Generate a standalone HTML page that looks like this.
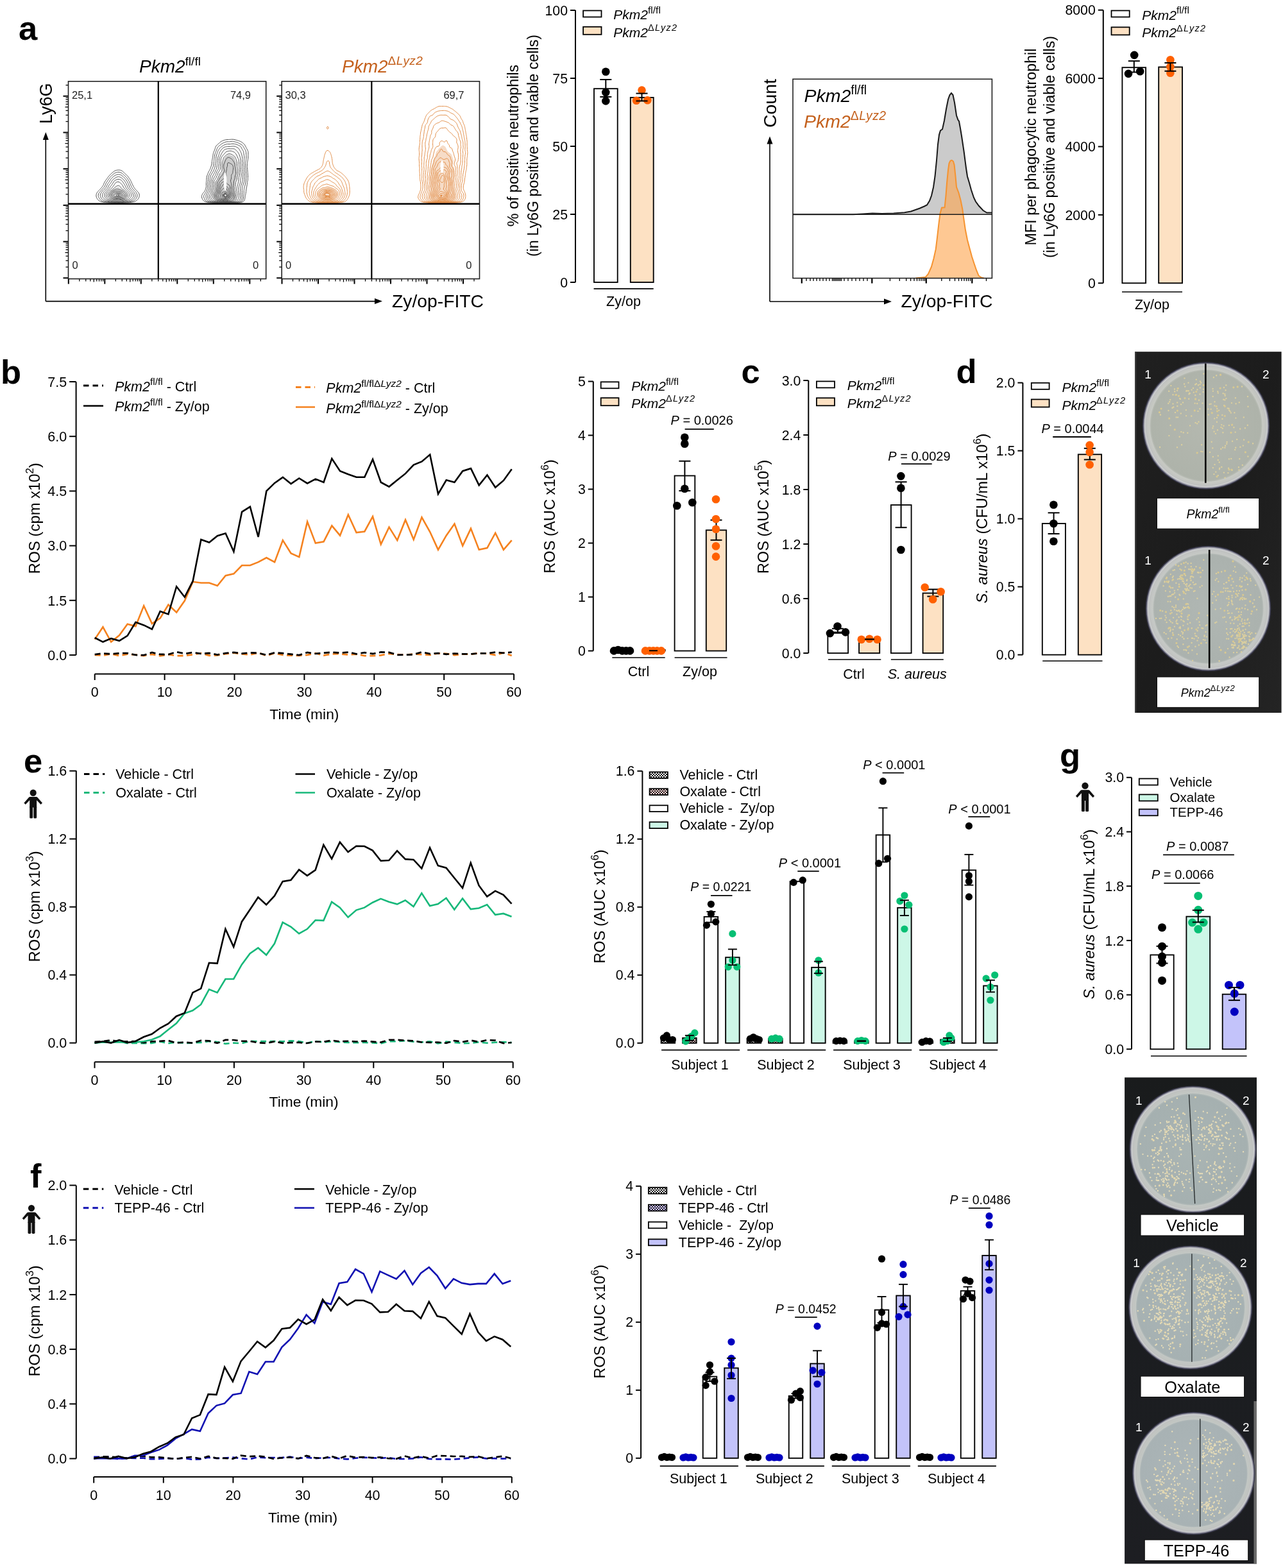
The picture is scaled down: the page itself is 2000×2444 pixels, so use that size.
<!DOCTYPE html>
<html><head><meta charset="utf-8"><title>Figure</title>
<style>html,body{margin:0;padding:0;background:#fff;} svg{display:block;} text{font-family:"Liberation Sans", Arial, sans-serif;}</style>
</head><body>
<svg width="2000" height="2444" viewBox="0 0 2000 2444" font-family='"Liberation Sans", Arial, sans-serif'>
<rect width="2000" height="2444" fill="#fff"/>
<text x="29" y="62" font-size="52.5" font-weight="bold" >a</text>
<text x="217" y="112.7" font-size="28" ><tspan font-style="italic">Pkm2</tspan><tspan dy="-11.2" font-size="19.04">fl/fl</tspan></text>
<text x="533" y="113" font-size="28" fill="#c4601c" ><tspan font-style="italic">Pkm2</tspan><tspan dy="-11.76" font-size="19.04" letter-spacing="0.42">&#916;<tspan font-style="italic">Lyz2</tspan></tspan></text>
<text transform="translate(80.5,161.3) rotate(-90)" font-size="27" text-anchor="middle" >Ly6G</text>
<line x1="71.3" y1="469.6" x2="71.3" y2="215" stroke="#000" stroke-width="1.6" />
<path d="M71.3,206 L66.8,218 L75.8,218 Z" fill="#000" stroke="none" stroke-width="0" />
<line x1="71.3" y1="469.6" x2="586" y2="469.6" stroke="#000" stroke-width="1.6" />
<path d="M596,469.6 L584,465.1 L584,474.1 Z" fill="#000" stroke="none" stroke-width="0" />
<text x="611" y="479.3" font-size="28.3" >Zy/op-FITC</text>
<path d="M186.8,311.4L185.6,311.5L184.4,311.6L183.2,311.6L182.0,311.6L180.8,311.6L179.6,311.5L178.4,311.4L177.8,311.3L176.6,311.0L175.9,310.8L174.8,310.3L174.2,310.0L173.5,309.6L172.4,309.0L171.8,308.7L171.2,308.3L170.5,307.8L169.9,307.2L169.4,306.5L168.9,305.4L168.8,304.8L168.8,303.6L168.9,303.0L169.4,301.8L169.7,301.2L170.1,300.6L170.6,300.0L171.2,299.3L171.8,298.8L172.5,298.2L173.3,297.6L174.2,297.0L174.8,296.5L175.4,296.1L176.0,295.7L176.6,295.2L177.4,294.6L178.3,294.0L179.0,293.5L179.6,293.1L180.2,292.7L181.1,292.2L182.0,291.8L182.6,291.6L183.8,291.3L185.0,291.5L185.6,291.7L186.3,292.2L186.9,292.8L187.6,293.4L188.2,294.0L188.9,294.6L189.8,295.2L190.4,295.5L191.0,295.9L191.9,296.4L192.8,297.0L193.4,297.4L194.0,297.9L194.6,298.4L195.2,298.9L195.8,299.5L196.4,300.1L197.0,300.8L197.6,301.7L198.0,302.4L198.3,303.0L198.5,304.2L198.3,305.4L198.1,306.0L197.6,306.8L197.0,307.6L196.4,308.2L195.8,308.8L195.2,309.3L194.6,309.6L193.4,310.2L192.8,310.4L191.6,310.7L191.0,310.9L189.8,311.1L188.6,311.2L187.4,311.3L186.8,311.4" fill="#505050" stroke="none" stroke-width="0" fill-opacity="0.2"/>
<path d="M193.4,316.2L192.2,316.3L191.0,316.4L189.8,316.4L188.6,316.5L187.4,316.5L186.2,316.5L185.0,316.5L183.8,316.5L182.6,316.5L181.4,316.5L180.2,316.5L179.0,316.5L177.8,316.4L176.6,316.4L175.4,316.3L174.2,316.3L173.0,316.2L172.4,316.2L171.2,316.1L170.0,316.0L168.8,316.0L167.6,315.9L166.4,315.8L165.2,315.6L164.6,315.6L163.4,315.5L162.2,315.3L161.0,315.1L160.4,315.0L159.2,314.7L158.0,314.4L157.4,314.2L156.3,313.8L155.6,313.5L155.0,313.2L154.1,312.6L153.4,312.0L152.7,311.4L152.2,310.8L151.8,310.2L151.4,309.6L150.8,308.4L150.5,307.8L150.2,306.9L150.0,306.0L149.9,304.8L150.0,303.6L150.2,302.7L150.5,301.8L150.8,301.1L151.4,300.1L151.9,299.4L152.4,298.8L152.9,298.2L153.5,297.6L154.1,297.0L154.7,296.4L155.3,295.8L155.9,295.2L156.5,294.6L157.0,294.0L157.5,293.4L158.1,292.8L158.6,292.1L159.2,291.4L159.8,290.6L160.3,289.8L160.7,289.2L161.0,288.6L161.5,287.4L161.7,286.8L162.2,285.7L162.5,285.0L162.8,284.3L163.4,283.2L163.8,282.6L164.2,282.0L164.6,281.4L165.2,280.6L165.8,279.8L166.4,279.0L166.8,278.4L167.2,277.8L167.7,277.2L168.2,276.5L168.8,275.7L169.4,274.9L170.0,274.2L170.5,273.6L171.0,273.0L171.6,272.4L172.2,271.8L172.9,271.2L173.5,270.6L174.1,270.0L174.8,269.4L175.4,268.9L176.0,268.4L176.6,267.9L177.2,267.4L177.8,267.0L178.8,266.4L179.6,266.0L180.2,265.8L181.4,265.4L182.6,265.2L183.2,265.1L184.4,265.0L185.6,265.0L186.8,265.1L187.4,265.2L188.6,265.6L189.2,265.8L190.4,266.4L191.0,266.8L191.6,267.3L192.2,267.9L192.8,268.5L193.4,269.1L194.0,269.7L194.6,270.3L195.2,270.9L195.8,271.5L196.4,272.0L197.0,272.5L197.6,273.1L198.2,273.7L198.8,274.3L199.4,275.0L200.0,275.8L200.6,276.6L201.0,277.2L201.4,277.8L201.8,278.4L202.4,279.2L203.0,280.2L203.4,280.8L203.7,281.4L204.2,282.5L204.5,283.2L204.8,283.8L205.3,285.0L205.6,285.6L206.0,286.5L206.4,287.4L206.7,288.0L207.2,289.0L207.6,289.8L207.9,290.4L208.4,291.3L208.9,292.2L209.3,292.8L209.7,293.4L210.2,294.0L210.8,294.8L211.4,295.4L212.0,296.1L212.6,296.7L213.2,297.3L213.8,298.0L214.4,298.6L215.0,299.3L215.5,300.0L216.0,300.6L216.4,301.2L216.8,302.1L217.1,303.0L217.3,304.2L217.2,305.4L217.0,306.6L216.8,307.2L216.3,308.4L216.0,309.0L215.6,309.7L215.0,310.5L214.4,311.2L213.8,311.7L213.2,312.2L212.6,312.7L211.8,313.2L210.8,313.7L210.2,314.0L209.1,314.4L208.4,314.6L207.2,314.9L206.5,315.0L205.4,315.2L204.2,315.4L203.0,315.5L202.2,315.6L201.2,315.7L200.0,315.8L198.8,315.9L197.6,316.0L196.4,316.1L195.2,316.1L194.0,316.2L193.4,316.2" fill="none" stroke="#505050" stroke-width="1.0" />
<path d="M194.6,315.6L193.4,315.7L192.2,315.8L191.0,315.9L189.8,315.9L188.6,316.0L187.4,316.0L186.2,316.0L185.0,316.0L183.8,316.0L182.6,316.0L181.4,316.0L180.2,316.0L179.0,316.0L177.8,315.9L176.6,315.9L175.4,315.9L174.2,315.8L173.0,315.7L171.8,315.6L171.2,315.6L170.0,315.5L168.8,315.3L167.6,315.2L166.4,315.1L165.8,315.0L164.6,314.8L163.4,314.6L162.4,314.4L161.6,314.2L160.5,313.8L159.8,313.5L159.2,313.2L158.2,312.6L157.4,312.0L156.8,311.5L156.2,310.9L155.6,310.3L155.1,309.6L154.7,309.0L154.3,308.4L153.8,307.4L153.5,306.6L153.2,305.4L153.2,304.8L153.2,304.2L153.4,303.0L153.8,301.8L154.1,301.2L154.5,300.6L155.0,299.9L155.6,299.1L156.2,298.5L156.8,297.8L157.4,297.1L158.0,296.4L158.6,295.8L159.1,295.2L159.7,294.6L160.2,294.0L160.8,293.4L161.4,292.8L161.9,292.2L162.4,291.6L162.9,291.0L163.4,290.0L163.8,289.2L164.0,288.6L164.5,287.4L164.7,286.8L165.2,285.8L165.6,285.0L166.0,284.4L166.4,283.8L167.0,282.9L167.6,282.1L168.0,281.4L168.4,280.8L168.8,280.2L169.4,279.3L170.0,278.4L170.5,277.8L170.9,277.2L171.4,276.6L171.9,276.0L172.5,275.4L173.0,274.8L173.6,274.2L174.2,273.6L174.9,273.0L175.6,272.4L176.3,271.8L177.1,271.2L177.8,270.6L178.4,270.2L179.0,269.8L179.8,269.4L180.8,269.0L181.4,268.8L182.6,268.5L183.8,268.3L185.0,268.3L186.2,268.4L187.4,268.7L188.0,268.9L189.1,269.4L189.8,269.8L190.4,270.2L191.0,270.7L191.6,271.3L192.2,271.8L192.8,272.4L193.5,273.0L194.1,273.6L194.7,274.2L195.4,274.8L196.0,275.4L196.6,276.0L197.2,276.6L197.7,277.2L198.2,277.8L198.8,278.6L199.4,279.6L199.8,280.2L200.2,280.8L200.6,281.6L201.2,282.6L201.5,283.2L201.8,283.9L202.3,285.0L202.6,285.6L203.0,286.5L203.4,287.4L203.6,288.0L204.1,289.2L204.4,289.8L204.8,290.8L205.2,291.6L205.5,292.2L206.0,292.9L206.6,293.8L207.2,294.6L207.7,295.2L208.2,295.8L208.8,296.4L209.4,297.0L210.1,297.6L210.7,298.2L211.2,298.8L211.7,299.4L212.2,300.0L212.6,300.7L213.2,301.8L213.5,302.4L213.8,303.5L213.9,304.2L213.9,305.4L213.8,306.0L213.4,307.2L213.2,307.8L212.6,308.8L212.1,309.6L211.5,310.2L210.9,310.8L210.3,311.4L209.6,311.9L209.0,312.4L208.4,312.8L207.7,313.2L206.6,313.7L206.0,313.9L204.8,314.3L204.2,314.5L203.0,314.7L201.8,314.9L201.2,315.0L200.0,315.2L198.8,315.3L197.6,315.4L196.4,315.5L195.2,315.6L194.6,315.6" fill="none" stroke="#505050" stroke-width="1.0" />
<path d="M194.6,315.0L193.4,315.1L192.2,315.2L191.0,315.3L189.8,315.4L188.6,315.4L187.4,315.5L186.2,315.5L185.0,315.5L183.8,315.5L182.6,315.5L181.4,315.5L180.2,315.5L179.0,315.4L177.8,315.4L176.6,315.4L175.4,315.3L174.2,315.2L173.0,315.1L172.0,315.0L171.2,314.9L170.0,314.7L168.8,314.6L167.7,314.4L167.0,314.3L165.8,314.0L165.1,313.8L164.0,313.4L163.4,313.1L162.3,312.6L161.6,312.2L161.0,311.9L160.4,311.4L159.6,310.8L159.0,310.2L158.4,309.6L158.0,309.0L157.4,308.1L156.9,307.2L156.7,306.6L156.4,305.4L156.3,304.2L156.5,303.0L156.8,302.2L157.3,301.2L157.6,300.6L158.0,300.0L158.6,299.2L159.2,298.5L159.8,297.8L160.4,297.1L161.0,296.5L161.6,295.9L162.2,295.3L162.8,294.8L163.4,294.2L164.0,293.7L164.6,293.0L165.2,292.2L165.6,291.6L165.9,291.0L166.4,289.9L166.7,289.2L167.0,288.4L167.5,287.4L167.8,286.8L168.2,286.2L168.8,285.4L169.4,284.6L170.0,283.8L170.4,283.2L170.7,282.6L171.2,281.8L171.7,280.8L172.1,280.2L172.5,279.6L173.0,278.9L173.6,278.2L174.2,277.5L174.8,277.0L175.4,276.4L176.0,275.9L176.6,275.4L177.4,274.8L178.2,274.2L179.0,273.6L179.6,273.3L180.2,273.0L181.4,272.5L182.0,272.3L183.2,272.0L184.4,271.9L185.6,272.0L186.8,272.2L187.7,272.4L188.6,272.8L189.2,273.1L190.0,273.6L190.7,274.2L191.4,274.8L192.0,275.4L192.6,276.0L193.2,276.6L193.9,277.2L194.5,277.8L195.1,278.4L195.6,279.0L196.1,279.6L196.5,280.2L197.0,281.0L197.6,282.0L198.0,282.6L198.3,283.2L198.8,284.1L199.3,285.0L199.6,285.6L200.0,286.4L200.5,287.4L200.7,288.0L201.1,289.2L201.3,289.8L201.8,291.0L202.0,291.6L202.4,292.3L203.0,293.3L203.5,294.0L203.9,294.6L204.4,295.2L204.9,295.8L205.5,296.4L206.0,297.0L206.6,297.6L207.2,298.2L207.8,298.8L208.4,299.4L209.0,300.1L209.6,301.0L210.1,301.8L210.4,302.4L210.8,303.6L210.9,304.2L210.9,305.4L210.8,306.2L210.5,307.2L210.1,307.8L209.6,308.6L209.0,309.3L208.4,310.0L207.8,310.5L207.2,311.1L206.6,311.5L206.0,312.0L205.0,312.6L204.2,313.0L203.6,313.3L202.4,313.7L201.8,313.9L200.6,314.2L199.5,314.4L198.8,314.5L197.6,314.7L196.4,314.8L195.2,314.9L194.6,315.0" fill="none" stroke="#505050" stroke-width="1.0" />
<path d="M192.8,314.5L191.6,314.6L190.4,314.7L189.2,314.8L188.0,314.9L186.8,314.9L185.6,314.9L184.4,314.9L183.2,314.9L182.0,314.9L180.8,314.9L179.6,314.8L178.4,314.8L177.2,314.8L176.0,314.7L174.8,314.6L173.6,314.4L173.0,314.3L171.8,314.1L170.6,313.9L170.0,313.7L168.8,313.4L168.0,313.2L167.0,312.8L166.4,312.6L165.3,312.0L164.6,311.5L164.0,311.1L163.4,310.6L162.8,310.2L162.1,309.6L161.5,309.0L160.9,308.4L160.4,307.7L159.8,306.6L159.6,306.0L159.5,304.8L159.6,303.6L159.8,302.8L160.2,301.8L160.5,301.2L161.0,300.3L161.6,299.5L162.1,298.8L162.7,298.2L163.2,297.6L163.8,297.0L164.4,296.4L165.1,295.8L165.7,295.2L166.3,294.6L166.9,294.0L167.5,293.4L168.0,292.8L168.3,292.2L168.8,291.3L169.2,290.4L169.4,289.8L170.0,288.6L170.4,288.0L170.8,287.4L171.3,286.8L171.8,286.2L172.4,285.4L173.0,284.6L173.5,283.8L173.8,283.2L174.2,282.5L174.8,281.5L175.3,280.8L175.9,280.2L176.6,279.6L177.2,279.2L177.8,278.7L178.4,278.3L179.2,277.8L180.0,277.2L180.8,276.6L181.4,276.3L182.1,276.0L183.2,275.7L184.4,275.5L185.6,275.6L186.8,275.9L187.4,276.1L188.3,276.6L189.2,277.2L189.8,277.6L190.4,278.1L191.0,278.6L191.6,279.1L192.2,279.6L192.8,280.2L193.4,280.9L194.0,281.7L194.6,282.6L195.0,283.2L195.3,283.8L195.8,284.6L196.4,285.6L196.7,286.2L197.0,286.8L197.6,288.0L197.9,288.6L198.2,289.5L198.5,290.4L198.8,291.1L199.3,292.2L199.7,292.8L200.1,293.4L200.6,294.1L201.2,294.9L201.8,295.6L202.4,296.3L203.0,297.0L203.6,297.6L204.2,298.2L204.8,298.8L205.4,299.4L205.9,300.0L206.4,300.6L206.8,301.2L207.2,301.9L207.7,303.0L207.9,303.6L208.1,304.8L208.0,306.0L207.8,306.6L207.2,307.6L206.7,308.4L206.2,309.0L205.6,309.6L204.9,310.2L204.2,310.8L203.6,311.2L203.0,311.5L202.1,312.0L201.2,312.4L200.6,312.7L199.4,313.1L198.8,313.3L197.6,313.6L196.8,313.8L195.8,314.0L194.6,314.2L193.4,314.4L192.8,314.5" fill="none" stroke="#505050" stroke-width="1.0" />
<path d="M190.4,313.9L189.2,314.0L188.0,314.1L186.8,314.1L185.6,314.2L184.4,314.2L183.2,314.2L182.0,314.2L180.8,314.1L179.6,314.1L178.4,314.0L177.2,314.0L176.0,313.9L175.4,313.8L174.2,313.5L173.0,313.2L172.4,313.0L171.2,312.7L170.6,312.5L169.4,312.0L168.8,311.8L167.9,311.4L167.0,310.8L166.4,310.4L165.8,309.9L165.2,309.3L164.6,308.6L164.0,307.9L163.5,307.2L163.2,306.6L162.8,305.6L162.7,304.8L162.7,303.6L162.8,303.0L163.2,301.8L163.5,301.2L164.0,300.4L164.6,299.5L165.2,298.8L165.7,298.2L166.2,297.6L166.8,297.0L167.4,296.4L168.0,295.8L168.7,295.2L169.3,294.6L169.9,294.0L170.5,293.4L170.9,292.8L171.3,292.2L171.8,291.4L172.4,290.5L172.9,289.8L173.4,289.2L173.8,288.6L174.3,288.0L174.8,287.3L175.4,286.4L175.9,285.6L176.2,285.0L176.6,284.2L177.2,283.3L177.7,282.6L178.3,282.0L179.0,281.5L179.6,281.1L180.2,280.8L181.4,280.2L182.0,279.9L183.0,279.6L183.8,279.4L185.0,279.4L186.2,279.5L186.8,279.7L187.8,280.2L188.6,280.7L189.2,281.1L189.8,281.6L190.4,282.2L191.0,282.9L191.6,283.7L192.0,284.4L192.4,285.0L192.8,285.6L193.4,286.5L193.9,287.4L194.3,288.0L194.6,288.6L195.2,289.8L195.4,290.4L195.8,291.2L196.3,292.2L196.6,292.8L197.0,293.4L197.6,294.3L198.2,295.1L198.8,295.8L199.4,296.4L199.9,297.0L200.5,297.6L201.1,298.2L201.7,298.8L202.4,299.4L203.0,300.0L203.5,300.6L204.0,301.2L204.4,301.8L204.8,302.8L205.0,303.6L204.9,304.8L204.8,305.4L204.3,306.6L203.9,307.2L203.5,307.8L203.0,308.5L202.4,309.1L201.8,309.6L201.1,310.2L200.2,310.8L199.4,311.3L198.8,311.6L197.9,312.0L197.0,312.4L196.2,312.6L195.2,312.9L194.0,313.2L193.4,313.3L192.2,313.6L191.0,313.8L190.4,313.9" fill="none" stroke="#505050" stroke-width="1.0" />
<path d="M184.4,313.2L183.2,313.2L182.4,313.2L181.4,313.2L180.2,313.1L179.0,313.1L177.8,313.0L176.6,312.8L175.6,312.6L174.8,312.4L173.8,312.0L173.0,311.7L172.2,311.4L171.2,311.0L170.6,310.8L169.4,310.2L168.8,309.9L168.2,309.4L167.6,308.9L167.0,308.3L166.4,307.4L165.9,306.6L165.6,306.0L165.3,304.8L165.3,303.6L165.7,302.4L165.9,301.8L166.4,300.9L166.9,300.0L167.3,299.4L167.8,298.8L168.3,298.2L168.9,297.6L169.6,297.0L170.4,296.4L171.1,295.8L171.8,295.3L172.4,294.8L173.0,294.2L173.6,293.7L174.2,293.1L174.8,292.4L175.4,291.7L176.0,291.0L176.4,290.4L176.8,289.8L177.2,289.2L177.8,288.3L178.4,287.4L178.8,286.8L179.2,286.2L179.7,285.6L180.2,285.0L180.8,284.4L181.9,283.8L182.6,283.6L183.8,283.5L185.0,283.6L185.6,283.8L186.7,284.4L187.4,284.9L188.0,285.5L188.6,286.1L189.2,286.7L189.8,287.4L190.3,288.0L190.8,288.6L191.2,289.2L191.6,289.9L192.1,291.0L192.4,291.6L192.8,292.2L193.4,293.1L194.0,293.8L194.6,294.5L195.2,295.2L195.7,295.8L196.3,296.4L196.9,297.0L197.5,297.6L198.1,298.2L198.7,298.8L199.2,299.4L199.8,300.0L200.4,300.6L200.9,301.2L201.4,301.8L201.8,302.5L202.1,303.6L201.9,304.8L201.7,305.4L201.2,306.4L200.7,307.2L200.3,307.8L199.8,308.4L199.2,309.0L198.5,309.6L197.7,310.2L197.0,310.6L196.4,311.0L195.4,311.4L194.6,311.7L193.5,312.0L192.8,312.2L191.6,312.5L191.0,312.6L189.8,312.8L188.6,313.0L187.4,313.1L186.2,313.1L185.0,313.2L184.4,313.2" fill="none" stroke="#505050" stroke-width="1.0" />
<path d="M183.8,312.0L182.6,312.0L181.8,312.0L180.8,312.0L179.6,311.9L178.4,311.8L177.2,311.6L176.3,311.4L175.4,311.1L174.8,310.8L173.6,310.2L173.0,310.0L172.3,309.6L171.2,309.1L170.6,308.7L170.0,308.3L169.4,307.7L168.8,307.0L168.3,306.0L168.0,305.4L167.9,304.2L168.1,303.0L168.3,302.4L168.8,301.3L169.2,300.6L169.6,300.0L170.1,299.4L170.7,298.8L171.4,298.2L172.2,297.6L173.0,297.1L173.6,296.6L174.2,296.2L174.8,295.8L175.5,295.2L176.3,294.6L177.0,294.0L177.7,293.4L178.4,292.8L179.0,292.2L179.6,291.7L180.2,291.2L180.8,290.8L181.4,290.4L182.4,289.8L183.2,289.4L184.4,289.2L185.6,289.5L186.2,289.8L186.9,290.4L187.5,291.0L188.0,291.7L188.6,292.6L189.2,293.4L189.7,294.0L190.4,294.6L191.0,295.0L191.6,295.4L192.3,295.8L193.1,296.4L193.9,297.0L194.6,297.6L195.2,298.1L195.8,298.7L196.4,299.2L197.0,299.9L197.6,300.6L198.1,301.2L198.5,301.8L198.9,302.4L199.3,303.6L199.3,304.8L198.9,306.0L198.5,306.6L198.1,307.2L197.6,307.8L197.0,308.5L196.4,309.0L195.6,309.6L194.6,310.2L194.0,310.4L193.0,310.8L192.2,311.0L191.0,311.3L190.3,311.4L189.2,311.6L188.0,311.7L186.8,311.8L185.6,311.9L184.4,312.0L183.8,312.0" fill="none" stroke="#505050" stroke-width="1.0" />
<path d="M189.2,310.2L188.0,310.4L186.8,310.5L185.6,310.6L184.4,310.7L183.2,310.7L182.0,310.7L180.8,310.7L179.6,310.6L178.4,310.5L177.2,310.2L176.6,310.0L175.7,309.6L174.8,309.1L174.2,308.7L173.6,308.3L172.8,307.8L172.1,307.2L171.5,306.6L171.1,306.0L170.6,304.8L170.5,304.2L170.6,303.2L170.9,302.4L171.2,301.7L171.8,300.8L172.4,300.0L173.0,299.4L173.6,298.9L174.2,298.4L174.8,298.0L175.4,297.6L176.3,297.0L177.2,296.4L177.8,296.1L178.4,295.8L179.6,295.3L180.2,295.1L181.4,294.9L182.6,294.8L183.8,294.9L185.0,295.1L185.6,295.3L186.8,295.6L187.4,295.8L188.6,296.3L189.2,296.6L190.1,297.0L191.0,297.5L191.6,297.9L192.2,298.3L192.9,298.8L193.7,299.4L194.4,300.0L195.0,300.6L195.6,301.2L196.0,301.8L196.4,302.5L196.8,303.6L196.8,304.8L196.4,306.0L196.0,306.6L195.6,307.2L195.1,307.8L194.5,308.4L193.6,309.0L192.8,309.4L192.2,309.6L191.0,309.9L189.8,310.1L189.2,310.2" fill="none" stroke="#505050" stroke-width="1.0" />
<path d="M188.0,309.0L186.8,309.2L185.6,309.3L184.4,309.4L183.2,309.4L182.0,309.4L180.8,309.4L179.6,309.3L178.4,309.1L177.8,309.0L176.6,308.4L176.0,308.0L175.4,307.6L174.8,307.1L174.2,306.6L173.6,305.9L173.0,304.8L172.8,304.2L172.9,303.0L173.1,302.4L173.6,301.5L174.2,300.6L174.8,300.0L175.4,299.5L176.0,299.0L176.6,298.7L177.5,298.2L178.4,297.9L179.5,297.6L180.2,297.5L181.4,297.5L182.6,297.5L183.5,297.6L184.4,297.7L185.6,297.9L186.8,298.1L187.4,298.2L188.6,298.6L189.2,298.8L190.2,299.4L191.0,300.0L191.6,300.5L192.2,301.0L192.8,301.6L193.4,302.2L194.0,302.9L194.3,303.6L194.4,304.8L194.0,306.0L193.6,306.6L193.1,307.2L192.4,307.8L191.6,308.2L191.0,308.5L189.8,308.8L188.6,308.9L188.0,309.0" fill="none" stroke="#505050" stroke-width="1.0" />
<path d="M187.4,307.8L186.2,308.0L185.0,308.1L183.8,308.1L182.6,308.1L181.4,308.1L180.2,308.0L179.0,307.8L178.4,307.7L177.4,307.2L176.6,306.6L176.0,306.1L175.4,305.4L175.0,304.8L174.8,303.7L174.8,303.5L175.1,302.4L175.4,301.8L176.0,301.1L176.6,300.6L177.8,300.0L178.4,299.9L179.6,299.7L180.8,299.6L182.0,299.5L183.2,299.6L184.4,299.7L185.6,299.9L186.3,300.0L187.4,300.2L188.4,300.6L189.2,301.0L189.8,301.5L190.4,302.1L191.0,302.8L191.6,303.6L191.8,304.2L191.8,305.4L191.5,306.0L190.9,306.6L189.8,307.2L189.2,307.4L188.0,307.7L187.4,307.8" fill="none" stroke="#505050" stroke-width="1.0" />
<path d="M186.8,306.7L185.6,306.9L184.4,306.9L183.2,306.9L182.0,306.8L180.8,306.7L180.0,306.6L179.0,306.2L178.4,305.9L177.8,305.3L177.2,304.2L177.2,303.6L177.5,303.0L178.4,302.5L179.0,302.3L180.2,302.0L181.0,301.8L182.0,301.5L183.2,301.4L184.4,301.4L185.6,301.5L186.8,301.7L187.4,301.9L188.3,302.4L189.0,303.0L189.4,303.6L189.6,304.8L189.2,305.5L188.6,306.0L187.4,306.5L186.8,306.7" fill="none" stroke="#505050" stroke-width="1.0" />
<path d="M186.2,305.5L185.0,305.7L183.8,305.7L182.6,305.5L181.9,305.4L180.9,304.8L181.4,303.8L182.0,303.4L183.2,303.0L183.8,302.9L185.0,302.9L186.0,303.0L186.8,303.4L187.4,304.0L187.4,304.5L186.8,305.2L186.2,305.5" fill="none" stroke="#505050" stroke-width="1.0" />
<path d="M185.0,304.3L184.2,304.2L185.0,304.2L185.0,304.3" fill="none" stroke="#505050" stroke-width="1.0" />
<path d="M185.0,304.3L184.2,304.2L185.0,304.2L185.0,304.3" fill="none" stroke="#505050" stroke-width="1.0" />
<path d="M355.8,314.6L354.6,314.7L353.4,314.8L352.2,314.9L351.0,314.9L349.8,314.8L348.6,314.7L347.4,314.6L346.8,314.6L345.6,314.5L344.4,314.3L343.2,314.2L342.3,314.0L341.4,313.8L340.2,313.5L339.6,313.4L338.4,313.0L337.8,312.7L336.7,312.2L336.0,311.8L335.4,311.4L334.8,311.0L334.1,310.4L333.6,309.7L333.0,308.7L332.8,308.0L332.5,306.8L332.5,305.6L332.5,304.4L332.6,303.2L332.9,302.0L333.2,301.4L333.6,300.5L334.2,299.6L334.5,299.0L334.9,298.4L335.3,297.2L335.4,296.6L335.6,295.4L335.9,294.2L336.0,293.6L336.3,292.4L336.5,291.2L336.6,290.0L336.6,289.4L336.7,288.2L336.7,287.0L336.7,285.8L336.9,284.6L337.2,283.7L337.7,282.8L338.2,282.2L338.6,281.6L339.0,281.0L339.6,279.9L339.9,279.2L340.2,278.5L340.7,277.4L341.0,276.8L341.4,276.0L341.9,275.0L342.1,274.4L342.6,273.2L342.8,272.6L343.2,271.8L343.8,270.8L344.4,270.2L345.0,269.6L345.6,269.0L346.1,268.4L346.6,267.8L346.9,267.2L347.2,266.0L347.2,264.8L347.0,263.6L346.9,262.4L346.9,261.2L346.9,260.0L346.9,258.8L346.9,257.6L346.9,256.4L347.1,255.2L347.4,254.0L347.6,253.4L348.0,252.2L348.2,251.6L348.6,250.7L348.9,249.8L349.2,248.8L349.4,248.0L349.8,246.9L350.1,246.2L350.5,245.6L351.0,245.0L351.6,244.3L352.2,243.7L352.9,243.2L353.7,242.6L354.6,242.1L355.2,241.9L356.4,241.6L357.6,241.6L358.8,241.9L359.4,242.1L360.6,242.5L361.2,242.7L362.4,243.1L363.0,243.4L363.7,243.8L364.5,244.4L365.0,245.0L365.4,245.6L365.9,246.8L366.1,247.4L366.4,248.6L366.6,249.2L367.0,250.4L367.3,251.0L367.8,252.2L368.0,252.8L368.4,254.0L368.5,254.6L368.6,255.8L368.5,257.0L368.5,258.2L368.6,259.4L368.9,260.6L369.1,261.2L369.4,262.4L369.6,263.6L369.7,264.2L369.8,265.4L369.8,266.6L369.9,267.8L370.1,269.0L370.2,270.2L370.1,271.4L369.8,272.6L369.5,273.2L369.1,274.4L368.9,275.0L368.7,276.2L368.6,277.4L368.4,278.5L368.2,279.2L367.8,280.3L367.5,281.0L367.2,281.6L366.8,282.8L366.6,283.8L366.5,284.6L366.4,285.8L366.2,287.0L366.0,288.2L365.9,288.8L365.7,290.0L365.5,291.2L365.3,291.8L365.2,293.0L365.2,294.2L365.2,295.4L365.3,296.6L365.4,297.2L365.6,298.4L365.9,299.6L366.0,300.2L366.3,301.4L366.6,302.3L366.8,303.2L366.9,304.4L366.7,305.6L366.6,306.2L366.2,307.4L366.0,308.1L365.7,309.2L365.4,310.1L365.1,311.0L364.8,311.6L364.2,312.3L363.6,312.9L362.8,313.4L361.8,313.8L361.0,314.0L360.0,314.2L358.8,314.3L357.6,314.4L356.4,314.6L355.8,314.6" fill="#505050" stroke="none" stroke-width="0" fill-opacity="0.3"/>
<path d="M363.0,317.0L361.8,317.1L360.6,317.2L359.4,317.2L358.2,317.2L357.0,317.3L355.8,317.3L354.6,317.3L353.4,317.3L352.2,317.3L351.0,317.3L349.8,317.3L348.6,317.3L347.4,317.3L346.2,317.2L345.0,317.2L343.8,317.1L342.6,317.1L341.6,317.0L340.8,317.0L339.6,316.9L338.4,316.9L337.2,316.8L336.0,316.7L334.8,316.6L333.6,316.5L332.8,316.4L331.8,316.3L330.6,316.2L329.4,316.1L328.2,316.0L327.1,315.8L326.4,315.7L325.2,315.6L324.0,315.4L323.2,315.2L322.2,315.0L321.0,314.7L320.4,314.6L319.2,314.1L318.6,313.8L318.0,313.4L317.4,312.8L316.8,312.2L316.2,311.4L315.6,310.4L315.3,309.8L315.0,309.0L314.7,308.0L314.5,306.8L314.5,305.6L314.7,304.4L315.0,303.7L315.5,302.6L315.9,302.0L316.3,301.4L316.8,300.8L317.4,300.2L318.0,299.5L318.6,298.8L319.2,297.8L319.5,297.2L319.8,296.5L320.2,295.4L320.4,294.8L320.8,293.6L321.0,293.0L321.3,291.8L321.4,290.6L321.4,289.4L321.4,288.2L321.4,287.0L321.4,285.8L321.4,284.6L321.5,283.4L321.6,282.8L321.8,281.6L321.8,280.4L321.9,279.2L322.0,278.0L322.1,276.8L322.2,276.2L322.5,275.0L322.8,274.0L323.0,273.2L323.4,272.2L323.7,271.4L324.0,270.7L324.4,269.6L324.7,269.0L325.2,267.9L325.5,267.2L325.8,266.6L326.4,265.7L326.9,264.8L327.2,264.2L327.6,263.4L328.0,262.4L328.2,261.8L328.6,260.6L328.8,260.0L329.2,258.8L329.4,258.2L329.7,257.0L330.0,255.8L330.1,255.2L330.2,254.0L330.3,252.8L330.5,251.6L330.6,250.6L330.7,249.8L330.9,248.6L331.1,247.4L331.2,246.8L331.4,245.6L331.6,244.4L331.8,243.2L331.9,242.6L332.1,241.4L332.2,240.2L332.4,239.4L332.6,238.4L333.0,237.3L333.3,236.6L333.6,235.9L334.1,234.8L334.4,234.2L334.8,233.1L335.0,232.4L335.4,231.2L335.5,230.6L335.9,229.4L336.1,228.8L336.6,227.9L337.2,227.1L337.8,226.5L338.4,225.9L339.0,225.4L339.6,224.9L340.2,224.4L340.8,223.9L341.4,223.3L342.0,222.7L342.6,222.1L343.2,221.6L344.0,221.0L345.0,220.4L345.6,220.1L346.2,219.8L347.4,219.3L348.0,219.0L349.1,218.6L349.8,218.4L351.0,218.0L351.6,217.9L352.8,217.7L354.0,217.6L355.2,217.5L356.4,217.5L357.6,217.4L358.2,217.4L359.4,217.3L360.6,217.2L361.8,217.2L363.0,217.2L364.2,217.3L364.8,217.4L366.0,217.7L367.1,218.0L367.8,218.2L369.0,218.5L369.6,218.7L370.8,219.0L371.4,219.2L372.6,219.6L373.2,219.8L374.4,220.3L375.0,220.6L375.8,221.0L376.8,221.6L377.4,221.9L378.0,222.4L378.6,222.9L379.2,223.4L379.9,224.0L380.5,224.6L381.0,225.2L381.6,226.0L382.2,227.0L382.5,227.6L382.8,228.2L383.4,229.4L383.7,230.0L384.0,230.6L384.6,231.6L385.0,232.4L385.4,233.0L385.8,233.9L386.2,234.8L386.5,235.4L386.8,236.6L386.9,237.8L386.9,239.0L386.9,240.2L386.9,241.4L386.9,242.6L386.9,243.8L386.9,245.0L386.9,246.2L386.7,247.4L386.5,248.6L386.3,249.2L386.1,250.4L385.9,251.6L385.8,252.2L385.6,253.4L385.4,254.6L385.3,255.8L385.3,257.0L385.3,258.2L385.3,259.4L385.4,260.6L385.5,261.8L385.6,263.0L385.8,264.2L385.8,264.8L385.9,266.0L386.0,267.2L386.1,268.4L386.2,269.6L386.3,270.8L386.3,272.0L386.4,272.8L386.5,273.8L386.5,275.0L386.4,276.2L386.4,277.4L386.4,278.3L386.4,279.2L386.3,280.4L386.1,281.6L385.8,282.8L385.7,283.4L385.5,284.6L385.4,285.8L385.2,287.0L385.2,287.6L385.0,288.8L384.8,290.0L384.6,291.1L384.5,291.8L384.2,293.0L384.0,294.0L383.9,294.8L383.7,296.0L383.6,297.2L383.5,298.4L383.4,299.0L383.3,300.2L383.1,301.4L382.9,302.6L382.8,303.2L382.6,304.4L382.3,305.6L382.2,306.5L382.1,307.4L381.9,308.6L381.7,309.8L381.6,310.4L381.2,311.6L381.0,312.2L380.4,313.1L379.8,313.7L379.2,314.2L378.5,314.6L377.4,315.0L376.8,315.2L375.6,315.6L374.5,315.8L373.8,315.9L372.6,316.1L371.4,316.3L370.3,316.4L369.6,316.5L368.4,316.6L367.2,316.8L366.0,316.8L364.8,316.9L363.6,317.0L363.0,317.0" fill="none" stroke="#505050" stroke-width="1.0" />
<path d="M365.4,316.4L364.2,316.5L363.0,316.6L361.8,316.7L360.6,316.8L359.4,316.8L358.2,316.8L357.0,316.9L355.8,316.9L354.6,316.9L353.4,316.9L352.2,316.9L351.0,316.9L349.8,316.9L348.6,316.9L347.4,316.9L346.2,316.8L345.0,316.8L343.8,316.7L342.6,316.7L341.4,316.6L340.2,316.6L339.0,316.5L338.3,316.4L337.2,316.3L336.0,316.3L334.8,316.2L333.6,316.1L332.4,315.9L331.3,315.8L330.6,315.7L329.4,315.6L328.2,315.4L327.0,315.2L326.4,315.1L325.2,314.8L324.3,314.6L323.4,314.3L322.5,314.0L321.6,313.6L321.0,313.2L320.4,312.7L319.8,312.0L319.2,311.0L318.9,310.4L318.6,309.7L318.2,308.6L317.9,308.0L317.6,306.8L317.6,305.6L317.9,304.4L318.2,303.8L318.6,303.1L319.2,302.2L319.8,301.4L320.2,300.8L320.6,300.2L321.0,299.6L321.6,298.5L321.9,297.8L322.2,297.1L322.6,296.0L322.8,295.4L323.2,294.2L323.4,293.4L323.6,292.4L323.7,291.2L323.7,290.0L323.7,288.8L323.7,287.6L323.7,286.4L323.7,285.2L323.9,284.0L324.0,283.4L324.2,282.2L324.4,281.0L324.5,279.8L324.6,279.1L324.7,278.0L324.9,276.8L325.2,275.6L325.3,275.0L325.7,273.8L325.9,273.2L326.4,272.0L326.6,271.4L327.0,270.8L327.6,269.7L328.0,269.0L328.4,268.4L328.8,267.6L329.3,266.6L329.5,266.0L330.0,264.9L330.3,264.2L330.6,263.4L331.0,262.4L331.3,261.8L331.8,260.7L332.1,260.0L332.4,259.2L332.6,258.2L332.8,257.0L332.8,255.8L333.0,254.6L333.1,254.0L333.3,252.8L333.5,251.6L333.6,250.5L333.7,249.8L333.8,248.6L333.9,247.4L334.0,246.2L334.2,245.0L334.2,244.4L334.4,243.2L334.6,242.0L334.8,241.1L335.0,240.2L335.4,239.1L335.7,238.4L336.0,237.7L336.4,236.6L336.7,236.0L337.2,234.8L337.4,234.2L337.8,233.2L338.1,232.4L338.4,231.5L338.7,230.6L339.1,230.0L339.6,229.2L340.2,228.6L340.8,228.0L341.4,227.5L342.0,227.0L342.8,226.4L343.5,225.8L344.3,225.2L345.0,224.7L345.6,224.2L346.2,223.8L346.9,223.4L348.0,222.8L348.6,222.5L349.4,222.2L350.4,221.8L351.0,221.6L352.2,221.2L353.1,221.0L354.0,220.9L355.2,220.9L356.4,220.9L357.6,220.9L358.8,220.8L360.0,220.6L361.2,220.4L361.8,220.4L362.4,220.4L363.6,220.5L364.8,220.7L365.9,221.0L366.6,221.2L367.8,221.5L368.4,221.7L369.6,222.0L370.2,222.2L371.4,222.7L372.0,223.0L372.8,223.4L373.8,223.9L374.4,224.3L375.0,224.6L376.1,225.2L376.8,225.6L377.4,226.1L378.0,226.7L378.6,227.5L379.1,228.2L379.5,228.8L379.8,229.4L380.4,230.4L380.9,231.2L381.2,231.8L381.6,232.4L382.2,233.4L382.6,234.2L382.9,234.8L383.3,236.0L383.4,236.6L383.6,237.8L383.6,239.0L383.7,240.2L383.8,241.4L383.9,242.6L383.9,243.8L384.0,245.0L383.9,246.2L383.8,247.4L383.6,248.6L383.4,249.8L383.3,250.4L383.1,251.6L382.9,252.8L382.8,253.5L382.7,254.6L382.7,255.8L382.7,257.0L382.8,258.2L382.8,258.9L382.9,260.0L383.0,261.2L383.2,262.4L383.3,263.6L383.4,264.2L383.5,265.4L383.6,266.6L383.6,267.8L383.6,269.0L383.7,270.2L383.8,271.4L383.9,272.6L383.9,273.8L383.9,275.0L383.8,276.2L383.7,277.4L383.7,278.6L383.6,279.8L383.5,281.0L383.4,281.8L383.2,282.8L383.0,284.0L382.8,285.0L382.6,285.8L382.4,287.0L382.2,287.8L382.0,288.8L381.6,290.0L381.5,290.6L381.2,291.8L381.0,292.4L380.7,293.6L380.5,294.8L380.4,295.7L380.3,296.6L380.2,297.8L380.2,299.0L380.2,300.2L380.2,301.4L380.1,302.6L380.0,303.8L379.9,305.0L379.8,305.6L379.7,306.8L379.5,308.0L379.4,309.2L379.2,310.0L378.9,311.0L378.6,311.7L378.0,312.7L377.5,313.4L376.8,314.0L376.2,314.4L375.6,314.7L374.4,315.1L373.8,315.3L372.6,315.6L371.4,315.8L370.8,315.9L369.6,316.0L368.4,316.2L367.2,316.3L366.0,316.4L365.4,316.4" fill="none" stroke="#505050" stroke-width="1.0" />
<path d="M357.6,316.4L356.4,316.5L355.2,316.5L354.0,316.5L352.8,316.6L351.6,316.6L350.4,316.5L349.2,316.5L348.0,316.5L346.8,316.4L346.2,316.4L345.0,316.4L343.8,316.3L342.6,316.3L341.4,316.2L340.2,316.2L339.0,316.1L337.8,316.0L336.6,315.9L336.0,315.8L334.8,315.7L333.6,315.6L332.4,315.4L331.2,315.3L330.6,315.2L329.4,314.9L328.2,314.7L327.6,314.5L326.4,314.1L325.8,313.9L324.7,313.4L324.0,312.9L323.4,312.5L322.8,311.9L322.2,311.1L321.9,310.4L321.6,309.7L321.3,308.6L321.1,307.4L321.0,306.8L321.0,305.6L321.0,305.0L321.3,303.8L321.6,303.1L322.2,302.0L322.5,301.4L322.9,300.8L323.4,299.9L323.9,299.0L324.2,298.4L324.6,297.5L325.0,296.6L325.3,296.0L325.7,294.8L325.8,294.2L326.0,293.0L326.1,291.8L326.1,290.6L326.1,289.4L326.1,288.2L326.1,287.0L326.2,285.8L326.3,284.6L326.4,283.9L326.6,282.8L326.8,281.6L327.0,280.4L327.1,279.8L327.4,278.6L327.6,277.5L327.7,276.8L328.0,275.6L328.2,274.7L328.5,273.8L328.8,272.9L329.3,272.0L329.6,271.4L330.0,270.8L330.6,269.9L331.2,269.0L331.6,268.4L331.9,267.8L332.4,266.9L332.9,266.0L333.1,265.4L333.6,264.2L333.9,263.6L334.2,262.8L334.6,261.8L334.8,261.2L335.1,260.0L335.3,258.8L335.4,257.6L335.4,257.0L335.6,255.8L335.8,254.6L336.0,253.8L336.2,252.8L336.4,251.6L336.5,250.4L336.6,249.2L336.6,248.6L336.7,247.4L336.8,246.2L336.9,245.0L337.1,243.8L337.2,243.1L337.5,242.0L337.8,241.0L338.1,240.2L338.4,239.2L338.7,238.4L339.0,237.5L339.3,236.6L339.6,235.8L340.1,234.8L340.4,234.2L340.8,233.6L341.4,232.7L342.0,231.8L342.5,231.2L343.0,230.6L343.6,230.0L344.3,229.4L345.0,228.9L345.6,228.4L346.2,228.0L346.8,227.5L347.6,227.0L348.6,226.4L349.2,226.1L349.8,225.8L351.0,225.4L351.6,225.1L352.8,224.8L353.6,224.6L354.6,224.5L355.8,224.5L357.0,224.6L358.2,224.6L359.4,224.5L360.6,224.3L361.8,224.2L363.0,224.2L364.2,224.2L365.4,224.4L366.6,224.6L367.2,224.7L368.4,225.0L369.0,225.2L370.2,225.8L370.8,226.0L371.6,226.4L372.6,226.8L373.2,227.1L374.1,227.6L374.9,228.2L375.4,228.8L375.8,229.4L376.2,230.1L376.7,231.2L377.0,231.8L377.4,232.5L378.0,233.4L378.5,234.2L378.8,234.8L379.2,235.5L379.6,236.6L379.8,237.7L379.9,238.4L380.0,239.6L380.2,240.8L380.4,242.0L380.5,242.6L380.7,243.8L380.8,245.0L380.8,246.2L380.7,247.4L380.6,248.6L380.4,249.8L380.4,250.4L380.3,251.6L380.2,252.8L380.1,254.0L380.1,255.2L380.2,256.4L380.2,257.6L380.3,258.8L380.4,260.0L380.5,260.6L380.6,261.8L380.8,263.0L380.9,264.2L381.0,264.8L381.1,266.0L381.2,267.2L381.2,268.4L381.2,269.6L381.2,270.8L381.3,272.0L381.3,273.2L381.3,274.4L381.2,275.6L381.1,276.8L381.1,278.0L381.1,279.2L381.0,280.4L381.0,281.0L380.8,282.2L380.4,283.4L380.2,284.0L379.9,285.2L379.7,285.8L379.3,287.0L379.2,287.6L378.8,288.8L378.6,289.4L378.2,290.6L378.0,291.5L377.8,292.4L377.7,293.6L377.5,294.8L377.4,295.8L377.3,296.6L377.3,297.8L377.3,299.0L377.4,300.2L377.4,300.8L377.4,302.0L377.4,303.2L377.4,303.8L377.3,305.0L377.3,306.2L377.2,307.4L377.1,308.6L376.8,309.8L376.7,310.4L376.2,311.5L375.8,312.2L375.5,312.8L375.0,313.4L374.4,314.0L373.3,314.6L372.6,314.8L371.4,315.1L370.8,315.3L369.6,315.5L368.4,315.7L367.2,315.8L366.6,315.9L365.4,316.0L364.2,316.1L363.0,316.2L361.8,316.3L360.6,316.3L359.4,316.4L358.2,316.4L357.6,316.4" fill="none" stroke="#505050" stroke-width="1.0" />
<path d="M362.4,315.8L361.2,315.9L360.0,316.0L358.8,316.0L357.6,316.1L356.4,316.1L355.2,316.1L354.0,316.2L352.8,316.2L351.6,316.2L350.4,316.2L349.2,316.2L348.0,316.1L346.8,316.1L345.6,316.0L344.4,316.0L343.2,315.9L342.0,315.8L341.4,315.8L340.2,315.7L339.0,315.6L337.8,315.5L336.6,315.4L335.4,315.2L334.8,315.2L333.6,315.0L332.4,314.8L331.3,314.6L330.6,314.4L329.4,314.0L328.8,313.8L328.0,313.4L327.0,312.8L326.4,312.3L325.8,311.8L325.2,311.1L324.7,310.4L324.4,309.8L324.0,308.6L323.9,308.0L323.7,306.8L323.7,305.6L323.8,304.4L324.0,303.8L324.5,302.6L324.9,302.0L325.2,301.4L325.8,300.4L326.2,299.6L326.5,299.0L327.0,297.9L327.3,297.2L327.6,296.3L327.9,295.4L328.2,294.2L328.3,293.6L328.5,292.4L328.5,291.2L328.6,290.0L328.6,288.8L328.7,287.6L328.7,286.4L328.7,285.2L328.8,284.0L328.8,283.4L329.0,282.2L329.3,281.0L329.5,280.4L329.9,279.2L330.1,278.6L330.5,277.4L330.7,276.8L331.1,275.6L331.3,275.0L331.8,274.1L332.3,273.2L332.6,272.6L333.0,271.9L333.6,270.8L333.9,270.2L334.2,269.6L334.8,268.5L335.1,267.8L335.4,267.2L336.0,266.0L336.2,265.4L336.6,264.6L337.1,263.6L337.3,263.0L337.7,261.8L337.8,261.2L338.0,260.0L338.1,258.8L338.2,257.6L338.3,256.4L338.4,255.5L338.6,254.6L338.7,253.4L338.9,252.2L339.0,251.0L339.0,250.4L339.1,249.2L339.3,248.0L339.5,246.8L339.6,246.2L339.9,245.0L340.2,244.0L340.5,243.2L340.8,242.4L341.2,241.4L341.4,240.6L341.7,239.6L342.0,238.4L342.2,237.8L342.6,236.9L343.2,236.0L343.6,235.4L344.0,234.8L344.5,234.2L345.0,233.5L345.6,232.8L346.2,232.0L346.8,231.4L347.4,230.9L348.0,230.4L348.6,230.0L349.8,229.4L350.4,229.2L351.6,228.9L352.3,228.8L353.4,228.6L354.6,228.5L355.8,228.4L357.0,228.4L358.2,228.4L359.4,228.3L360.2,228.2L361.2,228.1L362.4,228.0L363.6,227.9L364.8,228.0L366.0,228.1L366.6,228.3L367.8,228.8L368.4,229.1L369.0,229.4L370.0,230.0L370.8,230.4L371.4,230.9L372.0,231.4L372.6,232.2L373.0,233.0L373.4,233.6L373.8,234.3L374.4,235.3L374.8,236.0L375.1,236.6L375.6,237.7L375.9,238.4L376.2,239.2L376.5,240.2L376.8,241.2L377.0,242.0L377.3,243.2L377.4,243.8L377.6,245.0L377.7,246.2L377.8,247.4L377.7,248.6L377.6,249.8L377.5,251.0L377.5,252.2L377.5,253.4L377.5,254.6L377.5,255.8L377.6,257.0L377.6,258.2L377.7,259.4L377.9,260.6L378.0,261.6L378.1,262.4L378.3,263.6L378.4,264.8L378.5,266.0L378.6,267.2L378.6,267.8L378.7,269.0L378.7,270.2L378.8,271.4L378.8,272.6L378.8,273.8L378.7,275.0L378.6,275.7L378.5,276.8L378.4,278.0L378.3,279.2L378.3,280.4L378.1,281.6L377.9,282.2L377.6,283.4L377.4,284.0L377.1,285.2L376.8,286.3L376.6,287.0L376.2,288.2L376.0,288.8L375.6,289.8L375.4,290.6L375.1,291.8L375.0,292.8L374.9,293.6L374.8,294.8L374.7,296.0L374.6,297.2L374.7,298.4L374.7,299.6L374.8,300.8L374.9,302.0L374.9,303.2L374.9,304.4L374.9,305.6L374.8,306.8L374.6,308.0L374.4,309.2L374.3,309.8L373.9,311.0L373.6,311.6L373.2,312.4L372.6,313.2L372.0,313.8L371.4,314.1L370.2,314.6L369.6,314.8L368.4,315.0L367.6,315.2L366.6,315.4L365.4,315.5L364.2,315.7L363.0,315.8L362.4,315.8" fill="none" stroke="#505050" stroke-width="1.0" />
<path d="M352.8,315.8L351.6,315.8L350.6,315.8L349.8,315.8L348.6,315.7L347.4,315.7L346.2,315.7L345.0,315.6L343.8,315.5L342.6,315.5L341.4,315.4L340.2,315.3L339.6,315.2L338.4,315.1L337.2,314.9L336.0,314.7L335.3,314.6L334.2,314.4L333.0,314.1L332.4,313.9L331.2,313.4L330.6,313.1L330.0,312.8L329.3,312.2L328.6,311.6L328.0,311.0L327.5,310.4L327.0,309.6L326.6,308.6L326.4,308.0L326.2,306.8L326.3,305.6L326.4,304.9L326.8,303.8L327.2,303.2L327.6,302.4L328.1,301.4L328.4,300.8L328.8,299.6L329.0,299.0L329.4,297.8L329.6,297.2L329.9,296.0L330.1,295.4L330.4,294.2L330.6,293.5L330.8,292.4L331.0,291.2L331.1,290.0L331.2,288.8L331.2,288.2L331.2,287.0L331.2,285.8L331.2,285.2L331.2,284.0L331.2,283.4L331.4,282.2L331.7,281.0L332.0,280.4L332.4,279.5L332.8,278.6L333.1,278.0L333.6,276.9L334.0,276.2L334.3,275.6L334.8,274.8L335.4,273.8L335.7,273.2L336.0,272.6L336.5,271.4L336.7,270.8L337.1,269.6L337.4,269.0L337.8,267.9L338.2,267.2L338.5,266.6L339.0,265.8L339.6,264.9L340.0,264.2L340.3,263.6L340.6,262.4L340.8,261.3L340.9,260.6L340.9,259.4L340.9,258.2L341.0,257.0L341.2,255.8L341.4,254.6L341.5,254.0L341.6,252.8L341.6,251.6L341.6,250.4L341.6,249.2L341.8,248.0L342.0,247.3L342.3,246.2L342.6,245.3L343.0,244.4L343.2,243.8L343.8,242.6L344.1,242.0L344.4,241.3L344.9,240.2L345.2,239.6L345.6,238.9L346.2,238.0L346.8,237.2L347.2,236.6L347.6,236.0L348.0,235.3L348.6,234.6L349.2,233.9L349.8,233.4L350.5,233.0L351.6,232.6L352.2,232.4L353.4,232.1L354.6,231.9L355.8,231.8L357.0,231.8L358.2,231.8L359.4,231.9L360.6,231.9L361.8,231.8L362.4,231.8L363.6,231.8L364.2,231.8L365.4,232.2L366.0,232.5L366.7,233.0L367.4,233.6L368.1,234.2L368.7,234.8L369.3,235.4L369.8,236.0L370.3,236.6L370.8,237.3L371.4,238.2L371.9,239.0L372.2,239.6L372.6,240.3L373.1,241.4L373.3,242.0L373.7,243.2L373.9,243.8L374.3,245.0L374.4,245.7L374.6,246.8L374.8,248.0L374.9,249.2L374.8,250.4L374.8,251.6L374.8,252.8L374.8,254.0L374.8,255.2L374.9,256.4L374.9,257.6L375.0,258.3L375.1,259.4L375.3,260.6L375.5,261.8L375.5,263.0L375.6,264.2L375.6,264.8L375.6,266.0L375.7,267.2L375.8,268.4L376.0,269.6L376.1,270.8L376.2,272.0L376.2,273.2L376.1,274.4L375.9,275.6L375.6,276.8L375.5,277.4L375.2,278.6L375.0,279.8L374.9,280.4L374.8,281.6L374.7,282.8L374.5,284.0L374.4,284.8L374.2,285.8L373.9,287.0L373.7,287.6L373.2,288.8L373.0,289.4L372.6,290.4L372.4,291.2L372.0,292.4L371.9,293.0L371.8,294.2L371.7,295.4L371.7,296.6L371.8,297.8L371.8,299.0L372.0,300.1L372.1,300.8L372.4,302.0L372.5,303.2L372.5,304.4L372.3,305.6L372.1,306.8L371.9,307.4L371.6,308.6L371.4,309.5L371.1,310.4L370.8,311.4L370.4,312.2L370.1,312.8L369.5,313.4L368.6,314.0L367.8,314.3L366.9,314.6L366.0,314.8L364.8,315.0L363.8,315.2L363.0,315.3L361.8,315.4L360.6,315.5L359.4,315.6L358.2,315.6L357.0,315.7L355.8,315.7L354.6,315.8L353.4,315.8L352.8,315.8" fill="none" stroke="#505050" stroke-width="1.0" />
<path d="M357.0,315.2L355.8,315.3L354.6,315.4L353.4,315.4L352.2,315.5L351.0,315.4L349.8,315.4L348.6,315.3L347.4,315.3L346.2,315.2L345.6,315.2L344.4,315.1L343.2,315.0L342.0,314.9L340.8,314.8L339.6,314.6L339.0,314.5L337.8,314.3L336.6,314.0L336.0,313.8L334.8,313.5L334.2,313.3L333.1,312.8L332.4,312.4L331.8,311.9L331.2,311.4L330.6,310.8L330.0,310.0L329.5,309.2L329.2,308.6L328.8,307.4L328.8,306.8L328.8,306.2L329.1,305.0L329.4,304.2L329.8,303.2L330.0,302.6L330.4,301.4L330.6,300.8L331.0,299.6L331.2,299.0L331.6,297.8L331.8,297.2L332.2,296.0L332.4,295.2L332.7,294.2L333.0,293.0L333.1,292.4L333.3,291.2L333.4,290.0L333.5,288.8L333.5,287.6L333.5,286.4L333.4,285.2L333.4,284.0L333.6,282.8L333.8,282.2L334.2,281.3L334.8,280.4L335.2,279.8L335.6,279.2L336.0,278.6L336.6,277.6L337.0,276.8L337.2,276.2L337.7,275.0L338.0,274.4L338.4,273.6L338.8,272.6L339.1,272.0L339.5,270.8L339.7,270.2L340.2,269.0L340.5,268.4L340.9,267.8L341.4,267.0L342.0,266.2L342.5,265.4L342.8,264.8L343.2,263.6L343.3,263.0L343.5,261.8L343.5,260.6L343.6,259.4L343.6,258.2L343.6,257.0L343.8,255.8L343.8,255.2L344.0,254.0L344.1,252.8L344.1,251.6L344.1,250.4L344.2,249.2L344.4,248.0L344.5,247.4L344.9,246.2L345.2,245.6L345.6,244.7L346.2,243.8L346.6,243.2L347.1,242.6L347.6,242.0L348.1,241.4L348.7,240.8L349.3,240.2L349.8,239.6L350.4,238.9L351.0,238.1L351.6,237.4L352.2,236.9L352.8,236.5L354.0,236.0L354.6,235.8L355.8,235.6L356.8,235.4L357.6,235.3L358.8,235.2L360.0,235.3L360.7,235.4L361.8,235.7L362.5,236.0L363.6,236.5L364.2,236.7L365.2,237.2L366.0,237.8L366.6,238.4L367.1,239.0L367.5,239.6L367.9,240.2L368.4,241.0L369.0,242.0L369.3,242.6L369.6,243.3L370.0,244.4L370.3,245.0L370.8,246.1L371.1,246.8L371.4,247.5L371.8,248.6L372.0,249.8L372.0,250.4L372.1,251.6L372.2,252.8L372.3,254.0L372.3,255.2L372.4,256.4L372.4,257.6L372.6,258.8L372.7,259.4L372.9,260.6L373.1,261.8L373.2,263.0L373.2,263.6L373.2,264.8L373.3,266.0L373.3,267.2L373.4,268.4L373.5,269.6L373.5,270.8L373.4,272.0L373.3,273.2L373.1,273.8L372.8,275.0L372.6,275.8L372.4,276.8L372.2,278.0L372.1,279.2L372.0,280.1L371.9,281.0L371.7,282.2L371.5,283.4L371.4,284.0L371.2,285.2L371.0,286.4L370.8,287.3L370.5,288.2L370.2,289.2L369.9,290.0L369.6,290.8L369.3,291.8L369.0,292.9L368.9,293.6L368.8,294.8L368.8,296.0L368.9,297.2L369.0,298.4L369.1,299.0L369.3,300.2L369.6,301.4L369.8,302.0L370.0,303.2L370.0,304.4L369.7,305.6L369.5,306.2L369.0,307.4L368.8,308.0L368.5,309.2L368.4,309.8L368.1,311.0L367.8,311.9L367.2,312.8L366.6,313.4L366.0,313.8L365.4,314.0L364.2,314.4L363.6,314.6L362.4,314.8L361.2,315.0L360.0,315.1L358.8,315.1L357.6,315.2L357.0,315.2" fill="none" stroke="#505050" stroke-width="1.0" />
<path d="M358.2,314.6L357.0,314.7L355.8,314.8L354.6,314.9L353.4,315.0L352.2,315.0L351.0,315.0L349.8,315.0L348.6,314.9L347.4,314.8L346.2,314.7L345.0,314.6L344.4,314.6L343.2,314.4L342.0,314.2L340.8,314.0L340.2,313.9L339.0,313.6L338.4,313.4L337.2,313.0L336.6,312.7L335.6,312.2L334.8,311.8L334.2,311.4L333.6,310.9L333.0,310.2L332.4,309.3L332.0,308.6L331.8,307.9L331.6,306.8L331.6,305.6L331.7,304.4L331.8,303.8L332.0,302.6L332.4,301.5L332.7,300.8L333.0,300.1L333.6,299.0L333.9,298.4L334.2,297.7L334.5,296.6L334.8,295.5L335.0,294.8L335.2,293.6L335.4,292.7L335.5,291.8L335.7,290.6L335.8,289.4L335.8,288.2L335.9,287.0L335.8,285.8L335.9,284.6L336.1,284.0L336.6,282.9L337.1,282.2L337.5,281.6L338.0,281.0L338.4,280.4L339.0,279.3L339.3,278.6L339.6,277.8L340.0,276.8L340.3,276.2L340.8,275.1L341.1,274.4L341.4,273.6L341.8,272.6L342.0,272.0L342.5,270.8L342.9,270.2L343.4,269.6L344.0,269.0L344.5,268.4L345.1,267.8L345.6,266.8L345.9,266.0L346.0,264.8L346.0,263.6L346.0,262.4L346.0,261.2L346.1,260.0L346.1,258.8L346.1,257.6L346.1,256.4L346.2,255.4L346.3,254.6L346.6,253.4L346.8,252.4L347.0,251.6L347.3,250.4L347.5,249.8L347.8,248.6L348.0,247.8L348.3,246.8L348.6,246.0L349.2,245.1L349.8,244.4L350.4,243.8L351.0,243.2L351.6,242.7L352.2,242.2L352.8,241.7L353.4,241.2L354.0,240.8L355.2,240.2L355.8,240.0L357.0,239.8L358.2,239.8L359.4,240.0L360.0,240.2L361.2,240.8L361.8,241.1L362.4,241.4L363.4,242.0L364.2,242.6L364.8,243.0L365.4,243.6L366.0,244.3L366.5,245.0L366.8,245.6L367.2,246.4L367.6,247.4L367.9,248.0L368.4,249.2L368.5,249.8L368.8,251.0L369.0,251.6L369.3,252.8L369.5,254.0L369.6,254.6L369.6,255.8L369.6,257.0L369.6,258.2L369.8,259.4L370.0,260.6L370.2,261.3L370.5,262.4L370.7,263.6L370.8,264.8L370.8,265.7L370.8,266.6L370.9,267.8L371.0,269.0L371.1,270.2L371.0,271.4L370.8,272.3L370.5,273.2L370.2,274.1L369.9,275.0L369.7,276.2L369.6,277.1L369.5,278.0L369.3,279.2L369.0,280.4L368.8,281.0L368.4,281.8L368.0,282.8L367.8,283.4L367.5,284.6L367.4,285.8L367.2,287.0L367.2,287.6L367.0,288.8L366.7,290.0L366.6,290.6L366.3,291.8L366.1,293.0L366.1,294.2L366.1,295.4L366.2,296.6L366.4,297.8L366.5,299.0L366.6,299.6L366.9,300.8L367.2,301.8L367.4,302.6L367.6,303.8L367.5,305.0L367.2,306.2L367.0,306.8L366.7,308.0L366.5,308.6L366.2,309.8L366.0,310.5L365.6,311.6L365.2,312.2L364.6,312.8L363.8,313.4L363.0,313.7L362.3,314.0L361.2,314.2L360.0,314.4L358.8,314.6L358.2,314.6" fill="none" stroke="#505050" stroke-width="1.0" />
<path d="M356.4,314.1L355.2,314.3L354.0,314.4L352.8,314.5L351.6,314.5L350.4,314.5L349.2,314.4L348.0,314.3L346.8,314.1L345.6,314.0L345.0,313.9L343.8,313.7L342.6,313.4L342.0,313.3L340.8,312.9L340.2,312.7L339.0,312.2L338.4,311.9L337.8,311.6L336.9,311.0L336.1,310.4L335.5,309.8L335.1,309.2L334.7,308.6L334.3,307.4L334.2,306.6L334.1,305.6L334.1,304.4L334.2,303.2L334.3,302.6L334.8,301.5L335.3,300.8L335.7,300.2L336.1,299.6L336.6,298.6L336.8,297.8L337.0,296.6L337.2,295.5L337.4,294.8L337.7,293.6L337.9,293.0L338.2,291.8L338.4,290.7L338.5,290.0L338.6,288.8L338.5,287.6L338.5,286.4L338.6,285.2L339.0,284.1L339.4,283.4L339.8,282.8L340.3,282.2L340.8,281.4L341.3,280.4L341.6,279.8L342.0,278.8L342.4,278.0L342.8,277.4L343.2,276.8L343.8,276.0L344.4,275.3L345.0,274.6L345.6,274.1L346.2,273.6L346.8,272.9L347.2,272.0L347.4,271.4L347.9,270.2L348.3,269.6L348.6,269.0L349.2,267.9L349.5,267.2L349.8,266.0L349.8,265.4L349.7,264.8L349.4,263.6L349.1,263.0L348.8,261.8L348.7,260.6L348.7,259.4L348.7,258.2L348.8,257.0L349.1,255.8L349.3,255.2L349.8,254.1L350.1,253.4L350.4,252.8L350.8,251.6L351.0,251.0L351.5,249.8L351.8,249.2L352.2,248.5L352.8,247.6L353.4,246.9L354.0,246.3L354.6,245.9L355.2,245.6L356.4,245.4L357.3,245.6L358.2,246.0L358.8,246.4L359.4,246.8L360.5,247.4L361.2,247.8L361.8,248.4L362.4,249.2L362.8,249.8L363.2,250.4L363.6,251.0L364.2,251.9L364.8,252.8L365.1,253.4L365.4,254.0L365.8,255.2L365.9,256.4L366.0,257.6L366.0,258.2L366.2,259.4L366.5,260.6L366.7,261.2L366.9,262.4L367.0,263.6L367.1,264.8L367.2,265.9L367.3,266.6L367.5,267.8L367.7,269.0L367.7,270.2L367.6,271.4L367.2,272.3L366.8,273.2L366.6,273.8L366.4,275.0L366.3,276.2L366.2,277.4L366.0,278.2L365.7,279.2L365.4,279.8L364.9,281.0L364.7,281.6L364.4,282.8L364.4,284.0L364.3,285.2L364.2,286.2L364.1,287.0L363.9,288.2L363.7,289.4L363.6,290.0L363.4,291.2L363.4,292.4L363.3,293.6L363.4,294.8L363.5,296.0L363.6,296.9L363.8,297.8L364.1,299.0L364.3,299.6L364.7,300.8L364.9,301.4L365.2,302.6L365.4,303.3L365.5,304.4L365.4,305.6L365.3,306.2L364.9,307.4L364.7,308.0L364.2,309.2L364.0,309.8L363.6,310.6L363.0,311.5L362.4,312.2L361.8,312.6L361.2,313.0L360.0,313.4L359.4,313.5L358.2,313.8L357.0,314.0L356.4,314.1" fill="none" stroke="#505050" stroke-width="1.0" />
<path d="M355.2,313.4L354.0,313.7L352.8,313.9L351.6,313.9L350.4,313.8L349.2,313.7L348.0,313.5L347.3,313.4L346.2,313.2L345.0,312.9L344.4,312.7L343.2,312.4L342.6,312.2L341.4,311.8L340.8,311.5L339.8,311.0L339.0,310.5L338.4,310.1L337.8,309.5L337.2,308.8L336.7,308.0L336.5,307.4L336.2,306.2L336.1,305.0L336.3,303.8L336.6,302.8L337.0,302.0L337.4,301.4L337.8,300.7L338.4,299.6L338.6,299.0L338.9,297.8L339.0,297.1L339.2,296.0L339.5,294.8L339.8,294.2L340.2,293.1L340.4,292.4L340.7,291.2L340.8,290.6L341.0,289.4L341.1,288.2L341.2,287.0L341.4,285.8L341.6,285.2L342.0,284.4L342.6,283.6L343.2,283.0L343.8,282.5L344.4,282.0L345.0,281.6L345.7,281.0L346.4,280.4L346.9,279.8L347.5,279.2L348.3,278.6L349.2,278.1L349.8,277.8L350.5,277.4L351.3,276.8L351.8,276.2L352.2,275.6L352.7,274.4L352.7,273.2L352.5,272.0L352.2,270.8L352.2,270.2L352.2,269.4L352.4,268.4L352.7,267.2L352.8,266.6L353.1,265.4L353.4,264.2L353.4,263.6L353.4,262.4L353.6,261.2L354.0,260.0L354.3,259.4L354.6,258.3L354.6,258.0L354.5,257.0L354.5,255.8L354.6,255.0L355.1,254.0L355.8,253.6L357.0,253.7L357.7,254.0L358.7,254.6L359.4,255.0L360.0,255.3L360.9,255.8L361.7,256.4L362.2,257.0L362.6,257.6L363.0,258.5L363.3,259.4L363.5,260.6L363.6,261.8L363.6,263.0L363.4,264.2L363.2,265.4L363.0,266.6L362.9,267.2L362.8,268.4L362.7,269.6L362.4,270.4L361.8,271.1L361.2,271.9L360.8,272.6L360.6,273.6L360.5,274.4L360.5,275.6L360.5,276.8L360.5,278.0L360.2,279.2L360.0,279.8L359.6,281.0L359.5,282.2L359.7,283.4L360.0,284.4L360.3,285.2L360.5,286.4L360.6,287.1L360.6,288.2L360.7,289.4L360.7,290.6L360.8,291.8L360.8,293.0L360.8,294.2L360.8,295.4L360.9,296.6L361.2,297.8L361.4,298.4L361.8,299.4L362.2,300.2L362.4,300.8L363.0,302.0L363.2,302.6L363.5,303.8L363.5,305.0L363.2,306.2L362.9,306.8L362.4,307.6L361.8,308.5L361.3,309.2L361.0,309.8L360.6,310.4L360.0,311.1L359.4,311.6L358.4,312.2L357.6,312.6L357.0,312.8L355.8,313.2L355.2,313.4" fill="none" stroke="#505050" stroke-width="1.0" />
<path d="M353.4,312.9L352.2,313.0L351.0,313.0L349.8,312.9L349.2,312.8L348.0,312.5L346.8,312.2L346.2,312.1L345.0,311.7L344.4,311.5L343.2,311.1L342.6,310.9L341.5,310.4L340.8,310.0L340.2,309.5L339.6,309.0L339.0,308.3L338.5,307.4L338.3,306.8L338.1,305.6L338.2,304.4L338.4,303.8L339.0,302.6L339.3,302.0L339.6,301.2L340.0,300.2L340.2,299.6L340.6,298.4L340.8,297.8L341.1,296.6L341.4,295.7L341.7,294.8L342.0,294.1L342.4,293.0L342.6,292.2L342.9,291.2L343.2,290.1L343.4,289.4L343.8,288.2L343.9,287.6L344.4,286.4L344.7,285.8L345.2,285.2L346.0,284.6L346.8,284.1L347.4,283.8L348.1,283.4L349.2,282.9L349.8,282.7L351.0,282.8L351.6,283.1L352.2,283.7L352.8,284.6L353.1,285.2L353.5,285.8L354.0,286.4L354.6,287.0L355.8,287.6L356.4,287.9L357.0,288.3L357.6,289.0L358.1,290.0L358.3,290.6L358.6,291.8L358.6,293.0L358.5,294.2L358.4,295.4L358.5,296.6L358.8,297.5L359.2,298.4L359.5,299.0L360.0,299.9L360.4,300.8L360.7,301.4L361.2,302.6L361.3,303.2L361.4,304.4L361.2,305.1L360.6,306.2L360.2,306.8L359.8,307.4L359.4,308.0L358.8,308.9L358.2,309.7L357.7,310.4L357.1,311.0L356.4,311.5L355.8,311.9L355.2,312.2L354.0,312.7L353.4,312.9" fill="none" stroke="#505050" stroke-width="1.0" />
<path d="M353.4,311.7L352.2,312.0L351.0,312.0L349.8,311.8L348.6,311.6L348.0,311.4L346.8,311.1L346.2,310.8L345.0,310.4L344.4,310.2L343.5,309.8L342.6,309.4L342.0,309.0L341.4,308.4L340.8,307.7L340.4,306.8L340.4,305.6L340.8,304.4L341.1,303.8L341.4,302.6L341.5,302.0L341.6,300.8L342.0,299.6L342.2,299.0L342.6,298.1L343.0,297.2L343.2,296.6L343.6,295.4L343.8,294.7L344.2,293.6L344.5,293.0L345.0,292.1L345.6,291.3L346.1,290.6L346.5,290.0L346.8,289.4L347.4,288.2L347.8,287.6L348.5,287.0L349.2,287.0L349.5,287.6L349.8,288.3L350.4,289.3L351.0,289.8L351.6,290.1L352.5,290.6L353.4,291.0L354.0,291.4L354.7,291.8L355.3,292.4L355.8,293.4L356.0,294.2L356.1,295.4L356.4,296.6L356.6,297.2L357.0,298.0L357.6,298.9L358.0,299.6L358.4,300.2L358.8,300.9L359.3,302.0L359.4,302.6L359.5,303.8L359.4,304.5L359.0,305.6L358.7,306.2L358.2,307.1L357.6,308.0L357.3,308.6L356.8,309.2L356.3,309.8L355.7,310.4L354.9,311.0L354.0,311.5L353.4,311.7" fill="none" stroke="#505050" stroke-width="1.0" />
<path d="M353.4,310.5L352.2,310.8L351.0,310.8L349.8,310.7L348.6,310.4L348.0,310.3L346.8,309.8L346.2,309.5L345.5,309.2L344.4,308.6L343.8,308.1L343.2,307.4L343.0,306.8L343.2,306.0L343.7,305.0L343.9,304.4L343.9,303.2L343.8,302.6L343.5,301.4L343.6,300.2L343.8,299.6L344.4,298.5L344.9,297.8L345.3,297.2L345.6,296.6L346.2,295.7L346.8,294.9L347.4,294.4L348.0,294.0L348.6,293.6L349.6,293.0L350.4,292.7L351.6,292.8L352.2,293.1L352.8,293.6L353.4,294.7L353.6,295.4L354.0,296.5L354.3,297.2L354.7,297.8L355.2,298.5L355.8,299.2L356.4,299.9L357.0,300.7L357.5,301.4L357.7,302.0L358.0,303.2L357.9,304.4L357.6,305.4L357.3,306.2L357.0,306.8L356.4,307.9L355.9,308.6L355.4,309.2L354.7,309.8L354.0,310.2L353.4,310.5" fill="none" stroke="#505050" stroke-width="1.0" />
<path d="M353.4,309.3L352.2,309.5L351.0,309.5L349.8,309.3L349.2,309.2L348.0,308.8L347.4,308.4L346.8,308.0L346.2,307.4L346.0,306.2L346.2,305.2L346.3,304.4L346.3,303.2L346.2,302.6L345.9,301.4L346.1,300.2L346.8,299.6L347.4,299.4L348.6,299.2L349.8,299.0L350.4,298.9L351.6,298.9L352.2,299.1L353.4,299.6L354.0,300.0L354.6,300.4L355.2,301.0L355.8,301.7L356.3,302.6L356.5,303.2L356.5,304.4L356.4,305.2L356.1,306.2L355.8,306.9L355.2,307.8L354.6,308.5L354.0,308.9L353.4,309.3" fill="none" stroke="#505050" stroke-width="1.0" />
<path d="M352.8,308.2L351.6,308.2L350.6,308.0L349.8,307.8L349.0,307.4L348.3,306.8L348.0,306.2L347.8,305.0L347.9,303.8L348.0,303.2L348.6,302.0L349.2,301.5L349.8,301.2L351.0,300.9L352.2,300.9L353.3,301.4L354.0,302.0L354.5,302.6L354.8,303.2L355.2,304.4L355.1,305.6L354.7,306.8L354.2,307.4L353.4,308.0L352.8,308.2" fill="none" stroke="#505050" stroke-width="1.0" />
<path d="M352.8,306.9L351.6,307.0L350.6,306.8L349.8,306.4L349.2,305.8L348.9,305.0L349.0,303.8L349.2,303.2L349.8,302.6L351.0,302.1L352.2,302.2L352.8,302.6L353.4,303.3L353.8,304.4L353.9,305.6L353.4,306.5L352.8,306.9" fill="none" stroke="#505050" stroke-width="1.0" />
<path d="M352.2,306.9L351.0,306.8L350.4,306.6L349.7,306.2L349.2,305.6L349.0,304.4L349.2,303.5L349.8,302.7L350.4,302.4L351.6,302.2L352.6,302.6L353.2,303.2L353.5,303.8L353.8,305.0L353.5,306.2L352.8,306.8L352.2,306.9" fill="none" stroke="#505050" stroke-width="1.0" />
<path d="M352.2,306.9L351.0,306.8L350.4,306.6L349.7,306.2L349.2,305.6L349.0,304.4L349.2,303.5L349.8,302.7L350.4,302.4L351.6,302.2L352.6,302.6L353.2,303.2L353.5,303.8L353.8,305.0L353.5,306.2L352.8,306.8L352.2,306.9" fill="none" stroke="#505050" stroke-width="1.0" />
<ellipse cx="351" cy="283" rx="2.3" ry="14" fill="#fff"/>
<line x1="98.5" y1="433.3" x2="106.5" y2="433.3" stroke="#000" stroke-width="2.0" />
<line x1="102.5" y1="416.23" x2="106.5" y2="416.23" stroke="#000" stroke-width="1.2800000000000002" />
<line x1="102.5" y1="406.25" x2="106.5" y2="406.25" stroke="#000" stroke-width="1.2800000000000002" />
<line x1="102.5" y1="399.16" x2="106.5" y2="399.16" stroke="#000" stroke-width="1.2800000000000002" />
<line x1="101.5" y1="393.67" x2="106.5" y2="393.67" stroke="#000" stroke-width="1.2800000000000002" />
<line x1="102.5" y1="389.18" x2="106.5" y2="389.18" stroke="#000" stroke-width="1.2800000000000002" />
<line x1="102.5" y1="385.38" x2="106.5" y2="385.38" stroke="#000" stroke-width="1.2800000000000002" />
<line x1="102.5" y1="382.09" x2="106.5" y2="382.09" stroke="#000" stroke-width="1.2800000000000002" />
<line x1="102.5" y1="379.19" x2="106.5" y2="379.19" stroke="#000" stroke-width="1.2800000000000002" />
<line x1="98.5" y1="376.6" x2="106.5" y2="376.6" stroke="#000" stroke-width="2.0" />
<line x1="102.5" y1="359.53" x2="106.5" y2="359.53" stroke="#000" stroke-width="1.2800000000000002" />
<line x1="102.5" y1="349.55" x2="106.5" y2="349.55" stroke="#000" stroke-width="1.2800000000000002" />
<line x1="102.5" y1="342.46" x2="106.5" y2="342.46" stroke="#000" stroke-width="1.2800000000000002" />
<line x1="101.5" y1="336.97" x2="106.5" y2="336.97" stroke="#000" stroke-width="1.2800000000000002" />
<line x1="102.5" y1="332.48" x2="106.5" y2="332.48" stroke="#000" stroke-width="1.2800000000000002" />
<line x1="102.5" y1="328.68" x2="106.5" y2="328.68" stroke="#000" stroke-width="1.2800000000000002" />
<line x1="102.5" y1="325.39" x2="106.5" y2="325.39" stroke="#000" stroke-width="1.2800000000000002" />
<line x1="102.5" y1="322.49" x2="106.5" y2="322.49" stroke="#000" stroke-width="1.2800000000000002" />
<line x1="98.5" y1="319.9" x2="106.5" y2="319.9" stroke="#000" stroke-width="2.0" />
<line x1="102.5" y1="302.83" x2="106.5" y2="302.83" stroke="#000" stroke-width="1.2800000000000002" />
<line x1="102.5" y1="292.85" x2="106.5" y2="292.85" stroke="#000" stroke-width="1.2800000000000002" />
<line x1="102.5" y1="285.76" x2="106.5" y2="285.76" stroke="#000" stroke-width="1.2800000000000002" />
<line x1="101.5" y1="280.27" x2="106.5" y2="280.27" stroke="#000" stroke-width="1.2800000000000002" />
<line x1="102.5" y1="275.78" x2="106.5" y2="275.78" stroke="#000" stroke-width="1.2800000000000002" />
<line x1="102.5" y1="271.98" x2="106.5" y2="271.98" stroke="#000" stroke-width="1.2800000000000002" />
<line x1="102.5" y1="268.69" x2="106.5" y2="268.69" stroke="#000" stroke-width="1.2800000000000002" />
<line x1="102.5" y1="265.79" x2="106.5" y2="265.79" stroke="#000" stroke-width="1.2800000000000002" />
<line x1="98.5" y1="263.2" x2="106.5" y2="263.2" stroke="#000" stroke-width="2.0" />
<line x1="102.5" y1="246.13" x2="106.5" y2="246.13" stroke="#000" stroke-width="1.2800000000000002" />
<line x1="102.5" y1="236.15" x2="106.5" y2="236.15" stroke="#000" stroke-width="1.2800000000000002" />
<line x1="102.5" y1="229.06" x2="106.5" y2="229.06" stroke="#000" stroke-width="1.2800000000000002" />
<line x1="101.5" y1="223.57" x2="106.5" y2="223.57" stroke="#000" stroke-width="1.2800000000000002" />
<line x1="102.5" y1="219.08" x2="106.5" y2="219.08" stroke="#000" stroke-width="1.2800000000000002" />
<line x1="102.5" y1="215.28" x2="106.5" y2="215.28" stroke="#000" stroke-width="1.2800000000000002" />
<line x1="102.5" y1="211.99" x2="106.5" y2="211.99" stroke="#000" stroke-width="1.2800000000000002" />
<line x1="102.5" y1="209.09" x2="106.5" y2="209.09" stroke="#000" stroke-width="1.2800000000000002" />
<line x1="98.5" y1="206.5" x2="106.5" y2="206.5" stroke="#000" stroke-width="2.0" />
<line x1="102.5" y1="189.43" x2="106.5" y2="189.43" stroke="#000" stroke-width="1.2800000000000002" />
<line x1="102.5" y1="179.45" x2="106.5" y2="179.45" stroke="#000" stroke-width="1.2800000000000002" />
<line x1="102.5" y1="172.36" x2="106.5" y2="172.36" stroke="#000" stroke-width="1.2800000000000002" />
<line x1="101.5" y1="166.87" x2="106.5" y2="166.87" stroke="#000" stroke-width="1.2800000000000002" />
<line x1="102.5" y1="162.38" x2="106.5" y2="162.38" stroke="#000" stroke-width="1.2800000000000002" />
<line x1="102.5" y1="158.58" x2="106.5" y2="158.58" stroke="#000" stroke-width="1.2800000000000002" />
<line x1="102.5" y1="155.29" x2="106.5" y2="155.29" stroke="#000" stroke-width="1.2800000000000002" />
<line x1="102.5" y1="152.39" x2="106.5" y2="152.39" stroke="#000" stroke-width="1.2800000000000002" />
<line x1="98.5" y1="149.8" x2="106.5" y2="149.8" stroke="#000" stroke-width="2.0" />
<line x1="102.5" y1="132.73" x2="106.5" y2="132.73" stroke="#000" stroke-width="1.2800000000000002" />
<line x1="106.8" y1="434.6" x2="106.8" y2="442.6" stroke="#000" stroke-width="2.0" />
<line x1="123.81" y1="434.6" x2="123.81" y2="438.6" stroke="#000" stroke-width="1.2800000000000002" />
<line x1="133.76" y1="434.6" x2="133.76" y2="438.6" stroke="#000" stroke-width="1.2800000000000002" />
<line x1="140.82" y1="434.6" x2="140.82" y2="438.6" stroke="#000" stroke-width="1.2800000000000002" />
<line x1="146.29" y1="434.6" x2="146.29" y2="439.6" stroke="#000" stroke-width="1.2800000000000002" />
<line x1="150.77" y1="434.6" x2="150.77" y2="438.6" stroke="#000" stroke-width="1.2800000000000002" />
<line x1="154.55" y1="434.6" x2="154.55" y2="438.6" stroke="#000" stroke-width="1.2800000000000002" />
<line x1="157.82" y1="434.6" x2="157.82" y2="438.6" stroke="#000" stroke-width="1.2800000000000002" />
<line x1="160.71" y1="434.6" x2="160.71" y2="438.6" stroke="#000" stroke-width="1.2800000000000002" />
<line x1="163.3" y1="434.6" x2="163.3" y2="442.6" stroke="#000" stroke-width="2.0" />
<line x1="180.31" y1="434.6" x2="180.31" y2="438.6" stroke="#000" stroke-width="1.2800000000000002" />
<line x1="190.26" y1="434.6" x2="190.26" y2="438.6" stroke="#000" stroke-width="1.2800000000000002" />
<line x1="197.32" y1="434.6" x2="197.32" y2="438.6" stroke="#000" stroke-width="1.2800000000000002" />
<line x1="202.79" y1="434.6" x2="202.79" y2="439.6" stroke="#000" stroke-width="1.2800000000000002" />
<line x1="207.27" y1="434.6" x2="207.27" y2="438.6" stroke="#000" stroke-width="1.2800000000000002" />
<line x1="211.05" y1="434.6" x2="211.05" y2="438.6" stroke="#000" stroke-width="1.2800000000000002" />
<line x1="214.32" y1="434.6" x2="214.32" y2="438.6" stroke="#000" stroke-width="1.2800000000000002" />
<line x1="217.21" y1="434.6" x2="217.21" y2="438.6" stroke="#000" stroke-width="1.2800000000000002" />
<line x1="219.8" y1="434.6" x2="219.8" y2="442.6" stroke="#000" stroke-width="2.0" />
<line x1="236.81" y1="434.6" x2="236.81" y2="438.6" stroke="#000" stroke-width="1.2800000000000002" />
<line x1="246.76" y1="434.6" x2="246.76" y2="438.6" stroke="#000" stroke-width="1.2800000000000002" />
<line x1="253.82" y1="434.6" x2="253.82" y2="438.6" stroke="#000" stroke-width="1.2800000000000002" />
<line x1="259.29" y1="434.6" x2="259.29" y2="439.6" stroke="#000" stroke-width="1.2800000000000002" />
<line x1="263.77" y1="434.6" x2="263.77" y2="438.6" stroke="#000" stroke-width="1.2800000000000002" />
<line x1="267.55" y1="434.6" x2="267.55" y2="438.6" stroke="#000" stroke-width="1.2800000000000002" />
<line x1="270.82" y1="434.6" x2="270.82" y2="438.6" stroke="#000" stroke-width="1.2800000000000002" />
<line x1="273.71" y1="434.6" x2="273.71" y2="438.6" stroke="#000" stroke-width="1.2800000000000002" />
<line x1="276.3" y1="434.6" x2="276.3" y2="442.6" stroke="#000" stroke-width="2.0" />
<line x1="293.31" y1="434.6" x2="293.31" y2="438.6" stroke="#000" stroke-width="1.2800000000000002" />
<line x1="303.26" y1="434.6" x2="303.26" y2="438.6" stroke="#000" stroke-width="1.2800000000000002" />
<line x1="310.32" y1="434.6" x2="310.32" y2="438.6" stroke="#000" stroke-width="1.2800000000000002" />
<line x1="315.79" y1="434.6" x2="315.79" y2="439.6" stroke="#000" stroke-width="1.2800000000000002" />
<line x1="320.27" y1="434.6" x2="320.27" y2="438.6" stroke="#000" stroke-width="1.2800000000000002" />
<line x1="324.05" y1="434.6" x2="324.05" y2="438.6" stroke="#000" stroke-width="1.2800000000000002" />
<line x1="327.32" y1="434.6" x2="327.32" y2="438.6" stroke="#000" stroke-width="1.2800000000000002" />
<line x1="330.21" y1="434.6" x2="330.21" y2="438.6" stroke="#000" stroke-width="1.2800000000000002" />
<line x1="332.8" y1="434.6" x2="332.8" y2="442.6" stroke="#000" stroke-width="2.0" />
<line x1="349.81" y1="434.6" x2="349.81" y2="438.6" stroke="#000" stroke-width="1.2800000000000002" />
<line x1="359.76" y1="434.6" x2="359.76" y2="438.6" stroke="#000" stroke-width="1.2800000000000002" />
<line x1="366.82" y1="434.6" x2="366.82" y2="438.6" stroke="#000" stroke-width="1.2800000000000002" />
<line x1="372.29" y1="434.6" x2="372.29" y2="439.6" stroke="#000" stroke-width="1.2800000000000002" />
<line x1="376.77" y1="434.6" x2="376.77" y2="438.6" stroke="#000" stroke-width="1.2800000000000002" />
<line x1="380.55" y1="434.6" x2="380.55" y2="438.6" stroke="#000" stroke-width="1.2800000000000002" />
<line x1="383.82" y1="434.6" x2="383.82" y2="438.6" stroke="#000" stroke-width="1.2800000000000002" />
<line x1="386.71" y1="434.6" x2="386.71" y2="438.6" stroke="#000" stroke-width="1.2800000000000002" />
<line x1="389.3" y1="434.6" x2="389.3" y2="442.6" stroke="#000" stroke-width="2.0" />
<line x1="406.31" y1="434.6" x2="406.31" y2="438.6" stroke="#000" stroke-width="1.2800000000000002" />
<rect x="106.5" y="126.8" width="308.2" height="307.8" fill="none" stroke="#222" stroke-width="1.6" />
<line x1="246.8" y1="126.8" x2="246.8" y2="434.6" stroke="#000" stroke-width="2.2" />
<line x1="106.5" y1="317.8" x2="414.7" y2="317.8" stroke="#000" stroke-width="2.4" />
<text x="112" y="153.5" font-size="16.5" fill="#222" >25,1</text>
<text x="391" y="153.5" font-size="16.5" text-anchor="end" fill="#222" >74,9</text>
<text x="112.5" y="419" font-size="16.5" fill="#222" >0</text>
<text x="403.3" y="419" font-size="16.5" text-anchor="end" fill="#222" >0</text>
<path d="M512.8,312.8L511.6,312.9L510.4,313.0L509.2,313.0L508.0,312.9L507.4,312.8L506.2,312.6L505.0,312.3L504.4,312.1L503.2,311.7L502.6,311.5L501.5,311.0L500.8,310.7L500.1,310.4L499.1,309.8L498.4,309.3L497.8,308.7L497.2,308.1L496.6,307.4L496.2,306.8L495.8,306.2L495.4,305.2L495.2,304.4L495.0,303.2L495.0,302.0L495.2,300.8L495.4,299.8L495.7,299.0L496.0,298.4L496.6,297.6L497.2,297.0L497.8,296.5L498.4,296.0L499.3,295.4L500.2,294.8L500.8,294.4L501.4,294.0L502.3,293.6L503.2,293.3L504.4,293.1L505.6,293.0L506.2,293.0L507.4,292.7L508.2,292.4L509.2,292.0L510.0,291.8L511.0,291.7L511.9,291.8L512.8,292.0L514.0,292.3L514.6,292.6L515.8,293.0L516.4,293.2L517.5,293.6L518.2,293.8L519.0,294.2L520.0,294.7L520.6,295.1L521.2,295.4L522.1,296.0L523.0,296.5L523.6,297.0L524.2,297.5L524.8,298.1L525.4,298.9L525.8,299.6L526.1,300.2L526.5,301.4L526.6,302.6L526.4,303.8L526.0,304.8L525.6,305.6L525.3,306.2L524.8,307.0L524.2,307.9L523.7,308.6L523.1,309.2L522.4,309.7L521.8,310.1L521.2,310.4L520.0,311.0L519.4,311.3L518.6,311.6L517.6,311.9L516.7,312.2L515.8,312.4L514.6,312.6L513.4,312.8L512.8,312.8" fill="#e28c45" stroke="none" stroke-width="0" fill-opacity="0.25"/>
<path d="M511.6,200.6L510.4,201.1L509.8,200.6L509.4,199.4L509.6,198.2L510.1,197.6L511.0,197.3L511.6,197.8L512.0,198.8L511.9,200.0L511.6,200.6" fill="none" stroke="#e28c45" stroke-width="1.0" />
<path d="M523.0,316.4L521.8,316.5L520.6,316.6L519.4,316.7L518.2,316.7L517.0,316.8L515.8,316.8L514.6,316.8L513.4,316.8L512.2,316.9L511.0,316.9L509.8,316.9L508.6,316.9L507.4,316.9L506.2,316.8L505.0,316.8L503.8,316.7L502.6,316.7L501.4,316.6L500.2,316.6L499.0,316.5L498.0,316.4L497.2,316.4L496.0,316.3L494.8,316.2L493.6,316.1L492.4,316.0L491.2,315.8L490.6,315.8L489.4,315.6L488.2,315.5L487.0,315.3L486.4,315.1L485.2,314.9L484.1,314.6L483.4,314.3L482.7,314.0L481.8,313.4L481.0,312.8L480.4,312.2L479.8,311.7L479.2,311.1L478.6,310.5L478.0,309.8L477.6,309.2L477.2,308.6L476.8,307.9L476.3,306.8L476.1,306.2L475.6,305.0L475.4,304.4L475.0,303.5L474.6,302.6L474.4,302.0L474.0,300.8L473.8,299.6L473.7,299.0L473.7,297.8L473.7,296.6L473.6,295.4L473.4,294.2L473.2,293.0L473.2,292.4L473.1,291.2L473.2,290.4L473.3,289.4L473.5,288.2L473.8,287.0L473.9,286.4L474.3,285.2L474.6,284.6L475.0,283.7L475.4,282.8L475.7,282.2L476.2,281.3L476.6,280.4L477.0,279.8L477.4,279.0L477.9,278.0L478.3,277.4L478.7,276.8L479.2,276.0L479.8,275.2L480.4,274.5L480.9,273.8L481.5,273.2L482.1,272.6L482.8,272.0L483.4,271.6L484.0,271.1L484.6,270.7L485.4,270.2L486.4,269.6L487.0,269.2L487.6,268.9L488.4,268.4L489.4,267.9L490.0,267.5L490.6,267.2L491.7,266.6L492.4,266.2L493.0,265.8L493.8,265.4L494.8,264.9L495.4,264.7L496.4,264.2L497.2,263.8L497.8,263.4L498.4,263.0L499.1,262.4L499.7,261.8L500.3,261.2L500.8,260.6L501.4,259.8L502.0,258.8L502.3,258.2L502.6,257.5L503.0,256.4L503.2,255.7L503.5,254.6L503.7,253.4L503.8,252.8L503.9,251.6L504.1,250.4L504.3,249.2L504.4,248.6L504.7,247.4L505.0,246.2L505.1,245.6L505.4,244.4L505.6,243.2L505.7,242.6L506.1,241.4L506.2,240.8L506.7,239.6L506.9,239.0L507.4,237.9L507.7,237.2L508.0,236.5L508.6,235.5L509.2,234.9L509.8,234.6L511.0,234.5L511.7,234.8L512.6,235.4L513.4,236.0L513.9,236.6L514.4,237.2L514.7,237.8L515.2,238.7L515.5,239.6L515.8,240.3L516.1,241.4L516.4,242.4L516.6,243.2L516.9,244.4L517.1,245.0L517.3,246.2L517.5,247.4L517.6,248.0L517.8,249.2L517.9,250.4L518.0,251.6L518.1,252.8L518.2,253.5L518.4,254.6L518.7,255.8L518.9,256.4L519.3,257.6L519.5,258.2L520.0,259.4L520.3,260.0L520.6,260.6L521.2,261.4L521.8,262.2L522.4,263.0L522.9,263.6L523.4,264.2L524.0,264.8L524.7,265.4L525.4,265.9L526.0,266.2L526.8,266.6L527.8,267.0L528.4,267.3L529.3,267.8L530.2,268.3L530.8,268.7L531.4,269.1L532.0,269.6L532.7,270.2L533.4,270.8L534.2,271.4L534.9,272.0L535.5,272.6L536.2,273.2L536.8,273.8L537.4,274.4L537.9,275.0L538.4,275.6L538.9,276.2L539.3,276.8L539.8,277.4L540.4,278.2L541.0,279.0L541.6,279.8L542.0,280.4L542.3,281.0L542.8,281.9L543.2,282.8L543.5,283.4L543.8,284.6L544.0,285.5L544.2,286.4L544.4,287.6L544.6,288.8L544.6,289.4L544.8,290.6L544.9,291.8L545.0,293.0L545.1,294.2L545.1,295.4L545.2,296.6L545.2,297.2L545.2,298.0L545.2,299.0L545.1,300.2L545.1,301.4L544.9,302.6L544.7,303.8L544.5,304.4L544.1,305.6L543.8,306.2L543.4,307.1L543.0,308.0L542.7,308.6L542.2,309.6L541.7,310.4L541.4,311.0L540.9,311.6L540.4,312.2L539.8,312.8L539.1,313.4L538.1,314.0L537.4,314.3L536.5,314.6L535.6,314.9L534.4,315.1L533.8,315.2L532.6,315.4L531.4,315.6L530.2,315.8L529.6,315.8L528.4,316.0L527.2,316.1L526.0,316.2L524.8,316.3L523.6,316.4L523.0,316.4" fill="none" stroke="#e28c45" stroke-width="1.0" />
<path d="M524.2,315.8L523.0,315.9L521.8,316.0L520.6,316.1L519.4,316.2L518.2,316.2L517.0,316.3L515.8,316.3L514.6,316.3L513.4,316.3L512.2,316.4L511.0,316.4L509.8,316.4L508.6,316.4L507.4,316.4L506.2,316.3L505.0,316.3L503.8,316.3L502.6,316.2L501.4,316.2L500.2,316.1L499.0,316.0L497.8,315.9L497.2,315.8L496.0,315.7L494.8,315.6L493.6,315.4L492.4,315.3L491.7,315.2L490.6,315.0L489.4,314.8L488.7,314.6L487.6,314.3L486.9,314.0L485.8,313.5L485.2,313.1L484.6,312.6L484.0,312.0L483.4,311.3L482.8,310.6L482.2,309.9L481.6,309.2L481.2,308.6L480.8,308.0L480.4,307.3L479.8,306.2L479.5,305.6L479.2,304.7L478.9,303.8L478.6,302.7L478.4,302.0L478.2,300.8L478.0,299.6L478.0,298.4L478.0,297.2L478.0,296.0L478.0,294.8L478.0,293.6L478.1,292.4L478.3,291.2L478.4,290.0L478.6,288.8L478.6,288.2L478.7,287.0L478.9,285.8L479.2,284.9L479.5,284.0L479.8,283.4L480.4,282.2L480.7,281.6L481.1,281.0L481.6,280.3L482.2,279.4L482.8,278.6L483.3,278.0L483.7,277.4L484.3,276.8L484.9,276.2L485.6,275.6L486.4,275.0L487.0,274.5L487.6,274.0L488.2,273.5L488.8,273.0L489.4,272.5L490.2,272.0L491.1,271.4L491.8,271.0L492.4,270.6L493.2,270.2L494.2,269.7L494.8,269.4L495.7,269.0L496.6,268.6L497.2,268.3L498.2,267.8L499.0,267.4L499.6,267.1L500.4,266.6L501.3,266.0L502.0,265.5L502.6,265.1L503.2,264.6L503.8,264.0L504.4,263.3L505.0,262.5L505.4,261.8L505.8,261.2L506.2,260.6L506.8,259.6L507.2,258.8L507.5,258.2L508.0,257.0L508.2,256.4L508.4,255.2L508.6,254.4L508.9,253.4L509.2,252.7L509.8,251.7L510.4,251.0L511.0,250.7L512.2,250.8L512.8,251.4L513.2,252.2L513.4,252.8L513.5,254.0L513.6,255.2L513.8,256.4L514.0,257.2L514.2,258.2L514.6,259.4L514.8,260.0L515.2,260.7L515.8,261.6L516.4,262.3L517.0,263.0L517.5,263.6L518.0,264.2L518.6,264.8L519.1,265.4L519.7,266.0L520.3,266.6L520.9,267.2L521.5,267.8L522.1,268.4L522.8,269.0L523.6,269.5L524.2,269.9L524.8,270.3L525.7,270.8L526.6,271.4L527.2,271.8L527.8,272.2L528.4,272.7L529.1,273.2L529.9,273.8L530.7,274.4L531.4,275.0L532.0,275.4L532.6,275.9L533.2,276.5L533.8,277.1L534.4,277.8L535.0,278.6L535.5,279.2L535.9,279.8L536.3,280.4L536.8,281.1L537.4,282.1L537.8,282.8L538.1,283.4L538.5,284.6L538.7,285.2L539.1,286.4L539.3,287.0L539.7,288.2L539.9,288.8L540.3,290.0L540.4,290.6L540.6,291.8L540.8,293.0L540.9,294.2L541.0,294.8L541.2,296.0L541.3,297.2L541.4,298.4L541.4,299.6L541.4,300.8L541.3,302.0L541.1,303.2L541.0,303.8L540.7,305.0L540.4,305.9L540.1,306.8L539.8,307.4L539.2,308.6L538.9,309.2L538.5,309.8L538.0,310.5L537.4,311.3L536.8,312.0L536.2,312.6L535.6,313.1L535.0,313.5L534.0,314.0L533.2,314.3L532.2,314.6L531.4,314.8L530.2,315.0L529.3,315.2L528.4,315.3L527.2,315.5L526.0,315.6L524.8,315.8L524.2,315.8" fill="none" stroke="#e28c45" stroke-width="1.0" />
<path d="M515.8,315.8L514.6,315.9L513.4,315.9L512.2,315.9L511.0,315.9L509.8,316.0L508.6,316.0L507.4,315.9L506.2,315.9L505.0,315.8L504.4,315.8L503.2,315.7L502.0,315.7L500.8,315.6L499.6,315.5L498.4,315.3L497.3,315.2L496.6,315.1L495.4,314.9L494.2,314.7L493.6,314.6L492.4,314.3L491.3,314.0L490.6,313.7L489.9,313.4L488.8,312.8L488.2,312.4L487.6,312.0L487.0,311.5L486.4,311.0L485.8,310.3L485.2,309.5L484.6,308.6L484.3,308.0L484.0,307.4L483.5,306.2L483.3,305.6L482.9,304.4L482.7,303.8L482.5,302.6L482.3,301.4L482.2,300.8L482.1,299.6L482.1,298.4L482.2,297.8L482.4,296.6L482.7,295.4L482.8,294.4L482.9,293.6L483.1,292.4L483.2,291.2L483.4,290.0L483.5,289.4L483.6,288.2L483.8,287.0L484.0,286.2L484.4,285.2L484.8,284.6L485.2,283.9L485.8,283.1L486.4,282.3L487.0,281.6L487.6,281.0L488.2,280.4L488.7,279.8L489.3,279.2L489.9,278.6L490.5,278.0L491.1,277.4L491.7,276.8L492.3,276.2L493.0,275.6L493.6,275.1L494.2,274.8L495.0,274.4L496.0,274.0L496.6,273.8L497.8,273.3L498.4,273.0L499.1,272.6L500.0,272.0L500.8,271.5L501.4,271.1L502.0,270.8L503.0,270.2L503.8,269.7L504.4,269.4L505.1,269.0L506.1,268.4L506.8,268.0L507.4,267.6L508.2,267.2L509.2,266.7L509.8,266.6L511.0,266.5L511.6,266.6L512.8,267.0L513.4,267.4L514.1,267.8L514.9,268.4L515.8,269.0L516.4,269.5L517.0,269.9L517.6,270.4L518.2,270.9L518.9,271.4L519.6,272.0L520.4,272.6L521.2,273.1L521.8,273.5L522.4,273.8L523.3,274.4L524.2,275.0L524.8,275.5L525.4,275.9L526.0,276.4L526.6,276.9L527.2,277.4L528.0,278.0L528.8,278.6L529.5,279.2L530.2,279.8L530.8,280.4L531.2,281.0L531.6,281.6L532.0,282.2L532.6,283.4L532.8,284.0L533.2,284.8L533.6,285.8L533.8,286.5L534.2,287.6L534.4,288.2L534.9,289.4L535.1,290.0L535.6,291.0L536.0,291.8L536.2,292.4L536.6,293.6L536.8,294.3L537.1,295.4L537.3,296.6L537.4,297.2L537.6,298.4L537.8,299.6L537.9,300.8L538.0,302.0L537.9,303.2L537.8,304.4L537.4,305.6L537.2,306.2L536.8,307.0L536.3,308.0L535.9,308.6L535.5,309.2L535.0,310.0L534.4,310.8L533.8,311.5L533.2,312.1L532.6,312.6L532.0,313.0L531.3,313.4L530.2,313.9L529.6,314.1L528.4,314.5L527.8,314.6L526.6,314.9L525.4,315.1L524.3,315.2L523.6,315.3L522.4,315.4L521.2,315.5L520.0,315.6L518.8,315.7L517.6,315.7L516.4,315.8L515.8,315.8" fill="none" stroke="#e28c45" stroke-width="1.0" />
<path d="M517.0,315.2L515.8,315.3L514.6,315.4L513.4,315.4L512.2,315.4L511.0,315.5L509.8,315.5L508.6,315.5L507.4,315.4L506.2,315.4L505.0,315.3L503.8,315.2L503.2,315.2L502.0,315.1L500.8,315.0L499.6,314.8L498.4,314.6L497.8,314.5L496.6,314.2L496.0,314.0L494.8,313.6L494.2,313.4L493.0,312.8L492.4,312.5L491.8,312.1L491.0,311.6L490.1,311.0L489.4,310.4L488.8,309.9L488.2,309.2L487.8,308.6L487.4,308.0L487.0,307.1L486.7,306.2L486.4,305.3L486.2,304.4L485.9,303.2L485.8,302.6L485.6,301.4L485.6,300.2L485.8,299.0L485.9,298.4L486.3,297.2L486.4,296.6L486.8,295.4L487.0,294.7L487.2,293.6L487.5,292.4L487.7,291.8L488.2,290.7L488.6,290.0L488.9,289.4L489.4,288.5L489.8,287.6L490.1,287.0L490.6,286.0L491.1,285.2L491.6,284.6L492.2,284.0L492.8,283.4L493.4,282.8L494.0,282.2L494.5,281.6L495.1,281.0L495.6,280.4L496.2,279.8L496.9,279.2L497.7,278.6L498.4,278.3L499.0,278.0L500.2,277.5L500.8,277.2L501.6,276.8L502.6,276.2L503.2,275.9L503.8,275.6L505.0,275.1L505.6,275.0L506.8,274.7L507.9,274.4L508.6,274.2L509.8,274.0L511.0,274.0L512.2,274.3L512.8,274.5L514.0,274.8L514.6,275.0L515.8,275.6L516.4,275.9L517.0,276.4L517.6,276.8L518.4,277.4L519.3,278.0L520.0,278.4L520.6,278.6L521.7,279.2L522.4,279.7L523.0,280.2L523.6,280.7L524.2,281.3L524.8,281.9L525.4,282.5L526.0,283.1L526.6,283.8L527.1,284.6L527.5,285.2L527.8,285.8L528.4,286.9L528.9,287.6L529.3,288.2L529.7,288.8L530.2,289.4L530.8,290.2L531.4,291.1L531.8,291.8L532.1,292.4L532.6,293.6L532.8,294.2L533.1,295.4L533.3,296.0L533.7,297.2L533.9,297.8L534.4,299.0L534.5,299.6L534.8,300.8L535.0,302.0L535.0,302.6L535.0,303.3L534.8,304.4L534.5,305.6L534.2,306.2L533.8,307.0L533.2,308.0L532.8,308.6L532.3,309.2L531.8,309.8L531.3,310.4L530.7,311.0L530.1,311.6L529.3,312.2L528.5,312.8L527.8,313.2L527.2,313.5L526.0,314.0L525.4,314.1L524.2,314.4L523.2,314.6L522.4,314.7L521.2,314.9L520.0,315.0L518.8,315.1L517.6,315.2L517.0,315.2" fill="none" stroke="#e28c45" stroke-width="1.0" />
<path d="M516.4,314.6L515.2,314.7L514.0,314.8L512.8,314.8L511.6,314.9L510.4,314.9L509.2,314.9L508.0,314.9L506.8,314.8L505.6,314.7L504.4,314.6L503.8,314.5L502.6,314.4L501.4,314.2L500.3,314.0L499.6,313.8L498.4,313.4L497.8,313.2L497.0,312.8L496.0,312.3L495.4,311.9L494.8,311.6L493.9,311.0L493.1,310.4L492.4,309.9L491.8,309.4L491.2,308.8L490.6,308.1L490.1,307.4L489.8,306.8L489.4,305.9L489.2,305.0L488.9,303.8L488.8,302.8L488.7,302.0L488.7,300.8L488.8,299.8L489.0,299.0L489.4,297.8L489.7,297.2L490.0,296.6L490.6,295.4L490.9,294.8L491.2,294.2L491.8,293.1L492.3,292.4L492.7,291.8L493.1,291.2L493.6,290.4L494.2,289.5L494.7,288.8L495.2,288.2L495.7,287.6L496.3,287.0L496.9,286.4L497.6,285.8L498.3,285.2L499.0,284.6L499.6,284.1L500.2,283.7L500.9,283.4L502.0,283.0L502.6,282.8L503.8,282.3L504.4,282.0L505.3,281.6L506.2,281.1L506.8,280.8L507.7,280.4L508.6,280.1L509.8,279.9L511.0,280.0L512.2,280.3L512.8,280.5L513.7,281.0L514.6,281.5L515.2,281.9L515.8,282.3L516.6,282.8L517.4,283.4L518.2,283.9L518.8,284.3L519.5,284.6L520.6,285.1L521.2,285.5L521.8,285.9L522.4,286.4L523.0,287.0L523.6,287.7L524.2,288.6L524.7,289.4L525.2,290.0L525.7,290.6L526.3,291.2L527.0,291.8L527.8,292.4L528.4,292.9L529.0,293.5L529.5,294.2L529.9,294.8L530.2,295.5L530.7,296.6L530.9,297.2L531.3,298.4L531.6,299.0L531.9,300.2L532.1,300.8L532.2,302.0L532.1,303.2L532.0,303.9L531.7,305.0L531.4,305.6L530.8,306.7L530.4,307.4L530.0,308.0L529.5,308.6L529.0,309.3L528.4,310.0L527.8,310.7L527.2,311.3L526.6,311.8L526.0,312.2L525.0,312.8L524.2,313.1L523.4,313.4L522.4,313.7L521.2,313.9L520.6,314.1L519.4,314.3L518.2,314.4L517.0,314.6L516.4,314.6" fill="none" stroke="#e28c45" stroke-width="1.0" />
<path d="M513.4,314.0L512.2,314.1L511.0,314.2L509.8,314.2L508.6,314.2L507.4,314.1L506.5,314.0L505.6,313.9L504.4,313.7L503.2,313.4L502.6,313.3L501.4,313.0L500.8,312.8L499.6,312.3L499.0,312.0L498.3,311.6L497.3,311.0L496.6,310.5L496.0,310.0L495.4,309.5L494.8,309.0L494.2,308.4L493.6,307.8L493.0,307.1L492.5,306.2L492.2,305.6L491.8,304.4L491.7,303.8L491.6,302.6L491.7,301.4L491.8,300.4L492.0,299.6L492.4,298.4L492.7,297.8L493.0,297.2L493.6,296.3L494.2,295.5L494.8,294.8L495.4,294.3L496.0,293.8L496.6,293.3L497.2,292.8L497.8,292.3L498.4,291.8L499.1,291.2L499.8,290.6L500.6,290.0L501.3,289.4L502.0,288.9L502.6,288.6L503.7,288.2L504.4,288.1L505.6,287.8L506.4,287.6L507.4,287.3L508.4,287.0L509.2,286.9L509.9,287.0L511.0,287.3L511.7,287.6L512.8,288.0L513.4,288.3L514.6,288.8L515.2,289.0L516.2,289.4L517.0,289.6L518.2,289.9L518.8,290.1L520.0,290.5L520.6,290.9L521.2,291.4L521.8,291.9L522.4,292.4L523.1,293.0L524.1,293.6L524.8,294.0L525.4,294.4L526.0,294.8L526.7,295.4L527.3,296.0L527.8,296.7L528.4,297.8L528.6,298.4L529.0,299.4L529.2,300.2L529.4,301.4L529.4,302.6L529.2,303.8L529.0,304.4L528.4,305.6L528.1,306.2L527.8,306.8L527.2,307.8L526.7,308.6L526.2,309.2L525.7,309.8L525.1,310.4L524.4,311.0L523.6,311.5L523.0,311.8L522.1,312.2L521.2,312.5L520.3,312.8L519.4,313.1L518.2,313.4L517.6,313.5L516.4,313.7L515.2,313.9L514.0,314.0L513.4,314.0" fill="none" stroke="#e28c45" stroke-width="1.0" />
<path d="M514.6,312.8L513.4,313.0L512.2,313.1L511.0,313.1L509.8,313.2L508.6,313.1L507.4,313.0L506.3,312.8L505.6,312.7L504.4,312.3L503.8,312.2L502.6,311.7L502.0,311.5L500.8,311.0L500.2,310.7L499.6,310.4L498.6,309.8L497.9,309.2L497.2,308.6L496.7,308.0L496.2,307.4L495.8,306.8L495.4,306.2L494.9,305.0L494.8,304.4L494.6,303.2L494.6,302.0L494.7,300.8L494.8,300.2L495.2,299.0L495.5,298.4L496.0,297.7L496.6,297.0L497.2,296.5L497.8,296.0L498.6,295.4L499.5,294.8L500.2,294.3L500.8,293.9L501.4,293.6L502.5,293.0L503.2,292.8L504.4,292.6L505.6,292.5L506.3,292.4L507.4,292.1L508.2,291.8L509.2,291.4L510.4,291.2L511.6,291.3L512.8,291.5L513.7,291.8L514.6,292.1L515.4,292.4L516.4,292.8L517.0,293.0L518.2,293.4L518.8,293.7L519.8,294.2L520.6,294.7L521.2,295.0L521.8,295.4L522.9,296.0L523.6,296.5L524.2,296.9L524.8,297.5L525.4,298.2L525.9,299.0L526.3,299.6L526.6,300.4L526.9,301.4L526.9,302.6L526.7,303.8L526.5,304.4L526.0,305.5L525.7,306.2L525.3,306.8L524.8,307.6L524.2,308.5L523.6,309.1L523.0,309.6L522.4,310.1L521.8,310.4L520.7,311.0L520.0,311.3L519.3,311.6L518.2,312.0L517.5,312.2L516.4,312.5L515.2,312.7L514.6,312.8" fill="none" stroke="#e28c45" stroke-width="1.0" />
<path d="M513.4,311.6L512.2,311.8L511.0,311.8L509.8,311.8L508.6,311.8L507.4,311.6L506.8,311.5L505.6,311.2L505.0,311.0L503.8,310.5L503.2,310.3L502.2,309.8L501.4,309.5L500.8,309.1L499.9,308.6L499.2,308.0L498.6,307.4L498.2,306.8L497.8,306.2L497.3,305.0L497.2,304.4L497.1,303.2L497.1,302.0L497.2,301.4L497.6,300.2L497.9,299.6L498.4,298.8L499.0,298.1L499.6,297.6L500.2,297.1L501.0,296.6L502.0,296.0L502.6,295.8L503.8,295.4L504.4,295.3L505.6,295.2L506.8,295.0L508.0,294.8L508.6,294.7L509.8,294.3L510.4,294.2L511.6,294.0L512.8,294.2L513.4,294.3L514.6,294.6L515.3,294.8L516.4,295.1L517.2,295.4L518.2,295.8L518.8,296.1L519.8,296.6L520.6,297.1L521.2,297.5L521.8,297.9L522.4,298.5L523.0,299.1L523.6,299.8L524.2,300.8L524.4,301.4L524.6,302.6L524.5,303.8L524.2,304.6L523.7,305.6L523.4,306.2L523.0,306.8L522.4,307.6L521.8,308.2L521.2,308.7L520.4,309.2L519.4,309.8L518.8,310.1L518.2,310.4L517.0,310.8L516.4,311.0L515.2,311.3L514.0,311.5L513.4,311.6" fill="none" stroke="#e28c45" stroke-width="1.0" />
<path d="M511.0,310.4L509.8,310.4L509.2,310.4L508.0,310.3L506.8,310.1L505.8,309.8L505.0,309.5L504.3,309.2L503.2,308.6L502.6,308.3L502.0,308.0L501.2,307.4L500.5,306.8L500.0,306.2L499.6,305.4L499.3,304.4L499.3,303.2L499.6,302.0L499.8,301.4L500.2,300.7L500.8,299.9L501.4,299.2L502.0,298.8L502.6,298.3L503.6,297.8L504.4,297.5L505.1,297.2L506.2,296.9L507.3,296.6L508.0,296.5L509.2,296.3L510.4,296.1L511.6,296.1L512.8,296.1L514.0,296.3L515.2,296.6L515.8,296.8L517.0,297.2L517.6,297.5L518.2,297.8L519.2,298.4L520.0,298.9L520.6,299.4L521.2,300.1L521.7,300.8L522.0,301.4L522.3,302.6L522.3,303.8L521.8,305.0L521.5,305.6L521.1,306.2L520.6,306.8L519.9,307.4L519.1,308.0L518.2,308.6L517.6,308.9L517.0,309.2L515.8,309.6L515.1,309.8L514.0,310.0L512.8,310.3L511.6,310.4L511.0,310.4" fill="none" stroke="#e28c45" stroke-width="1.0" />
<path d="M514.0,308.7L512.8,308.9L511.6,309.0L510.4,309.0L509.2,309.0L508.0,308.9L506.8,308.7L506.2,308.6L505.0,308.1L504.4,307.7L503.8,307.3L503.1,306.8L502.4,306.2L502.0,305.6L501.5,304.4L501.7,303.2L502.0,302.4L502.6,301.4L503.1,300.8L503.7,300.2L504.4,299.6L505.0,299.1L505.6,298.7L506.2,298.4L507.4,297.9L508.0,297.8L509.2,297.6L510.4,297.5L511.6,297.5L512.8,297.6L514.0,297.8L514.6,297.9L515.8,298.4L516.4,298.6L517.1,299.0L518.1,299.6L518.8,300.1L519.4,300.7L519.9,301.4L520.2,302.0L520.4,303.2L520.1,304.4L519.8,305.0L519.4,305.6L518.8,306.3L518.2,306.8L517.3,307.4L516.4,307.9L515.8,308.1L514.6,308.5L514.0,308.7" fill="none" stroke="#e28c45" stroke-width="1.0" />
<path d="M514.0,307.4L512.8,307.7L511.6,307.8L510.4,307.8L509.2,307.7L508.0,307.6L506.8,307.4L506.2,307.2L505.3,306.8L504.5,306.2L504.0,305.6L503.6,305.0L503.5,303.8L503.8,302.7L504.2,302.0L504.6,301.4L505.1,300.8L505.7,300.2L506.5,299.6L507.4,299.1L508.0,298.9L509.2,298.7L510.4,298.7L511.6,298.7L512.8,298.9L513.4,299.0L514.6,299.4L515.2,299.7L516.2,300.2L517.0,300.7L517.6,301.2L518.2,301.8L518.6,302.6L518.6,303.8L518.2,304.8L517.6,305.5L517.0,306.0L516.4,306.4L515.7,306.8L514.6,307.3L514.0,307.4" fill="none" stroke="#e28c45" stroke-width="1.0" />
<path d="M514.0,306.3L512.8,306.7L511.6,306.8L510.4,306.7L509.2,306.6L508.0,306.5L506.8,306.2L506.2,306.0L505.6,305.5L505.0,304.6L504.9,303.8L505.0,303.1L505.5,302.0L506.0,301.4L506.6,300.8L507.4,300.2L508.0,300.0L509.2,299.7L510.4,299.7L511.6,299.9L512.8,300.2L513.4,300.4L514.3,300.8L515.2,301.3L515.8,301.7L516.4,302.3L516.9,303.2L516.7,304.4L516.3,305.0L515.5,305.6L514.6,306.1L514.0,306.3" fill="none" stroke="#e28c45" stroke-width="1.0" />
<path d="M512.8,305.7L511.6,305.8L510.4,305.7L509.2,305.6L508.6,305.5L507.4,305.3L506.7,305.0L506.1,304.4L506.0,303.2L506.2,302.6L506.8,301.8L507.4,301.2L508.2,300.8L509.2,300.6L510.4,300.7L511.0,300.8L512.2,301.2L512.8,301.5L513.8,302.0L514.6,302.6L515.1,303.2L515.2,303.8L515.0,304.4L514.4,305.0L513.4,305.5L512.8,305.7" fill="none" stroke="#e28c45" stroke-width="1.0" />
<path d="M513.4,305.1L512.2,305.4L511.0,305.4L509.8,305.2L508.6,305.1L507.8,305.0L506.8,304.5L506.5,303.8L506.7,302.6L507.1,302.0L507.8,301.4L508.6,301.1L509.8,301.0L511.0,301.3L511.6,301.5L512.7,302.0L513.4,302.4L514.0,302.9L514.4,303.8L514.0,304.6L513.4,305.1" fill="none" stroke="#e28c45" stroke-width="1.0" />
<path d="M513.4,305.1L512.2,305.4L511.0,305.4L509.8,305.2L508.6,305.1L507.8,305.0L506.8,304.5L506.5,303.8L506.7,302.6L507.1,302.0L507.8,301.4L508.6,301.1L509.8,301.0L511.0,301.3L511.6,301.5L512.7,302.0L513.4,302.4L514.0,302.9L514.4,303.8L514.0,304.6L513.4,305.1" fill="none" stroke="#e28c45" stroke-width="1.0" />
<path d="M695.4,315.0L694.2,315.1L693.0,315.2L691.8,315.2L690.6,315.2L689.4,315.2L688.2,315.2L687.0,315.2L685.8,315.2L684.6,315.2L683.4,315.1L682.2,315.1L681.0,315.0L680.4,315.0L679.2,314.8L678.0,314.7L676.8,314.5L676.0,314.4L675.0,314.2L673.8,313.8L673.2,313.6L672.4,313.2L671.4,312.6L670.8,312.1L670.2,311.6L669.6,310.9L669.1,310.2L668.7,309.6L668.4,308.7L668.2,307.8L668.3,306.6L668.4,306.0L668.7,304.8L668.9,303.6L669.1,303.0L669.5,301.8L669.7,301.2L670.2,300.0L670.4,299.4L670.7,298.2L670.8,297.6L671.0,296.4L671.1,295.2L671.0,294.0L670.8,292.9L670.7,292.2L670.5,291.0L670.4,289.8L670.5,288.6L670.6,287.4L670.8,286.2L670.8,285.6L670.8,284.4L670.7,283.8L670.5,282.6L670.3,281.4L670.2,280.2L670.2,279.6L670.1,278.4L670.1,277.2L670.2,276.3L670.3,275.4L670.5,274.2L670.8,273.3L671.1,272.4L671.3,271.2L671.3,270.0L671.2,268.8L671.1,267.6L671.3,266.4L671.4,265.6L671.6,264.6L671.8,263.4L672.0,262.2L672.1,261.6L672.5,260.4L672.7,259.8L673.1,258.6L673.2,258.0L673.5,256.8L673.8,255.8L674.1,255.0L674.4,254.2L674.7,253.2L674.9,252.0L675.0,250.8L675.1,250.2L675.5,249.0L675.7,248.4L676.2,247.2L676.4,246.6L676.8,245.7L677.2,244.8L677.6,244.2L678.0,243.4L678.5,242.4L678.7,241.8L678.9,240.6L679.2,239.4L679.4,238.8L679.8,237.6L680.0,237.0L680.4,236.3L681.0,235.4L681.6,234.8L682.2,234.2L682.8,233.4L683.2,232.8L683.6,232.2L684.1,231.6L684.7,231.0L685.3,230.4L686.1,229.8L686.7,229.2L687.3,228.6L687.9,228.0L688.5,227.4L689.3,226.8L690.0,226.6L691.1,226.8L691.8,227.1L692.4,227.4L693.3,228.0L693.9,228.6L694.4,229.2L694.8,229.8L695.4,231.0L695.7,231.6L696.0,232.2L696.5,233.4L696.8,234.0L697.2,234.9L697.8,235.8L698.3,236.4L698.9,237.0L699.6,237.5L700.2,237.9L700.8,238.2L701.8,238.8L702.6,239.4L703.2,240.0L703.6,240.6L703.9,241.2L704.4,242.2L704.7,243.0L705.0,243.8L705.3,244.8L705.6,245.6L705.9,246.6L706.2,247.3L706.5,248.4L706.8,249.5L706.9,250.2L706.8,251.4L706.7,252.0L706.5,253.2L706.2,254.3L706.1,255.0L705.8,256.2L705.7,257.4L706.1,258.6L706.5,259.2L707.0,259.8L707.5,260.4L708.0,261.6L708.0,262.2L708.0,263.4L708.0,264.6L708.1,265.8L708.1,267.0L708.2,268.2L708.4,269.4L708.5,270.6L708.5,271.8L708.5,273.0L708.5,274.2L708.4,275.4L708.2,276.6L708.1,277.8L708.0,278.4L707.9,279.6L707.8,280.8L707.7,282.0L707.6,283.2L707.4,284.4L707.4,285.0L707.3,286.2L707.3,287.4L707.3,288.6L707.3,289.8L707.3,291.0L707.3,292.2L707.3,293.4L707.3,294.6L707.4,295.6L707.5,296.4L707.9,297.6L708.0,298.2L708.4,299.4L708.6,300.3L708.8,301.2L709.1,302.4L709.3,303.0L709.5,304.2L709.7,305.4L709.7,306.6L709.6,307.8L709.2,309.0L708.9,309.6L708.6,310.3L708.0,311.2L707.4,311.9L706.8,312.4L706.2,312.8L705.6,313.2L704.4,313.7L703.8,313.9L702.6,314.2L701.5,314.4L700.8,314.5L699.6,314.6L698.4,314.8L697.2,314.9L696.0,315.0L695.4,315.0" fill="#e28c45" stroke="none" stroke-width="0" fill-opacity="0.3"/>
<path d="M703.8,316.8L702.6,316.9L701.4,317.0L700.2,317.0L699.0,317.1L697.8,317.1L696.6,317.2L695.4,317.2L694.2,317.2L693.0,317.2L691.8,317.3L690.6,317.3L689.4,317.3L688.2,317.3L687.0,317.3L685.8,317.3L684.6,317.3L683.4,317.3L682.2,317.2L681.0,317.2L679.8,317.2L678.6,317.1L677.4,317.0L676.2,317.0L675.0,316.9L674.1,316.8L673.2,316.8L672.0,316.7L670.8,316.6L669.6,316.5L668.4,316.4L667.2,316.2L666.6,316.1L665.4,316.0L664.2,315.8L663.0,315.7L662.4,315.6L661.2,315.4L660.0,315.2L659.2,315.0L658.2,314.7L657.1,314.4L656.4,314.1L655.8,313.7L655.2,313.2L654.6,312.6L654.0,311.9L653.4,311.1L652.8,310.3L652.4,309.6L652.1,309.0L651.7,307.8L651.7,306.6L651.9,305.4L652.2,304.3L652.5,303.6L652.8,303.0L653.4,301.8L653.7,301.2L654.0,300.5L654.4,299.4L654.7,298.8L655.0,297.6L655.2,297.0L655.5,295.8L655.7,294.6L655.8,294.0L655.9,292.8L655.9,291.6L655.9,290.4L655.8,289.5L655.7,288.6L655.7,287.4L655.6,286.2L655.5,285.0L655.4,283.8L655.2,282.6L655.1,282.0L654.8,280.8L654.7,279.6L654.6,278.7L654.6,277.8L654.5,276.6L654.5,275.4L654.5,274.2L654.5,273.0L654.5,271.8L654.4,270.6L654.2,269.4L654.1,268.2L654.0,267.4L653.9,266.4L653.9,265.2L654.0,264.0L654.1,263.4L654.1,262.2L654.0,261.1L653.9,260.4L653.7,259.2L653.6,258.0L653.6,256.8L653.6,255.6L653.6,254.4L653.6,253.2L653.5,252.0L653.4,251.4L653.3,250.2L653.2,249.0L653.1,247.8L653.1,246.6L653.2,245.4L653.3,244.2L653.4,243.5L653.5,242.4L653.7,241.2L653.7,240.0L653.7,238.8L653.6,237.6L653.5,236.4L653.4,235.7L653.3,234.6L653.2,233.4L653.2,232.2L653.3,231.0L653.4,230.0L653.5,229.2L653.7,228.0L653.9,226.8L654.1,226.2L654.3,225.0L654.4,223.8L654.5,222.6L654.5,221.4L654.4,220.2L654.5,219.0L654.6,217.8L654.7,217.2L654.8,216.0L654.8,214.8L654.8,213.6L654.9,212.4L655.1,211.2L655.2,210.5L655.4,209.4L655.4,208.2L655.6,207.0L655.8,205.8L655.9,205.2L656.3,204.0L656.4,203.4L656.7,202.2L656.9,201.0L657.1,200.4L657.3,199.2L657.6,198.0L657.7,197.4L657.9,196.2L658.2,195.0L658.4,194.4L658.8,193.5L659.3,192.6L659.7,192.0L660.0,191.4L660.6,190.3L660.9,189.6L661.2,188.8L661.5,187.8L661.8,186.9L662.1,186.0L662.4,185.1L662.7,184.2L663.0,183.6L663.5,182.4L663.7,181.8L664.2,180.7L664.5,180.0L664.9,179.4L665.4,178.6L666.0,177.9L666.6,177.3L667.2,176.7L667.8,176.2L668.4,175.6L669.0,174.9L669.6,174.3L670.2,173.6L670.8,173.0L671.4,172.5L672.0,172.0L672.6,171.6L673.6,171.0L674.4,170.6L675.0,170.4L676.2,169.8L676.8,169.4L677.4,169.1L678.2,168.6L679.2,168.0L679.8,167.6L680.4,167.3L681.4,166.8L682.2,166.4L682.8,166.2L684.0,165.8L685.0,165.6L685.8,165.6L687.0,165.6L687.6,165.6L688.8,165.6L690.0,165.6L691.2,165.6L692.4,165.6L693.6,165.7L694.8,165.8L696.0,165.9L697.2,166.2L697.8,166.4L698.8,166.8L699.6,167.2L700.2,167.5L701.3,168.0L702.0,168.4L702.6,168.7L703.6,169.2L704.4,169.6L705.0,169.9L705.7,170.4L706.5,171.0L707.3,171.6L708.0,172.2L708.6,172.7L709.2,173.1L709.8,173.6L710.4,174.1L711.0,174.6L711.7,175.2L712.4,175.8L713.0,176.4L713.7,177.0L714.3,177.6L715.0,178.2L715.6,178.8L716.1,179.4L716.5,180.0L717.0,180.7L717.6,181.8L717.9,182.4L718.2,183.3L718.6,184.2L718.9,184.8L719.4,185.7L720.0,186.5L720.5,187.2L720.9,187.8L721.2,188.4L721.6,189.6L721.8,190.3L722.1,191.4L722.4,192.2L722.8,193.2L723.1,193.8L723.6,194.8L723.9,195.6L724.2,196.5L724.4,197.4L724.7,198.6L724.8,199.2L725.0,200.4L725.2,201.6L725.4,202.6L725.5,203.4L725.8,204.6L726.0,205.8L726.1,206.4L726.3,207.6L726.5,208.8L726.6,209.4L726.8,210.6L727.0,211.8L727.2,212.6L727.4,213.6L727.5,214.8L727.6,216.0L727.7,217.2L727.8,217.8L728.0,219.0L728.1,220.2L728.2,221.4L728.2,222.6L728.1,223.8L728.1,225.0L728.1,226.2L728.2,227.4L728.2,228.6L728.3,229.8L728.3,231.0L728.3,232.2L728.4,233.4L728.4,234.0L728.6,235.2L728.8,236.4L728.9,237.6L728.9,238.8L728.8,240.0L728.7,241.2L728.6,242.4L728.5,243.6L728.4,244.2L728.2,245.4L728.0,246.6L727.9,247.8L727.8,249.0L727.8,250.2L727.8,251.4L727.8,252.0L727.8,252.9L727.8,253.8L727.8,255.0L727.8,256.2L727.8,256.8L727.7,258.0L727.5,259.2L727.4,260.4L727.2,261.5L727.1,262.2L727.0,263.4L726.8,264.6L726.6,265.5L726.4,266.4L726.1,267.6L726.0,268.3L725.8,269.4L725.6,270.6L725.5,271.8L725.4,272.5L725.3,273.6L725.1,274.8L724.9,276.0L724.8,276.6L724.6,277.8L724.4,279.0L724.3,280.2L724.2,281.0L724.1,282.0L723.9,283.2L723.7,284.4L723.5,285.0L723.2,286.2L723.0,287.0L722.7,288.0L722.5,289.2L722.4,289.9L722.3,291.0L722.3,292.2L722.3,293.4L722.4,294.2L722.6,295.2L723.0,296.3L723.3,297.0L723.6,297.6L724.2,298.8L724.4,299.4L724.8,300.3L725.1,301.2L725.4,302.2L725.6,303.0L725.8,304.2L725.8,305.4L725.8,306.6L725.7,307.8L725.4,309.0L725.2,309.6L724.8,310.5L724.2,311.4L723.8,312.0L723.4,312.6L722.8,313.2L722.1,313.8L721.2,314.3L720.6,314.5L719.4,314.9L718.8,315.0L717.6,315.3L716.4,315.5L715.6,315.6L714.6,315.8L713.4,315.9L712.2,316.1L711.0,316.2L710.4,316.3L709.2,316.4L708.0,316.5L706.8,316.6L705.6,316.7L704.4,316.8L703.8,316.8" fill="none" stroke="#e28c45" stroke-width="1.0" />
<path d="M693.6,316.8L692.4,316.8L691.2,316.9L690.0,316.9L688.8,316.9L687.6,316.9L686.4,316.9L685.2,316.9L684.0,316.8L682.8,316.8L682.1,316.8L681.0,316.8L679.8,316.7L678.6,316.7L677.4,316.6L676.2,316.6L675.0,316.5L673.8,316.4L672.6,316.3L671.5,316.2L670.8,316.1L669.6,316.0L668.4,315.9L667.2,315.7L666.4,315.6L665.4,315.4L664.2,315.2L663.2,315.0L662.4,314.8L661.2,314.5L660.6,314.3L659.4,313.8L658.8,313.4L658.2,313.0L657.6,312.4L657.0,311.7L656.4,310.8L656.0,310.2L655.7,309.6L655.2,308.4L655.0,307.8L654.9,306.6L655.1,305.4L655.2,304.7L655.5,303.6L655.8,302.8L656.2,301.8L656.5,301.2L657.0,300.0L657.2,299.4L657.6,298.4L657.9,297.6L658.2,296.5L658.4,295.8L658.7,294.6L658.8,293.8L658.9,292.8L659.0,291.6L659.0,290.4L658.9,289.2L658.8,288.3L658.7,287.4L658.6,286.2L658.6,285.0L658.4,283.8L658.2,282.7L658.0,282.0L657.8,280.8L657.6,279.6L657.6,278.4L657.8,277.2L657.8,276.0L657.8,274.8L657.7,273.6L657.6,272.4L657.6,271.5L657.6,270.6L657.6,269.4L657.6,268.6L657.6,267.6L657.6,266.4L657.6,265.2L657.7,264.0L657.7,262.8L657.7,261.6L657.6,260.9L657.4,259.8L657.3,258.6L657.3,257.4L657.3,256.2L657.4,255.0L657.4,253.8L657.5,252.6L657.5,251.4L657.5,250.2L657.3,249.0L657.2,247.8L657.1,246.6L657.2,245.4L657.3,244.2L657.5,243.0L657.6,242.0L657.7,241.2L657.7,240.0L657.8,238.8L657.8,237.6L657.9,236.4L658.1,235.2L658.2,234.0L658.1,232.8L658.1,231.6L658.1,230.4L658.1,229.2L658.0,228.0L658.0,226.8L658.0,225.6L658.0,224.4L658.1,223.2L658.2,222.0L658.2,221.4L658.4,220.2L658.8,219.0L659.0,218.4L659.4,217.2L659.6,216.6L659.9,215.4L660.0,214.8L660.3,213.6L660.4,212.4L660.5,211.2L660.5,210.0L660.6,209.4L660.8,208.2L661.0,207.0L661.2,205.8L661.2,205.2L661.3,204.0L661.5,202.8L661.8,201.6L662.0,201.0L662.3,199.8L662.4,199.2L662.6,198.0L662.7,196.8L663.0,195.6L663.2,195.0L663.6,194.4L664.2,193.6L664.8,193.0L665.4,192.3L666.0,191.4L666.2,190.8L666.6,189.6L666.6,189.0L666.8,187.8L667.1,186.6L667.3,186.0L667.8,185.0L668.2,184.2L668.5,183.6L669.0,182.7L669.6,181.8L670.1,181.2L670.8,180.7L671.4,180.4L672.6,180.1L673.2,179.9L674.3,179.4L675.0,178.8L675.4,178.2L675.8,177.6L676.3,177.0L676.8,176.4L677.5,175.8L678.3,175.2L679.2,174.7L679.8,174.4L680.8,174.0L681.6,173.7L682.4,173.4L683.4,173.1L684.6,172.9L685.2,172.8L686.4,172.6L687.6,172.5L688.8,172.4L690.0,172.4L691.2,172.3L692.4,172.3L693.6,172.4L694.8,172.6L695.9,172.8L696.6,172.9L697.8,173.2L698.4,173.4L699.6,174.0L700.2,174.3L700.8,174.7L701.5,175.2L702.4,175.8L703.2,176.2L703.8,176.5L705.0,177.0L705.6,177.3L706.2,177.6L707.2,178.2L707.9,178.8L708.5,179.4L709.0,180.0L709.5,180.6L710.0,181.2L710.5,181.8L711.0,182.4L711.6,183.1L712.2,183.8L712.8,184.5L713.4,185.3L713.9,186.0L714.2,186.6L714.6,187.3L715.2,188.2L715.7,189.0L716.2,189.6L716.6,190.2L717.0,190.9L717.6,192.0L717.8,192.6L718.2,193.4L718.7,194.4L719.1,195.0L719.4,195.6L719.9,196.8L720.1,197.4L720.4,198.6L720.6,199.6L720.8,200.4L721.1,201.6L721.2,202.2L721.6,203.4L721.8,204.3L722.0,205.2L722.2,206.4L722.4,207.5L722.5,208.2L722.7,209.4L723.0,210.6L723.1,211.2L723.3,212.4L723.4,213.6L723.6,214.6L723.8,215.4L724.0,216.6L724.2,217.2L724.5,218.4L724.7,219.6L724.8,220.4L724.9,221.4L725.0,222.6L725.0,223.8L725.1,225.0L725.1,226.2L725.2,227.4L725.2,228.6L725.1,229.8L725.0,231.0L724.9,232.2L724.9,233.4L725.0,234.6L725.2,235.8L725.4,236.5L725.6,237.6L725.6,238.8L725.4,240.0L725.3,240.6L725.0,241.8L724.9,243.0L724.8,243.6L724.7,244.8L724.7,246.0L724.6,247.2L724.6,248.4L724.5,249.6L724.5,250.8L724.5,252.0L724.5,253.2L724.4,254.4L724.3,255.6L724.2,256.2L724.0,257.4L723.8,258.6L723.8,259.8L723.7,261.0L723.6,262.0L723.5,262.8L723.3,264.0L723.0,265.2L722.9,265.8L722.7,267.0L722.5,268.2L722.3,268.8L722.1,270.0L721.8,271.2L721.7,271.8L721.6,273.0L721.6,274.2L721.5,275.4L721.4,276.6L721.2,277.8L721.2,278.4L721.1,279.6L721.0,280.8L720.9,282.0L720.6,283.1L720.4,283.8L720.1,285.0L719.9,285.6L719.7,286.8L719.5,288.0L719.4,288.6L719.3,289.8L719.2,291.0L719.2,292.2L719.1,293.4L719.2,294.6L719.3,295.8L719.4,296.6L719.7,297.6L720.0,298.2L720.6,299.1L721.2,299.9L721.7,300.6L722.1,301.2L722.4,301.9L722.8,303.0L722.9,304.2L722.9,305.4L722.8,306.6L722.5,307.8L722.4,308.4L722.0,309.6L721.7,310.2L721.2,311.3L720.7,312.0L720.3,312.6L719.7,313.2L718.8,313.8L718.2,314.1L717.4,314.4L716.4,314.7L715.2,315.0L714.6,315.1L713.4,315.3L712.2,315.5L711.6,315.6L710.4,315.8L709.2,316.0L708.0,316.1L706.8,316.2L706.2,316.2L705.0,316.4L703.8,316.5L702.6,316.5L701.4,316.6L700.2,316.6L699.0,316.7L697.8,316.7L696.6,316.7L695.4,316.8L694.2,316.8L693.6,316.8" fill="none" stroke="#e28c45" stroke-width="1.0" />
<path d="M700.2,316.2L699.0,316.3L697.8,316.3L696.6,316.4L695.4,316.4L694.2,316.5L693.0,316.5L691.8,316.5L690.6,316.5L689.4,316.6L688.2,316.6L687.0,316.5L685.8,316.5L684.6,316.5L683.4,316.5L682.2,316.5L681.0,316.4L679.8,316.4L678.6,316.3L677.4,316.2L676.8,316.2L675.6,316.1L674.4,316.0L673.2,316.0L672.0,315.8L670.8,315.7L670.0,315.6L669.0,315.5L667.8,315.3L666.6,315.0L666.0,314.8L664.8,314.5L664.2,314.2L663.2,313.8L662.4,313.4L661.8,313.0L661.2,312.5L660.6,312.0L660.0,311.4L659.4,310.5L659.0,309.6L658.8,309.0L658.4,307.8L658.2,306.8L658.1,306.0L658.2,304.8L658.3,304.2L658.6,303.0L658.9,302.4L659.4,301.4L659.8,300.6L660.1,300.0L660.6,299.1L661.0,298.2L661.2,297.6L661.6,296.4L661.8,295.6L662.0,294.6L662.0,293.4L662.0,292.2L661.9,291.0L661.8,290.3L661.7,289.2L661.5,288.0L661.4,286.8L661.3,285.6L661.2,284.6L661.1,283.8L660.8,282.6L660.6,281.4L660.6,280.8L660.5,279.6L660.6,278.4L660.6,277.8L660.7,276.6L660.6,275.4L660.6,274.8L660.4,273.6L660.4,272.4L660.4,271.2L660.5,270.0L660.6,269.3L660.7,268.2L660.8,267.0L660.9,265.8L661.0,264.6L661.0,263.4L661.0,262.2L660.8,261.0L660.7,259.8L660.7,258.6L660.8,257.4L660.8,256.2L660.9,255.0L660.9,253.8L661.0,252.6L661.1,251.4L661.2,250.3L661.3,249.6L661.3,248.4L661.2,247.2L661.2,246.0L661.3,244.8L661.7,243.6L661.9,243.0L662.1,241.8L662.2,240.6L662.3,239.4L662.4,238.4L662.5,237.6L662.8,236.4L663.0,235.3L663.1,234.6L663.3,233.4L663.4,232.2L663.3,231.0L663.2,229.8L663.0,228.6L663.0,228.0L662.9,226.8L662.9,225.6L662.8,224.4L662.8,223.2L662.9,222.0L663.1,221.4L663.5,220.2L663.7,219.6L663.9,218.4L664.0,217.2L664.2,216.0L664.3,215.4L664.6,214.2L664.8,213.6L665.0,212.4L665.2,211.2L665.4,210.0L665.5,209.4L665.8,208.2L666.0,207.6L666.3,206.4L666.6,205.2L666.7,204.6L667.1,203.4L667.3,202.8L667.7,201.6L667.8,201.0L668.0,199.8L668.1,198.6L668.2,197.4L668.4,196.8L668.9,195.6L669.2,195.0L669.6,194.3L670.2,193.3L670.7,192.6L671.1,192.0L671.4,191.4L671.9,190.2L672.1,189.6L672.6,188.7L673.2,187.9L673.8,187.4L674.4,186.9L675.0,186.4L675.6,185.9L676.2,185.4L676.9,184.8L677.6,184.2L678.2,183.6L678.9,183.0L679.5,182.4L680.2,181.8L681.0,181.3L681.6,181.0L682.4,180.6L683.4,180.2L684.1,180.0L685.2,179.7L686.4,179.4L687.0,179.4L688.2,179.3L689.4,179.4L690.0,179.4L691.2,179.4L691.8,179.4L693.0,179.3L694.2,179.3L695.0,179.4L696.0,179.8L696.6,180.1L697.3,180.6L698.1,181.2L698.8,181.8L699.4,182.4L700.0,183.0L700.5,183.6L700.9,184.2L701.4,184.8L702.1,185.4L703.1,186.0L703.8,186.2L704.9,186.6L705.6,186.9L706.3,187.2L707.3,187.8L708.0,188.4L708.6,188.9L709.2,189.4L709.8,190.0L710.4,190.7L711.0,191.4L711.5,192.0L711.9,192.6L712.2,193.2L712.7,194.4L712.9,195.0L713.3,196.2L713.5,196.8L714.0,198.0L714.3,198.6L714.6,199.2L715.2,200.4L715.6,201.0L715.9,201.6L716.4,202.4L716.9,203.4L717.2,204.0L717.6,205.2L717.7,205.8L718.1,207.0L718.2,207.6L718.6,208.8L718.8,209.5L719.1,210.6L719.4,211.6L719.6,212.4L719.8,213.6L720.0,214.7L720.1,215.4L720.3,216.6L720.6,217.5L720.9,218.4L721.2,219.2L721.5,220.2L721.7,221.4L721.8,222.0L721.9,223.2L721.9,224.4L721.9,225.6L721.9,226.8L722.0,228.0L722.1,229.2L722.0,230.4L721.9,231.6L721.7,232.2L721.5,233.4L721.4,234.6L721.4,235.8L721.5,237.0L721.7,238.2L721.7,239.4L721.7,240.6L721.6,241.8L721.6,243.0L721.5,244.2L721.4,245.4L721.3,246.6L721.2,247.8L721.2,248.4L721.2,249.6L721.2,250.8L721.2,252.0L721.1,253.2L720.9,254.4L720.7,255.6L720.6,256.2L720.3,257.4L720.1,258.6L720.0,259.2L719.9,260.4L719.9,261.6L719.7,262.8L719.5,264.0L719.3,264.6L719.1,265.8L718.9,267.0L718.8,268.2L718.8,269.4L718.8,270.0L718.7,271.2L718.7,272.4L718.6,273.6L718.6,274.8L718.5,276.0L718.4,277.2L718.3,278.4L718.2,279.1L718.1,280.2L717.8,281.4L717.6,282.1L717.3,283.2L717.0,284.4L716.9,285.0L716.9,286.2L716.9,287.4L716.8,288.6L716.8,289.8L716.7,291.0L716.7,292.2L716.6,293.4L716.6,294.6L716.6,295.8L716.8,297.0L717.0,297.8L717.3,298.8L717.6,299.6L718.1,300.6L718.4,301.2L718.8,301.9L719.4,303.0L719.7,303.6L719.9,304.8L719.9,306.0L719.7,307.2L719.4,308.4L719.3,309.0L718.8,310.2L718.5,310.8L718.1,311.4L717.6,312.0L716.9,312.6L716.2,313.2L715.2,313.8L714.6,314.0L713.7,314.4L712.8,314.7L711.6,315.0L711.0,315.1L709.8,315.3L708.6,315.5L707.9,315.6L706.8,315.8L705.6,315.9L704.4,316.0L703.2,316.1L702.0,316.1L700.8,316.2L700.2,316.2" fill="none" stroke="#e28c45" stroke-width="1.0" />
<path d="M703.8,315.6L702.6,315.7L701.4,315.8L700.2,315.9L699.0,315.9L697.8,316.0L696.6,316.0L695.4,316.1L694.2,316.1L693.0,316.1L691.8,316.1L690.6,316.2L689.4,316.2L688.2,316.2L687.0,316.2L685.8,316.2L684.6,316.1L683.4,316.1L682.2,316.1L681.0,316.1L679.8,316.0L678.6,315.9L677.4,315.9L676.2,315.8L675.0,315.7L674.3,315.6L673.2,315.5L672.0,315.4L670.8,315.2L669.8,315.0L669.0,314.8L667.8,314.5L667.2,314.3L666.2,313.8L665.4,313.2L664.8,312.7L664.2,312.1L663.6,311.5L663.0,310.9L662.5,310.2L662.1,309.6L661.8,309.0L661.5,307.8L661.3,306.6L661.2,305.4L661.3,304.2L661.6,303.0L661.9,302.4L662.4,301.3L662.8,300.6L663.1,300.0L663.6,298.9L663.9,298.2L664.2,297.3L664.4,296.4L664.7,295.2L664.8,294.1L664.8,293.4L664.8,292.7L664.7,291.6L664.5,290.4L664.3,289.2L664.2,288.5L664.0,287.4L663.9,286.2L663.7,285.0L663.6,284.2L663.5,283.2L663.4,282.0L663.4,280.8L663.4,279.6L663.5,278.4L663.5,277.2L663.5,276.0L663.3,274.8L663.1,273.6L663.1,272.4L663.2,271.2L663.4,270.0L663.6,268.8L663.6,268.2L663.7,267.0L663.8,265.8L664.0,264.6L664.2,263.4L664.2,262.8L664.3,261.6L664.3,260.4L664.3,259.2L664.3,258.0L664.4,256.8L664.4,255.6L664.3,254.4L664.3,253.2L664.5,252.0L664.8,250.8L664.9,250.2L665.4,249.0L665.6,248.4L666.0,247.5L666.3,246.6L666.4,245.4L666.3,244.2L666.2,243.0L666.2,241.8L666.3,240.6L666.5,239.4L666.6,238.8L666.8,237.6L667.0,236.4L667.2,235.7L667.5,234.6L667.8,233.6L668.0,232.8L668.4,231.6L668.5,231.0L668.8,229.8L668.9,228.6L668.9,227.4L668.7,226.2L668.6,225.0L668.6,223.8L668.8,222.6L669.0,221.4L669.1,220.8L669.3,219.6L669.5,218.4L669.6,217.8L669.9,216.6L670.2,215.4L670.3,214.8L670.5,213.6L670.7,212.4L670.8,211.8L671.3,210.6L671.6,210.0L672.0,209.4L672.6,208.2L672.8,207.6L672.8,206.4L672.8,205.2L672.9,204.0L673.2,203.2L673.7,202.2L674.0,201.6L674.4,200.9L674.9,199.8L675.1,199.2L675.4,198.0L675.6,197.4L676.1,196.2L676.5,195.6L677.0,195.0L677.6,194.4L678.3,193.8L679.1,193.2L679.8,192.8L680.4,192.4L681.5,192.0L682.2,191.7L683.2,191.4L684.0,191.1L684.7,190.8L685.6,190.2L686.3,189.6L687.0,189.0L687.6,188.6L688.2,188.4L689.4,188.1L690.6,188.3L691.3,188.4L692.4,188.8L693.2,189.0L694.2,189.3L695.2,189.6L696.0,189.9L696.6,190.2L697.8,190.7L698.4,190.9L699.5,191.4L700.2,191.9L700.8,192.5L701.3,193.2L701.8,193.8L702.4,194.4L703.2,194.8L703.8,195.0L705.0,195.4L705.6,195.7L706.3,196.2L706.9,196.8L707.4,197.6L708.0,198.6L708.4,199.2L708.7,199.8L709.2,200.5L709.8,201.5L710.2,202.2L710.6,202.8L711.0,203.4L711.6,204.1L712.2,204.7L712.8,205.3L713.4,206.1L713.8,207.0L714.1,207.6L714.4,208.8L714.5,210.0L714.6,210.6L714.8,211.8L715.2,213.0L715.4,213.6L715.7,214.8L715.9,215.4L716.2,216.6L716.4,217.2L716.9,218.4L717.2,219.0L717.6,220.0L717.9,220.8L718.2,222.0L718.1,223.2L718.0,224.4L718.0,225.6L718.2,226.8L718.3,227.4L718.5,228.6L718.5,229.8L718.3,231.0L718.2,231.6L717.9,232.8L717.8,234.0L717.7,235.2L717.7,236.4L717.9,237.6L718.0,238.8L718.2,240.0L718.2,240.6L718.3,241.8L718.3,243.0L718.2,244.2L718.2,244.8L718.0,246.0L717.9,247.2L717.9,248.4L718.0,249.6L718.1,250.8L718.1,252.0L717.9,253.2L717.7,254.4L717.6,255.1L717.4,256.2L717.0,257.4L716.8,258.0L716.4,259.2L716.3,259.8L716.1,261.0L716.0,262.2L715.9,263.4L715.8,264.6L715.8,265.2L715.8,266.4L715.8,267.6L715.8,268.2L715.9,269.4L715.9,270.6L715.8,271.8L715.8,272.4L715.7,273.6L715.6,274.8L715.6,276.0L715.6,277.2L715.5,278.4L715.3,279.6L715.1,280.2L714.8,281.4L714.6,282.2L714.4,283.2L714.2,284.4L714.2,285.6L714.3,286.8L714.4,288.0L714.4,289.2L714.3,290.4L714.1,291.6L714.0,292.4L713.8,293.4L713.7,294.6L713.8,295.8L714.0,296.7L714.3,297.6L714.6,298.4L715.0,299.4L715.2,300.0L715.6,301.2L715.8,301.9L716.2,303.0L716.4,303.8L716.7,304.8L716.8,306.0L716.7,307.2L716.4,308.4L716.2,309.0L715.8,309.8L715.2,310.7L714.7,311.4L714.2,312.0L713.6,312.6L712.9,313.2L712.2,313.6L711.6,314.0L710.6,314.4L709.8,314.6L708.6,314.9L708.0,315.0L706.8,315.2L705.6,315.4L704.4,315.5L703.8,315.6" fill="none" stroke="#e28c45" stroke-width="1.0" />
<path d="M696.6,315.6L695.4,315.7L694.2,315.7L693.0,315.8L691.8,315.8L690.6,315.8L689.4,315.8L688.2,315.8L687.0,315.8L685.8,315.8L684.6,315.8L683.4,315.8L682.2,315.7L681.0,315.7L679.8,315.6L679.2,315.6L678.0,315.5L676.8,315.4L675.6,315.3L674.4,315.1L673.4,315.0L672.6,314.9L671.4,314.6L670.4,314.4L669.6,314.1L668.9,313.8L667.9,313.2L667.2,312.6L666.7,312.0L666.2,311.4L665.8,310.8L665.4,310.2L664.8,309.1L664.5,308.4L664.2,307.2L664.2,306.6L664.2,305.4L664.2,304.8L664.5,303.6L664.8,302.7L665.2,301.8L665.5,301.2L666.0,300.1L666.3,299.4L666.6,298.7L666.9,297.6L667.1,296.4L667.2,295.2L667.2,294.0L667.1,292.8L666.9,291.6L666.8,290.4L666.7,289.2L666.6,288.4L666.5,287.4L666.4,286.2L666.3,285.0L666.1,283.8L666.1,282.6L666.1,281.4L666.2,280.2L666.3,279.0L666.4,277.8L666.4,276.6L666.3,275.4L666.3,274.2L666.2,273.0L666.3,271.8L666.5,270.6L666.6,269.9L666.8,268.8L667.0,267.6L667.1,266.4L667.2,265.7L667.3,264.6L667.3,263.4L667.4,262.2L667.4,261.0L667.5,259.8L667.7,258.6L667.8,258.0L668.0,256.8L668.2,255.6L668.3,254.4L668.3,253.2L668.4,252.0L668.4,251.1L668.5,250.2L668.8,249.0L669.0,248.4L669.4,247.2L669.6,246.6L669.9,245.4L670.0,244.2L670.1,243.0L670.2,242.1L670.4,241.2L670.8,240.0L671.0,239.4L671.4,238.4L671.6,237.6L671.9,236.4L672.0,235.8L672.2,234.6L672.6,233.5L672.9,232.8L673.2,232.1L673.8,231.1L674.2,230.4L674.5,229.8L674.8,228.6L674.8,227.4L674.7,226.2L674.6,225.0L674.6,223.8L674.6,222.6L674.7,221.4L674.7,220.2L674.8,219.0L675.0,218.1L675.3,217.2L675.6,216.6L676.2,215.7L676.8,215.2L677.4,214.7L678.0,214.1L678.5,213.0L678.7,212.4L678.9,211.2L679.0,210.0L679.2,208.8L679.4,208.2L679.8,207.3L680.4,206.5L681.0,205.8L681.5,205.2L682.1,204.6L682.6,204.0L683.1,203.4L683.6,202.8L684.0,202.2L684.6,201.5L685.2,200.9L685.9,200.4L687.0,199.9L687.6,199.7L688.8,199.5L690.0,199.6L691.2,199.5L692.4,199.3L693.0,199.2L694.2,199.0L694.9,199.2L695.8,199.8L696.3,200.4L696.7,201.0L697.2,201.6L697.8,202.5L698.4,203.2L699.0,203.9L699.6,204.6L700.2,205.2L700.8,205.7L701.4,206.2L702.0,206.6L702.7,207.0L703.5,207.6L704.1,208.2L704.6,208.8L705.0,209.4L705.6,210.3L706.2,211.0L706.8,211.6L707.4,212.0L708.0,212.4L708.8,213.0L709.5,213.6L710.0,214.2L710.5,214.8L711.0,215.4L711.6,216.4L711.9,217.2L712.1,218.4L712.0,219.6L711.8,220.8L711.8,222.0L712.2,222.9L712.7,223.8L713.0,224.4L713.4,225.2L713.7,226.2L714.0,227.4L714.1,228.0L714.1,229.2L714.1,230.4L714.0,231.0L713.7,232.2L713.6,233.4L713.5,234.6L713.6,235.8L713.7,237.0L714.0,238.2L714.1,238.8L714.4,240.0L714.6,241.2L714.7,241.8L714.7,243.0L714.7,244.2L714.6,245.4L714.6,246.0L714.5,247.2L714.3,248.4L714.2,249.6L714.0,250.5L713.7,251.4L713.3,252.0L712.8,252.7L712.2,253.6L712.0,254.4L712.1,255.6L712.3,256.2L712.6,257.4L712.8,258.6L712.8,259.8L712.8,261.0L712.8,262.2L712.8,263.4L712.7,264.6L712.7,265.8L712.7,267.0L712.8,268.2L712.8,268.8L712.8,270.0L712.8,270.6L712.6,271.8L712.4,273.0L712.3,274.2L712.3,275.4L712.3,276.6L712.4,277.8L712.4,279.0L712.3,280.2L712.2,281.1L712.1,282.0L711.9,283.2L711.8,284.4L711.7,285.6L711.7,286.8L711.7,288.0L711.7,289.2L711.6,290.4L711.5,291.0L711.3,292.2L711.0,293.3L710.9,294.0L710.8,295.2L711.0,296.4L711.2,297.0L711.6,298.2L711.9,298.8L712.2,299.5L712.7,300.6L712.9,301.2L713.3,302.4L713.4,303.1L713.6,304.2L713.7,305.4L713.7,306.6L713.6,307.8L713.4,308.5L712.9,309.6L712.6,310.2L712.2,310.8L711.6,311.6L711.0,312.3L710.4,312.9L709.8,313.3L709.0,313.8L708.0,314.2L707.4,314.4L706.2,314.7L705.0,314.9L704.4,315.0L703.2,315.2L702.0,315.3L700.8,315.4L699.6,315.5L698.4,315.5L697.2,315.6L696.6,315.6" fill="none" stroke="#e28c45" stroke-width="1.0" />
<path d="M699.0,315.0L697.8,315.1L696.6,315.2L695.4,315.3L694.2,315.3L693.0,315.4L691.8,315.4L690.6,315.4L689.4,315.5L688.2,315.5L687.0,315.4L685.8,315.4L684.6,315.4L683.4,315.4L682.2,315.3L681.0,315.3L679.8,315.2L678.6,315.1L677.8,315.0L676.8,314.9L675.6,314.7L674.4,314.5L673.8,314.4L672.6,314.0L671.9,313.8L670.8,313.3L670.2,312.9L669.6,312.5L669.0,311.9L668.4,311.2L667.8,310.4L667.4,309.6L667.1,309.0L666.8,307.8L666.8,306.6L667.0,305.4L667.2,304.4L667.4,303.6L667.8,302.4L668.0,301.8L668.4,301.0L668.8,300.0L669.0,299.3L669.3,298.2L669.5,297.0L669.6,295.8L669.6,294.6L669.4,293.4L669.2,292.2L669.1,291.0L669.0,289.8L669.0,289.8L669.0,288.6L669.2,287.4L669.3,286.2L669.3,285.0L669.2,283.8L669.1,282.6L669.0,281.6L668.9,280.8L668.9,279.6L668.9,278.4L668.8,277.2L668.9,276.0L669.0,274.8L669.1,274.2L669.3,273.0L669.6,271.9L669.7,271.2L669.8,270.0L669.8,268.8L669.8,267.6L669.9,266.4L670.1,265.2L670.2,264.0L670.3,263.4L670.4,262.2L670.6,261.0L670.8,260.0L671.0,259.2L671.3,258.0L671.5,257.4L671.6,256.2L671.8,255.0L672.0,253.9L672.1,253.2L672.2,252.0L672.3,250.8L672.5,249.6L672.8,249.0L673.2,248.2L673.8,247.2L674.1,246.6L674.4,246.0L674.9,244.8L675.0,244.2L675.3,243.0L675.5,241.8L675.6,241.2L675.9,240.0L676.2,238.8L676.3,238.2L676.6,237.0L676.8,236.2L677.0,235.2L677.4,234.0L677.6,233.4L678.0,232.4L678.4,231.6L678.7,231.0L679.2,230.1L679.8,229.4L680.4,228.9L681.0,228.5L682.2,228.1L683.0,228.0L684.0,227.6L684.6,227.0L685.1,226.2L685.2,225.6L685.2,224.7L685.1,223.8L685.2,222.8L685.5,222.0L685.9,221.4L686.4,220.8L687.0,220.2L688.2,219.6L688.8,219.6L689.4,219.7L690.5,220.2L691.2,220.7L691.8,221.1L692.5,221.4L693.1,221.4L693.8,220.8L694.2,220.2L694.8,219.4L696.0,219.1L696.6,219.6L697.2,220.8L697.3,221.4L697.7,222.6L698.0,223.2L698.4,223.8L699.0,224.6L699.6,225.4L700.2,226.1L700.6,226.8L700.7,228.0L700.8,228.7L701.4,229.6L702.0,230.0L703.0,230.4L703.8,230.9L704.4,231.6L704.7,232.2L705.0,233.2L705.2,234.0L705.5,235.2L705.8,235.8L706.2,236.7L706.6,237.6L706.8,238.2L707.2,239.4L707.4,240.4L707.6,241.2L707.9,242.4L708.1,243.0L708.4,244.2L708.7,244.8L709.1,246.0L709.3,246.6L709.6,247.8L709.6,249.0L709.4,250.2L709.2,251.0L708.9,252.0L708.6,252.9L708.3,253.8L708.0,255.0L707.9,255.6L708.0,256.3L708.4,257.4L708.8,258.0L709.2,258.7L709.7,259.8L709.9,260.4L710.1,261.6L710.1,262.8L710.0,264.0L709.8,265.2L709.7,265.8L709.7,267.0L709.7,268.2L709.8,268.8L709.9,270.0L709.9,271.2L709.8,272.4L709.8,273.0L709.7,274.2L709.6,275.4L709.6,276.6L709.5,277.8L709.5,279.0L709.5,280.2L709.4,281.4L709.3,282.6L709.2,283.3L709.0,284.4L708.9,285.6L708.9,286.8L708.8,288.0L708.8,289.2L708.7,290.4L708.7,291.6L708.6,292.2L708.5,293.4L708.5,294.6L708.6,295.8L708.7,296.4L709.0,297.6L709.2,298.2L709.6,299.4L709.8,300.1L710.2,301.2L710.4,302.0L710.7,303.0L710.9,304.2L711.0,304.8L711.1,306.0L711.1,307.2L711.0,307.8L710.6,309.0L710.3,309.6L709.8,310.5L709.2,311.4L708.7,312.0L708.0,312.6L707.4,313.1L706.8,313.4L706.1,313.8L705.0,314.2L704.1,314.4L703.2,314.6L702.0,314.7L700.8,314.9L699.6,315.0L699.0,315.0" fill="none" stroke="#e28c45" stroke-width="1.0" />
<path d="M691.8,315.0L690.6,315.0L689.4,315.1L688.2,315.1L687.0,315.0L685.8,315.0L685.2,315.0L684.0,315.0L682.8,314.9L681.6,314.8L680.4,314.7L679.2,314.6L678.0,314.4L677.4,314.3L676.2,314.1L675.2,313.8L674.4,313.5L673.8,313.2L672.8,312.6L672.0,312.0L671.4,311.4L670.8,310.8L670.4,310.2L670.0,309.6L669.6,308.5L669.5,307.8L669.6,306.6L669.7,306.0L669.9,304.8L670.1,303.6L670.2,303.0L670.6,301.8L670.8,301.2L671.2,300.0L671.5,299.4L671.8,298.2L672.0,297.6L672.3,296.4L672.4,295.2L672.3,294.0L672.0,292.8L671.9,292.2L671.7,291.0L671.6,289.8L671.6,288.6L671.7,287.4L671.8,286.2L671.9,285.0L671.8,283.8L671.6,282.6L671.4,281.6L671.3,280.8L671.2,279.6L671.2,278.4L671.3,277.2L671.4,276.0L671.5,275.4L671.7,274.2L672.0,273.3L672.2,272.4L672.4,271.2L672.4,270.0L672.3,268.8L672.2,267.6L672.4,266.4L672.6,265.3L672.7,264.6L672.9,263.4L673.2,262.2L673.4,261.6L673.8,260.5L674.1,259.8L674.4,258.9L674.6,258.0L675.0,256.8L675.2,256.2L675.6,255.2L675.9,254.4L676.2,253.4L676.4,252.6L676.5,251.4L676.7,250.2L676.8,249.6L677.2,248.4L677.5,247.8L678.0,246.7L678.4,246.0L678.9,245.4L679.5,244.8L680.1,244.2L680.6,243.6L681.0,242.4L681.1,241.8L681.5,240.6L681.8,240.0L682.3,239.4L682.9,238.8L683.6,238.2L684.3,237.6L684.8,237.0L685.3,236.4L685.8,235.3L686.0,234.6L686.4,233.4L686.8,232.8L687.6,232.4L688.8,232.7L689.3,233.4L689.6,234.0L690.0,235.0L690.5,235.8L691.2,236.3L691.8,236.4L693.0,236.5L694.2,236.8L694.8,237.2L695.4,237.7L696.0,238.4L696.6,239.3L697.0,240.0L697.4,240.6L697.9,241.2L698.7,241.8L699.6,242.3L700.2,242.7L700.8,243.1L701.4,243.8L701.9,244.8L702.1,245.4L702.4,246.6L702.6,247.5L702.9,248.4L703.2,249.1L703.7,250.2L704.0,250.8L704.4,252.0L704.5,252.6L704.6,253.8L704.6,255.0L704.4,255.8L704.2,256.8L704.0,258.0L704.2,259.2L704.5,259.8L705.0,260.4L705.6,261.2L706.1,262.2L706.3,262.8L706.5,264.0L706.7,265.2L706.8,266.0L706.9,267.0L707.1,268.2L707.2,269.4L707.4,270.6L707.4,271.2L707.5,272.4L707.5,273.6L707.4,274.8L707.3,275.4L707.0,276.6L706.8,277.4L706.5,278.4L706.4,279.6L706.4,280.8L706.5,282.0L706.5,283.2L706.4,284.4L706.3,285.6L706.2,286.5L706.1,287.4L706.1,288.6L706.2,289.8L706.2,290.4L706.3,291.6L706.3,292.8L706.3,294.0L706.4,295.2L706.6,296.4L706.8,297.2L707.1,298.2L707.4,299.3L707.6,300.0L707.9,301.2L708.0,301.8L708.3,303.0L708.5,304.2L708.6,305.4L708.6,306.0L708.6,306.6L708.5,307.8L708.1,309.0L707.9,309.6L707.4,310.5L706.8,311.3L706.2,311.9L705.6,312.4L705.0,312.8L704.1,313.2L703.2,313.6L702.4,313.8L701.4,314.0L700.2,314.2L699.2,314.4L698.4,314.5L697.2,314.6L696.0,314.7L694.8,314.8L693.6,314.9L692.4,315.0L691.8,315.0" fill="none" stroke="#e28c45" stroke-width="1.0" />
<path d="M693.0,314.4L691.8,314.5L690.6,314.5L689.4,314.6L688.2,314.6L687.0,314.5L685.8,314.5L684.6,314.4L683.6,314.4L682.8,314.4L681.6,314.2L680.4,314.1L679.2,313.9L678.6,313.7L677.4,313.4L676.8,313.2L675.6,312.6L675.0,312.1L674.4,311.6L673.8,310.9L673.3,310.2L672.9,309.6L672.6,308.8L672.4,307.8L672.3,306.6L672.3,305.4L672.3,304.2L672.5,303.0L672.6,302.4L673.1,301.2L673.3,300.6L673.8,299.7L674.3,298.8L674.6,298.2L675.0,297.4L675.3,296.4L675.5,295.2L675.4,294.0L675.1,292.8L675.0,292.2L674.6,291.0L674.4,290.2L674.2,289.2L674.1,288.0L674.1,286.8L674.2,285.6L674.2,284.4L674.1,283.2L673.9,282.0L673.8,281.4L673.7,280.2L673.8,279.3L674.0,278.4L674.2,277.2L674.4,276.2L674.5,275.4L674.7,274.2L675.0,273.0L675.1,272.4L675.3,271.2L675.5,270.0L675.4,268.8L675.3,267.6L675.3,266.4L675.3,265.2L675.4,264.0L675.6,263.0L675.9,262.2L676.2,261.4L676.8,260.4L677.1,259.8L677.4,259.2L678.0,258.0L678.3,257.4L678.6,256.6L678.9,255.6L679.2,254.8L679.5,253.8L679.8,252.9L680.2,252.0L680.6,251.4L681.0,250.8L681.6,250.2L682.4,249.6L683.1,249.0L683.6,248.4L684.1,247.8L684.6,247.1L685.2,246.5L686.0,246.0L687.0,245.9L687.6,246.0L688.5,246.6L689.2,247.2L689.9,247.8L690.6,248.2L691.2,248.5L692.4,248.5L693.0,248.4L694.2,247.9L694.8,247.5L695.7,247.2L696.6,247.1L697.2,247.3L698.0,247.8L698.6,248.4L699.0,249.1L699.5,250.2L699.6,250.8L700.1,252.0L700.3,252.6L700.8,253.5L701.1,254.4L701.2,255.6L701.0,256.8L700.8,257.8L700.7,258.6L700.8,259.8L701.0,260.4L701.4,261.3L702.0,262.0L702.6,262.8L703.0,263.4L703.4,264.0L703.8,265.2L704.0,265.8L704.2,267.0L704.3,268.2L704.4,269.4L704.4,270.6L704.4,271.8L704.4,272.4L704.5,273.6L704.4,274.7L704.1,275.4L703.8,276.1L703.3,277.2L703.1,277.8L703.2,278.9L703.4,279.6L703.8,280.8L704.0,281.4L704.3,282.6L704.3,283.8L704.2,285.0L704.0,286.2L703.8,287.0L703.6,288.0L703.6,289.2L703.7,290.4L703.8,291.4L703.9,292.2L703.9,293.4L703.8,294.6L703.9,295.8L704.1,297.0L704.4,297.9L704.8,298.8L705.0,299.4L705.4,300.6L705.6,301.2L705.9,302.4L706.1,303.6L706.2,304.6L706.2,305.4L706.2,306.6L706.2,307.2L706.0,308.4L705.6,309.4L705.1,310.2L704.5,310.8L703.8,311.4L703.2,311.8L702.6,312.1L701.6,312.6L700.8,312.9L700.1,313.2L699.0,313.5L697.8,313.8L697.2,313.9L696.0,314.1L694.8,314.3L693.6,314.4L693.0,314.4" fill="none" stroke="#e28c45" stroke-width="1.0" />
<path d="M691.8,313.8L690.6,313.9L689.4,314.0L688.2,314.0L687.0,313.9L685.8,313.8L685.2,313.8L684.0,313.7L682.8,313.6L681.6,313.4L680.6,313.2L679.8,313.0L678.8,312.6L678.0,312.2L677.4,311.9L676.7,311.4L676.0,310.8L675.5,310.2L675.0,309.3L674.6,308.4L674.4,307.5L674.3,306.6L674.2,305.4L674.3,304.2L674.4,303.1L674.6,302.4L675.0,301.5L675.5,300.6L675.8,300.0L676.2,299.4L676.8,298.2L677.0,297.6L677.4,296.4L677.5,295.8L677.7,294.6L677.7,293.4L677.4,292.2L677.3,291.6L677.0,290.4L676.8,289.3L676.7,288.6L676.6,287.4L676.6,286.2L676.6,285.0L676.6,283.8L676.4,282.6L676.3,281.4L676.4,280.2L676.5,279.0L676.7,277.8L676.8,277.0L677.0,276.0L677.3,274.8L677.5,274.2L677.9,273.0L678.0,272.4L678.2,271.2L678.3,270.0L678.3,268.8L678.2,267.6L678.1,266.4L678.0,265.2L678.2,264.0L678.6,263.1L679.2,262.3L679.8,261.6L680.3,261.0L680.7,260.4L681.1,259.8L681.6,258.7L681.9,258.0L682.2,257.1L682.5,256.2L682.8,255.5L683.4,254.4L683.9,253.8L684.6,253.2L685.2,252.8L685.8,252.4L687.0,252.1L688.2,252.1L689.4,252.3L690.6,252.5L691.2,252.7L692.4,252.8L693.6,253.2L694.1,253.8L694.4,254.4L694.6,255.6L694.8,256.2L695.4,257.0L696.0,257.5L696.6,258.0L697.2,258.8L697.8,259.8L698.0,260.4L698.4,261.1L698.9,262.2L699.3,262.8L699.7,263.4L700.2,264.2L700.8,265.2L701.0,265.8L701.3,267.0L701.2,268.2L700.9,269.4L700.7,270.0L700.4,271.2L700.3,272.4L700.4,273.6L700.5,274.8L700.6,276.0L700.8,277.2L700.9,277.8L701.1,279.0L701.4,280.2L701.6,280.8L702.0,282.0L702.1,282.6L702.3,283.8L702.2,285.0L702.0,286.0L701.8,286.8L701.6,288.0L701.5,289.2L701.5,290.4L701.5,291.6L701.4,292.8L701.4,293.4L701.2,294.6L701.1,295.8L701.1,297.0L701.3,298.2L701.4,298.9L701.8,300.0L702.0,300.6L702.6,301.7L703.0,302.4L703.3,303.0L703.7,304.2L703.8,305.0L703.9,306.0L703.8,307.2L703.7,307.8L703.2,309.0L702.7,309.6L702.1,310.2L701.4,310.8L700.8,311.2L700.2,311.5L699.3,312.0L698.4,312.4L697.8,312.6L696.6,313.0L695.8,313.2L694.8,313.4L693.6,313.6L692.4,313.8L691.8,313.8" fill="none" stroke="#e28c45" stroke-width="1.0" />
<path d="M693.0,312.6L691.8,312.9L690.6,313.0L689.4,313.1L688.2,313.1L687.0,313.0L685.8,312.8L684.6,312.6L684.0,312.6L682.8,312.4L681.6,312.2L681.0,312.0L679.8,311.4L679.2,311.0L678.6,310.6L678.0,310.2L677.4,309.6L676.8,308.8L676.3,307.8L676.1,307.2L676.0,306.0L676.0,304.8L676.1,303.6L676.3,303.0L676.8,301.9L677.2,301.2L677.6,300.6L678.0,299.8L678.5,298.8L678.8,298.2L679.2,297.1L679.5,296.4L679.8,295.4L680.1,294.6L680.2,293.4L680.0,292.2L679.8,291.5L679.5,290.4L679.2,289.3L679.1,288.6L679.0,287.4L679.0,286.2L678.9,285.0L678.9,283.8L678.9,282.6L678.9,281.4L679.0,280.2L679.0,279.0L678.9,277.8L679.0,276.6L679.2,275.7L679.5,274.8L679.8,274.0L680.1,273.0L680.3,271.8L680.4,270.6L680.4,269.9L680.5,268.8L680.6,267.6L681.0,266.4L681.4,265.8L682.2,265.3L682.8,265.1L683.8,264.6L684.5,264.0L685.0,263.4L685.4,262.8L685.8,262.2L686.4,261.2L687.0,260.6L687.6,260.2L688.8,259.9L690.0,260.0L691.2,260.3L691.8,260.5L693.0,260.9L693.6,261.1L694.8,261.5L695.4,261.8L696.0,262.2L696.6,262.9L697.2,263.8L697.7,264.6L698.0,265.2L698.4,266.0L698.7,267.0L698.7,268.2L698.5,269.4L698.4,270.0L698.0,271.2L697.8,272.4L697.9,273.6L698.2,274.8L698.4,275.4L698.8,276.6L699.0,277.2L699.3,278.4L699.4,279.6L699.5,280.8L699.5,282.0L699.6,282.7L699.8,283.8L699.9,285.0L699.8,286.2L699.6,287.2L699.4,288.0L699.3,289.2L699.3,290.4L699.3,291.6L699.1,292.8L699.0,293.6L698.8,294.6L698.8,295.8L698.9,297.0L699.0,297.9L699.2,298.8L699.5,300.0L699.6,300.7L699.9,301.8L700.2,303.0L700.5,303.6L700.8,304.4L701.2,305.4L701.4,306.0L701.4,307.2L701.3,307.8L700.8,308.8L700.2,309.5L699.6,310.0L699.0,310.5L698.4,310.8L697.3,311.4L696.6,311.7L695.6,312.0L694.8,312.2L693.6,312.5L693.0,312.6" fill="none" stroke="#e28c45" stroke-width="1.0" />
<path d="M692.4,311.5L691.2,311.7L690.0,311.9L688.8,312.0L687.6,311.9L686.4,311.7L685.2,311.4L684.6,311.3L683.4,311.1L682.5,310.8L681.6,310.4L681.0,309.9L680.4,309.4L679.8,308.9L679.2,308.4L678.6,307.7L678.0,306.6L677.9,306.0L677.9,304.8L678.0,304.1L678.4,303.0L678.7,302.4L679.2,301.4L679.6,300.6L680.0,300.0L680.4,299.1L680.9,298.2L681.2,297.6L681.6,297.0L682.2,295.9L682.5,295.2L682.8,294.2L682.9,293.4L682.8,292.7L682.6,291.6L682.4,290.4L682.2,289.2L682.1,288.6L681.8,287.4L681.6,286.8L681.4,285.6L681.3,284.4L681.4,283.2L681.5,282.0L681.6,280.8L681.5,279.6L681.3,278.4L681.1,277.2L681.2,276.0L681.6,274.8L681.8,274.2L682.1,273.0L682.2,272.4L682.3,271.2L682.5,270.0L682.8,269.0L683.3,268.2L683.9,267.6L684.6,267.1L685.2,266.8L685.9,266.4L686.9,265.8L687.6,265.4L688.2,265.2L689.4,264.8L690.6,264.7L691.8,264.7L693.0,264.8L694.2,265.2L694.8,265.7L695.3,266.4L695.6,267.0L695.8,268.2L695.4,269.4L695.1,270.0L694.8,271.1L694.8,271.3L695.0,272.4L695.4,273.4L695.7,274.2L696.0,274.8L696.6,275.9L696.9,276.6L697.2,277.4L697.4,278.4L697.4,279.6L697.2,280.3L696.7,281.4L696.5,282.0L696.1,283.2L695.9,283.8L695.8,285.0L695.7,286.2L695.7,287.4L695.7,288.6L695.9,289.8L696.0,290.9L696.0,291.2L695.8,292.2L695.4,293.3L695.1,294.0L695.1,295.2L695.4,295.9L696.0,296.7L696.6,297.4L697.1,298.2L697.4,298.8L697.8,299.9L698.0,300.6L698.2,301.8L698.3,303.0L698.4,303.8L698.7,304.8L699.0,305.9L699.2,306.6L699.1,307.8L698.8,308.4L698.4,309.0L697.7,309.6L696.8,310.2L696.0,310.6L695.3,310.8L694.2,311.1L693.0,311.4L692.4,311.5" fill="none" stroke="#e28c45" stroke-width="1.0" />
<path d="M692.4,310.2L691.2,310.4L690.0,310.5L688.8,310.6L687.6,310.5L686.4,310.3L685.6,310.2L684.6,310.0L683.5,309.6L682.8,309.2L682.2,308.6L681.6,308.0L681.0,307.2L680.5,306.6L680.2,306.0L680.0,304.8L680.2,303.6L680.4,303.0L681.0,301.8L681.3,301.2L681.7,300.6L682.2,299.8L682.8,298.9L683.3,298.2L683.9,297.6L684.4,297.0L684.9,296.4L685.4,295.8L685.8,295.0L686.0,294.0L685.8,293.4L685.3,292.2L685.1,291.6L684.9,290.4L685.0,289.2L685.2,288.0L685.2,287.4L685.2,286.6L684.9,285.6L684.5,285.0L684.0,283.8L683.9,283.2L683.7,282.0L683.6,280.8L683.6,279.6L683.6,278.4L683.7,277.2L683.9,276.0L684.1,275.4L684.5,274.2L684.8,273.6L685.2,272.8L685.8,272.0L686.4,271.5L687.0,271.0L687.6,270.6L688.6,270.0L689.4,269.8L690.0,270.0L690.6,270.6L691.2,271.2L691.8,271.9L692.4,272.6L693.0,273.4L693.6,274.2L693.9,274.8L694.2,275.5L694.5,276.6L694.5,277.8L694.4,279.0L694.3,280.2L694.2,281.1L694.0,282.0L693.6,283.2L693.4,283.8L693.0,284.8L692.7,285.6L692.4,286.5L692.3,287.4L692.3,288.6L692.4,289.8L692.3,291.0L691.9,292.2L691.7,292.8L691.3,294.0L691.4,295.2L691.8,295.9L692.4,296.6L693.0,297.1L693.7,297.6L694.5,298.2L695.3,298.8L695.8,299.4L696.2,300.0L696.6,301.2L696.7,301.8L696.8,303.0L696.9,304.2L697.1,305.4L697.3,306.0L697.4,307.2L697.2,308.0L696.6,308.8L696.0,309.2L695.3,309.6L694.2,309.9L693.0,310.2L692.4,310.2" fill="none" stroke="#e28c45" stroke-width="1.0" />
<path d="M689.4,284.5L688.7,284.4L687.6,283.9L687.0,283.5L686.4,282.9L685.8,282.0L685.7,281.4L685.7,280.2L685.9,279.6L686.4,278.9L687.0,278.0L687.3,277.2L687.5,276.0L687.7,275.4L688.2,274.4L688.8,273.8L689.4,273.6L690.6,273.6L691.2,273.9L691.8,274.4L692.4,275.4L692.5,276.0L692.5,277.2L692.4,277.8L692.2,279.0L692.2,280.2L692.1,281.4L691.8,282.5L691.4,283.2L690.8,283.8L690.0,284.3L689.4,284.5" fill="none" stroke="#e28c45" stroke-width="1.0" />
<path d="M693.0,309.1L691.8,309.1L690.6,309.1L689.4,309.1L688.2,309.1L687.0,309.1L685.9,309.0L685.2,308.8L684.1,308.4L683.4,307.8L682.9,307.2L682.5,306.6L682.2,306.0L681.9,304.8L682.1,303.6L682.4,303.0L682.8,302.4L683.4,301.6L684.0,300.8L684.6,300.1L685.2,299.4L685.8,298.9L686.4,298.5L687.6,298.4L688.8,298.7L689.4,299.0L690.6,299.4L691.2,299.5L692.4,299.6L693.6,299.9L694.2,300.3L694.8,301.0L695.1,301.8L695.4,303.0L695.5,303.6L695.7,304.8L696.0,306.0L696.0,306.6L696.0,307.2L695.4,308.2L694.8,308.6L693.6,309.0L693.0,309.1" fill="none" stroke="#e28c45" stroke-width="1.0" />
<path d="M693.6,307.9L692.4,308.0L691.2,307.8L690.6,307.8L689.4,307.6L688.2,307.7L687.0,307.7L685.8,307.6L684.8,307.2L684.2,306.6L683.9,306.0L683.8,304.8L684.1,304.2L684.6,303.6L685.3,303.0L686.1,302.4L687.0,301.8L687.6,301.6L688.8,301.8L689.4,301.9L690.6,302.1L691.8,302.1L693.0,302.3L693.6,302.8L694.0,303.6L694.3,304.2L694.6,305.4L694.8,306.6L694.2,307.5L693.6,307.9" fill="none" stroke="#e28c45" stroke-width="1.0" />
<path d="M687.0,306.0L686.4,305.8L686.4,304.9L687.0,304.4L687.6,304.1L688.8,304.2L689.4,304.6L689.4,305.2L688.8,305.6L687.6,306.0L687.0,306.0" fill="none" stroke="#e28c45" stroke-width="1.0" />
<path d="M693.0,306.1L691.8,306.1L691.2,305.4L692.4,304.9L693.0,305.7L693.0,306.1" fill="none" stroke="#e28c45" stroke-width="1.0" />
<path d="M688.2,305.6L687.0,305.7L686.8,304.8L687.6,304.4L688.8,304.6L688.8,305.2L688.2,305.6" fill="none" stroke="#e28c45" stroke-width="1.0" />
<path d="M692.4,306.0L692.2,305.4L692.5,305.4L692.4,306.0" fill="none" stroke="#e28c45" stroke-width="1.0" />
<path d="M688.2,305.6L687.0,305.7L686.8,304.8L687.6,304.4L688.8,304.6L688.8,305.2L688.2,305.6" fill="none" stroke="#e28c45" stroke-width="1.0" />
<path d="M692.4,306.0L692.2,305.4L692.5,305.4L692.4,306.0" fill="none" stroke="#e28c45" stroke-width="1.0" />
<ellipse cx="689" cy="260" rx="2.6" ry="10" fill="#fff"/>
<line x1="431.2" y1="433.3" x2="439.2" y2="433.3" stroke="#000" stroke-width="2.0" />
<line x1="435.2" y1="416.23" x2="439.2" y2="416.23" stroke="#000" stroke-width="1.2800000000000002" />
<line x1="435.2" y1="406.25" x2="439.2" y2="406.25" stroke="#000" stroke-width="1.2800000000000002" />
<line x1="435.2" y1="399.16" x2="439.2" y2="399.16" stroke="#000" stroke-width="1.2800000000000002" />
<line x1="434.2" y1="393.67" x2="439.2" y2="393.67" stroke="#000" stroke-width="1.2800000000000002" />
<line x1="435.2" y1="389.18" x2="439.2" y2="389.18" stroke="#000" stroke-width="1.2800000000000002" />
<line x1="435.2" y1="385.38" x2="439.2" y2="385.38" stroke="#000" stroke-width="1.2800000000000002" />
<line x1="435.2" y1="382.09" x2="439.2" y2="382.09" stroke="#000" stroke-width="1.2800000000000002" />
<line x1="435.2" y1="379.19" x2="439.2" y2="379.19" stroke="#000" stroke-width="1.2800000000000002" />
<line x1="431.2" y1="376.6" x2="439.2" y2="376.6" stroke="#000" stroke-width="2.0" />
<line x1="435.2" y1="359.53" x2="439.2" y2="359.53" stroke="#000" stroke-width="1.2800000000000002" />
<line x1="435.2" y1="349.55" x2="439.2" y2="349.55" stroke="#000" stroke-width="1.2800000000000002" />
<line x1="435.2" y1="342.46" x2="439.2" y2="342.46" stroke="#000" stroke-width="1.2800000000000002" />
<line x1="434.2" y1="336.97" x2="439.2" y2="336.97" stroke="#000" stroke-width="1.2800000000000002" />
<line x1="435.2" y1="332.48" x2="439.2" y2="332.48" stroke="#000" stroke-width="1.2800000000000002" />
<line x1="435.2" y1="328.68" x2="439.2" y2="328.68" stroke="#000" stroke-width="1.2800000000000002" />
<line x1="435.2" y1="325.39" x2="439.2" y2="325.39" stroke="#000" stroke-width="1.2800000000000002" />
<line x1="435.2" y1="322.49" x2="439.2" y2="322.49" stroke="#000" stroke-width="1.2800000000000002" />
<line x1="431.2" y1="319.9" x2="439.2" y2="319.9" stroke="#000" stroke-width="2.0" />
<line x1="435.2" y1="302.83" x2="439.2" y2="302.83" stroke="#000" stroke-width="1.2800000000000002" />
<line x1="435.2" y1="292.85" x2="439.2" y2="292.85" stroke="#000" stroke-width="1.2800000000000002" />
<line x1="435.2" y1="285.76" x2="439.2" y2="285.76" stroke="#000" stroke-width="1.2800000000000002" />
<line x1="434.2" y1="280.27" x2="439.2" y2="280.27" stroke="#000" stroke-width="1.2800000000000002" />
<line x1="435.2" y1="275.78" x2="439.2" y2="275.78" stroke="#000" stroke-width="1.2800000000000002" />
<line x1="435.2" y1="271.98" x2="439.2" y2="271.98" stroke="#000" stroke-width="1.2800000000000002" />
<line x1="435.2" y1="268.69" x2="439.2" y2="268.69" stroke="#000" stroke-width="1.2800000000000002" />
<line x1="435.2" y1="265.79" x2="439.2" y2="265.79" stroke="#000" stroke-width="1.2800000000000002" />
<line x1="431.2" y1="263.2" x2="439.2" y2="263.2" stroke="#000" stroke-width="2.0" />
<line x1="435.2" y1="246.13" x2="439.2" y2="246.13" stroke="#000" stroke-width="1.2800000000000002" />
<line x1="435.2" y1="236.15" x2="439.2" y2="236.15" stroke="#000" stroke-width="1.2800000000000002" />
<line x1="435.2" y1="229.06" x2="439.2" y2="229.06" stroke="#000" stroke-width="1.2800000000000002" />
<line x1="434.2" y1="223.57" x2="439.2" y2="223.57" stroke="#000" stroke-width="1.2800000000000002" />
<line x1="435.2" y1="219.08" x2="439.2" y2="219.08" stroke="#000" stroke-width="1.2800000000000002" />
<line x1="435.2" y1="215.28" x2="439.2" y2="215.28" stroke="#000" stroke-width="1.2800000000000002" />
<line x1="435.2" y1="211.99" x2="439.2" y2="211.99" stroke="#000" stroke-width="1.2800000000000002" />
<line x1="435.2" y1="209.09" x2="439.2" y2="209.09" stroke="#000" stroke-width="1.2800000000000002" />
<line x1="431.2" y1="206.5" x2="439.2" y2="206.5" stroke="#000" stroke-width="2.0" />
<line x1="435.2" y1="189.43" x2="439.2" y2="189.43" stroke="#000" stroke-width="1.2800000000000002" />
<line x1="435.2" y1="179.45" x2="439.2" y2="179.45" stroke="#000" stroke-width="1.2800000000000002" />
<line x1="435.2" y1="172.36" x2="439.2" y2="172.36" stroke="#000" stroke-width="1.2800000000000002" />
<line x1="434.2" y1="166.87" x2="439.2" y2="166.87" stroke="#000" stroke-width="1.2800000000000002" />
<line x1="435.2" y1="162.38" x2="439.2" y2="162.38" stroke="#000" stroke-width="1.2800000000000002" />
<line x1="435.2" y1="158.58" x2="439.2" y2="158.58" stroke="#000" stroke-width="1.2800000000000002" />
<line x1="435.2" y1="155.29" x2="439.2" y2="155.29" stroke="#000" stroke-width="1.2800000000000002" />
<line x1="435.2" y1="152.39" x2="439.2" y2="152.39" stroke="#000" stroke-width="1.2800000000000002" />
<line x1="431.2" y1="149.8" x2="439.2" y2="149.8" stroke="#000" stroke-width="2.0" />
<line x1="435.2" y1="132.73" x2="439.2" y2="132.73" stroke="#000" stroke-width="1.2800000000000002" />
<line x1="439.5" y1="434.6" x2="439.5" y2="442.6" stroke="#000" stroke-width="2.0" />
<line x1="456.51" y1="434.6" x2="456.51" y2="438.6" stroke="#000" stroke-width="1.2800000000000002" />
<line x1="466.46" y1="434.6" x2="466.46" y2="438.6" stroke="#000" stroke-width="1.2800000000000002" />
<line x1="473.52" y1="434.6" x2="473.52" y2="438.6" stroke="#000" stroke-width="1.2800000000000002" />
<line x1="478.99" y1="434.6" x2="478.99" y2="439.6" stroke="#000" stroke-width="1.2800000000000002" />
<line x1="483.47" y1="434.6" x2="483.47" y2="438.6" stroke="#000" stroke-width="1.2800000000000002" />
<line x1="487.25" y1="434.6" x2="487.25" y2="438.6" stroke="#000" stroke-width="1.2800000000000002" />
<line x1="490.52" y1="434.6" x2="490.52" y2="438.6" stroke="#000" stroke-width="1.2800000000000002" />
<line x1="493.41" y1="434.6" x2="493.41" y2="438.6" stroke="#000" stroke-width="1.2800000000000002" />
<line x1="496" y1="434.6" x2="496" y2="442.6" stroke="#000" stroke-width="2.0" />
<line x1="513.01" y1="434.6" x2="513.01" y2="438.6" stroke="#000" stroke-width="1.2800000000000002" />
<line x1="522.96" y1="434.6" x2="522.96" y2="438.6" stroke="#000" stroke-width="1.2800000000000002" />
<line x1="530.02" y1="434.6" x2="530.02" y2="438.6" stroke="#000" stroke-width="1.2800000000000002" />
<line x1="535.49" y1="434.6" x2="535.49" y2="439.6" stroke="#000" stroke-width="1.2800000000000002" />
<line x1="539.97" y1="434.6" x2="539.97" y2="438.6" stroke="#000" stroke-width="1.2800000000000002" />
<line x1="543.75" y1="434.6" x2="543.75" y2="438.6" stroke="#000" stroke-width="1.2800000000000002" />
<line x1="547.02" y1="434.6" x2="547.02" y2="438.6" stroke="#000" stroke-width="1.2800000000000002" />
<line x1="549.91" y1="434.6" x2="549.91" y2="438.6" stroke="#000" stroke-width="1.2800000000000002" />
<line x1="552.5" y1="434.6" x2="552.5" y2="442.6" stroke="#000" stroke-width="2.0" />
<line x1="569.51" y1="434.6" x2="569.51" y2="438.6" stroke="#000" stroke-width="1.2800000000000002" />
<line x1="579.46" y1="434.6" x2="579.46" y2="438.6" stroke="#000" stroke-width="1.2800000000000002" />
<line x1="586.52" y1="434.6" x2="586.52" y2="438.6" stroke="#000" stroke-width="1.2800000000000002" />
<line x1="591.99" y1="434.6" x2="591.99" y2="439.6" stroke="#000" stroke-width="1.2800000000000002" />
<line x1="596.47" y1="434.6" x2="596.47" y2="438.6" stroke="#000" stroke-width="1.2800000000000002" />
<line x1="600.25" y1="434.6" x2="600.25" y2="438.6" stroke="#000" stroke-width="1.2800000000000002" />
<line x1="603.52" y1="434.6" x2="603.52" y2="438.6" stroke="#000" stroke-width="1.2800000000000002" />
<line x1="606.41" y1="434.6" x2="606.41" y2="438.6" stroke="#000" stroke-width="1.2800000000000002" />
<line x1="609" y1="434.6" x2="609" y2="442.6" stroke="#000" stroke-width="2.0" />
<line x1="626.01" y1="434.6" x2="626.01" y2="438.6" stroke="#000" stroke-width="1.2800000000000002" />
<line x1="635.96" y1="434.6" x2="635.96" y2="438.6" stroke="#000" stroke-width="1.2800000000000002" />
<line x1="643.02" y1="434.6" x2="643.02" y2="438.6" stroke="#000" stroke-width="1.2800000000000002" />
<line x1="648.49" y1="434.6" x2="648.49" y2="439.6" stroke="#000" stroke-width="1.2800000000000002" />
<line x1="652.97" y1="434.6" x2="652.97" y2="438.6" stroke="#000" stroke-width="1.2800000000000002" />
<line x1="656.75" y1="434.6" x2="656.75" y2="438.6" stroke="#000" stroke-width="1.2800000000000002" />
<line x1="660.02" y1="434.6" x2="660.02" y2="438.6" stroke="#000" stroke-width="1.2800000000000002" />
<line x1="662.91" y1="434.6" x2="662.91" y2="438.6" stroke="#000" stroke-width="1.2800000000000002" />
<line x1="665.5" y1="434.6" x2="665.5" y2="442.6" stroke="#000" stroke-width="2.0" />
<line x1="682.51" y1="434.6" x2="682.51" y2="438.6" stroke="#000" stroke-width="1.2800000000000002" />
<line x1="692.46" y1="434.6" x2="692.46" y2="438.6" stroke="#000" stroke-width="1.2800000000000002" />
<line x1="699.52" y1="434.6" x2="699.52" y2="438.6" stroke="#000" stroke-width="1.2800000000000002" />
<line x1="704.99" y1="434.6" x2="704.99" y2="439.6" stroke="#000" stroke-width="1.2800000000000002" />
<line x1="709.47" y1="434.6" x2="709.47" y2="438.6" stroke="#000" stroke-width="1.2800000000000002" />
<line x1="713.25" y1="434.6" x2="713.25" y2="438.6" stroke="#000" stroke-width="1.2800000000000002" />
<line x1="716.52" y1="434.6" x2="716.52" y2="438.6" stroke="#000" stroke-width="1.2800000000000002" />
<line x1="719.41" y1="434.6" x2="719.41" y2="438.6" stroke="#000" stroke-width="1.2800000000000002" />
<line x1="722" y1="434.6" x2="722" y2="442.6" stroke="#000" stroke-width="2.0" />
<line x1="739.01" y1="434.6" x2="739.01" y2="438.6" stroke="#000" stroke-width="1.2800000000000002" />
<rect x="439.2" y="126.8" width="308.3" height="307.8" fill="none" stroke="#222" stroke-width="1.6" />
<line x1="579.3" y1="126.8" x2="579.3" y2="434.6" stroke="#000" stroke-width="2.2" />
<line x1="439.2" y1="317.8" x2="747.5" y2="317.8" stroke="#000" stroke-width="2.4" />
<text x="444.5" y="153.5" font-size="16.5" fill="#222" >30,3</text>
<text x="723.5" y="153.5" font-size="16.5" text-anchor="end" fill="#222" >69,7</text>
<text x="445" y="419" font-size="16.5" fill="#222" >0</text>
<text x="735.5" y="419" font-size="16.5" text-anchor="end" fill="#222" >0</text>
<line x1="897" y1="16.1" x2="897" y2="440" stroke="#000" stroke-width="2" />
<line x1="889" y1="440" x2="897" y2="440" stroke="#000" stroke-width="2" />
<text x="885" y="447.67" font-size="21.3" text-anchor="end" >0</text>
<line x1="889" y1="334" x2="897" y2="334" stroke="#000" stroke-width="2" />
<text x="885" y="341.67" font-size="21.3" text-anchor="end" >25</text>
<line x1="889" y1="228" x2="897" y2="228" stroke="#000" stroke-width="2" />
<text x="885" y="235.67" font-size="21.3" text-anchor="end" >50</text>
<line x1="889" y1="122" x2="897" y2="122" stroke="#000" stroke-width="2" />
<text x="885" y="129.67" font-size="21.3" text-anchor="end" >75</text>
<line x1="889" y1="16" x2="897" y2="16" stroke="#000" stroke-width="2" />
<text x="885" y="23.67" font-size="21.3" text-anchor="end" >100</text>
<rect x="926" y="138.2" width="36.7" height="301.8" fill="#fff" stroke="#000" stroke-width="1.85" />
<rect x="982.8" y="152" width="35.9" height="288" fill="#fde1c3" stroke="#000" stroke-width="1.85" />
<line x1="944.3" y1="124" x2="944.3" y2="151" stroke="#000" stroke-width="2" />
<line x1="935.3" y1="124" x2="953.3" y2="124" stroke="#000" stroke-width="2" />
<line x1="935.3" y1="151" x2="953.3" y2="151" stroke="#000" stroke-width="2" />
<circle cx="944.3" cy="111.8" r="6.3" fill="#000" />
<circle cx="944.3" cy="144" r="6.3" fill="#000" />
<circle cx="944.3" cy="157.4" r="6.3" fill="#000" />
<circle cx="1000.5" cy="140.6" r="6.3" fill="#ff6000" />
<circle cx="992" cy="156.7" r="6.3" fill="#ff6000" />
<circle cx="1009.3" cy="156.2" r="6.3" fill="#ff6000" />
<line x1="1000.5" y1="145.6" x2="1000.5" y2="157.4" stroke="#000" stroke-width="2" />
<line x1="991.5" y1="145.6" x2="1009.5" y2="145.6" stroke="#000" stroke-width="2" />
<line x1="991.5" y1="157.4" x2="1009.5" y2="157.4" stroke="#000" stroke-width="2" />
<line x1="925.6" y1="450.1" x2="1018.7" y2="450.1" stroke="#000" stroke-width="1.6" />
<text x="972" y="477.3" font-size="21.5" text-anchor="middle" >Zy/op</text>
<rect x="909.1" y="16.5" width="28.4" height="10" fill="#fff" stroke="#000" stroke-width="1.8" />
<rect x="909.1" y="41.8" width="28.4" height="12" fill="#fde1c3" stroke="#000" stroke-width="1.8" />
<text x="956.3" y="30" font-size="21" ><tspan font-style="italic">Pkm2</tspan><tspan dy="-9.24" font-size="15.54">fl/fl</tspan></text>
<text x="956.3" y="57.6" font-size="21" ><tspan font-style="italic">Pkm2</tspan><tspan dy="-9.66" font-size="14.49" letter-spacing="1.26">&#916;<tspan font-style="italic">Lyz2</tspan></tspan></text>
<text transform="translate(808,227) rotate(-90)" font-size="23.3" text-anchor="middle" >% of positive neutrophils</text>
<text transform="translate(838.5,227) rotate(-90)" font-size="23.3" text-anchor="middle" >(in Ly6G positive and viable cells)</text>
<line x1="1719.8" y1="15.7" x2="1719.8" y2="441.3" stroke="#000" stroke-width="2" />
<line x1="1711.8" y1="441.3" x2="1719.8" y2="441.3" stroke="#000" stroke-width="2" />
<text x="1707.8" y="448.97" font-size="21.3" text-anchor="end" >0</text>
<line x1="1711.8" y1="334.9" x2="1719.8" y2="334.9" stroke="#000" stroke-width="2" />
<text x="1707.8" y="342.57" font-size="21.3" text-anchor="end" >2000</text>
<line x1="1711.8" y1="228.5" x2="1719.8" y2="228.5" stroke="#000" stroke-width="2" />
<text x="1707.8" y="236.17" font-size="21.3" text-anchor="end" >4000</text>
<line x1="1711.8" y1="122.1" x2="1719.8" y2="122.1" stroke="#000" stroke-width="2" />
<text x="1707.8" y="129.77" font-size="21.3" text-anchor="end" >6000</text>
<line x1="1711.8" y1="15.7" x2="1719.8" y2="15.7" stroke="#000" stroke-width="2" />
<text x="1707.8" y="23.37" font-size="21.3" text-anchor="end" >8000</text>
<rect x="1749.4" y="105.2" width="36.7" height="336.1" fill="#fff" stroke="#000" stroke-width="1.85" />
<rect x="1806.2" y="104.5" width="36.8" height="336.8" fill="#fde1c3" stroke="#000" stroke-width="1.85" />
<circle cx="1768.2" cy="85.9" r="6.3" fill="#000" />
<circle cx="1759" cy="114.9" r="6.3" fill="#000" />
<circle cx="1777.2" cy="111.3" r="6.3" fill="#000" />
<line x1="1767.8" y1="95.1" x2="1767.8" y2="112.5" stroke="#000" stroke-width="2" />
<line x1="1758.8" y1="95.1" x2="1776.8" y2="95.1" stroke="#000" stroke-width="2" />
<line x1="1758.8" y1="112.5" x2="1776.8" y2="112.5" stroke="#000" stroke-width="2" />
<circle cx="1824.4" cy="93.2" r="6.3" fill="#ff6000" />
<circle cx="1824.4" cy="104" r="6.3" fill="#ff6000" />
<circle cx="1824.4" cy="113.7" r="6.3" fill="#ff6000" />
<line x1="1824.4" y1="98" x2="1824.4" y2="110.8" stroke="#000" stroke-width="2" />
<line x1="1815.4" y1="98" x2="1833.4" y2="98" stroke="#000" stroke-width="2" />
<line x1="1815.4" y1="110.8" x2="1833.4" y2="110.8" stroke="#000" stroke-width="2" />
<line x1="1749" y1="455" x2="1843" y2="455" stroke="#000" stroke-width="1.6" />
<text x="1796" y="482" font-size="21.5" text-anchor="middle" >Zy/op</text>
<rect x="1732.5" y="16.5" width="28.2" height="10" fill="#fff" stroke="#000" stroke-width="1.8" />
<rect x="1732.5" y="42.4" width="28.2" height="12" fill="#fde1c3" stroke="#000" stroke-width="1.8" />
<text x="1780.3" y="30.5" font-size="21" ><tspan font-style="italic">Pkm2</tspan><tspan dy="-9.24" font-size="15.54">fl/fl</tspan></text>
<text x="1780.3" y="58.2" font-size="21" ><tspan font-style="italic">Pkm2</tspan><tspan dy="-9.66" font-size="14.49" letter-spacing="1.26">&#916;<tspan font-style="italic">Lyz2</tspan></tspan></text>
<text transform="translate(1614.5,229) rotate(-90)" font-size="23.3" text-anchor="middle" >MFI per phagocytic neutrophil</text>
<text transform="translate(1644,229) rotate(-90)" font-size="23.3" text-anchor="middle" >(in Ly6G positive and viable cells)</text>
<path d="M1236.0,334.2 L1330.0,334.2 L1345.0,333.5 L1360.0,332.5 L1375.0,333.0 L1393.0,332.5 L1410.0,331.2 L1420.0,329.5 L1433.5,324.7 L1441.0,321.5 L1445.0,319.5 L1449.0,313.0 L1452.0,305.0 L1455.0,292.0 L1457.5,275.0 L1460.0,250.0 L1462.0,225.0 L1464.0,210.0 L1466.0,203.5 L1469.0,201.5 L1472.0,188.0 L1475.0,170.0 L1478.0,155.0 L1480.5,148.0 L1483.0,145.0 L1485.5,148.0 L1488.0,160.0 L1491.0,180.0 L1493.5,187.0 L1495.0,189.0 L1497.0,200.0 L1499.0,212.0 L1502.6,236.0 L1506.0,262.0 L1508.0,275.0 L1511.0,285.0 L1514.0,296.0 L1518.0,308.0 L1521.0,314.3 L1526.0,321.0 L1532.5,328.0 L1538.3,331.6 L1546.4,331.6 L1546.4,334.2 Z" fill="#cbcbcb" stroke="none" stroke-width="0" />
<path d="M1236.0,334.2 L1330.0,334.2 L1345.0,333.5 L1360.0,332.5 L1375.0,333.0 L1393.0,332.5 L1410.0,331.2 L1420.0,329.5 L1433.5,324.7 L1441.0,321.5 L1445.0,319.5 L1449.0,313.0 L1452.0,305.0 L1455.0,292.0 L1457.5,275.0 L1460.0,250.0 L1462.0,225.0 L1464.0,210.0 L1466.0,203.5 L1469.0,201.5 L1472.0,188.0 L1475.0,170.0 L1478.0,155.0 L1480.5,148.0 L1483.0,145.0 L1485.5,148.0 L1488.0,160.0 L1491.0,180.0 L1493.5,187.0 L1495.0,189.0 L1497.0,200.0 L1499.0,212.0 L1502.6,236.0 L1506.0,262.0 L1508.0,275.0 L1511.0,285.0 L1514.0,296.0 L1518.0,308.0 L1521.0,314.3 L1526.0,321.0 L1532.5,328.0 L1538.3,331.6 L1546.4,331.6" fill="none" stroke="#1a1a1a" stroke-width="2.0" />
<path d="M1427.7,433.6 L1442.7,432.0 L1447.0,427.0 L1451.9,415.9 L1455.5,403.0 L1458.8,388.2 L1461.0,370.0 L1463.4,349.0 L1465.5,333.0 L1468.0,323.7 L1472.6,323.3 L1474.5,305.0 L1476.1,284.6 L1478.0,265.0 L1479.5,254.6 L1481.5,250.5 L1483.7,249.8 L1486.0,251.5 L1487.6,256.9 L1489.5,275.0 L1491.0,291.5 L1494.5,300.7 L1497.5,312.0 L1500.3,326.0 L1502.5,342.0 L1504.9,358.3 L1508.0,374.0 L1511.8,388.2 L1515.0,400.0 L1518.7,411.3 L1522.0,421.0 L1525.6,429.7 L1530.0,432.8 L1533.7,433.6 Z" fill="#fea651" stroke="none" stroke-width="0" fill-opacity="0.62"/>
<path d="M1427.7,433.6 L1442.7,432.0 L1447.0,427.0 L1451.9,415.9 L1455.5,403.0 L1458.8,388.2 L1461.0,370.0 L1463.4,349.0 L1465.5,333.0 L1468.0,323.7 L1472.6,323.3 L1474.5,305.0 L1476.1,284.6 L1478.0,265.0 L1479.5,254.6 L1481.5,250.5 L1483.7,249.8 L1486.0,251.5 L1487.6,256.9 L1489.5,275.0 L1491.0,291.5 L1494.5,300.7 L1497.5,312.0 L1500.3,326.0 L1502.5,342.0 L1504.9,358.3 L1508.0,374.0 L1511.8,388.2 L1515.0,400.0 L1518.7,411.3 L1522.0,421.0 L1525.6,429.7 L1530.0,432.8 L1533.7,433.6" fill="none" stroke="#f59330" stroke-width="2.0" />
<line x1="1249.8" y1="433.6" x2="1249.8" y2="441.6" stroke="#000" stroke-width="2.2" />
<line x1="1359.3" y1="433.6" x2="1359.3" y2="441.6" stroke="#000" stroke-width="2.2" />
<line x1="1443.8" y1="433.6" x2="1443.8" y2="441.6" stroke="#000" stroke-width="2.2" />
<line x1="1515.3" y1="433.6" x2="1515.3" y2="441.6" stroke="#000" stroke-width="2.2" />
<line x1="1257" y1="433.6" x2="1257" y2="438.1" stroke="#000" stroke-width="1.3" />
<line x1="1263" y1="433.6" x2="1263" y2="438.1" stroke="#000" stroke-width="1.3" />
<line x1="1268" y1="433.6" x2="1268" y2="438.1" stroke="#000" stroke-width="1.3" />
<line x1="1273" y1="433.6" x2="1273" y2="438.1" stroke="#000" stroke-width="1.3" />
<line x1="1278" y1="433.6" x2="1278" y2="438.1" stroke="#000" stroke-width="1.3" />
<line x1="1283" y1="433.6" x2="1283" y2="438.1" stroke="#000" stroke-width="1.3" />
<line x1="1288" y1="433.6" x2="1288" y2="438.1" stroke="#000" stroke-width="1.3" />
<line x1="1293" y1="433.6" x2="1293" y2="438.1" stroke="#000" stroke-width="1.3" />
<line x1="1297.5" y1="433.6" x2="1297.5" y2="438.1" stroke="#000" stroke-width="1.3" />
<line x1="1299.5" y1="433.6" x2="1299.5" y2="438.1" stroke="#000" stroke-width="1.3" />
<line x1="1301.5" y1="433.6" x2="1301.5" y2="438.1" stroke="#000" stroke-width="1.3" />
<line x1="1303.5" y1="433.6" x2="1303.5" y2="438.1" stroke="#000" stroke-width="1.3" />
<line x1="1305.5" y1="433.6" x2="1305.5" y2="438.1" stroke="#000" stroke-width="1.3" />
<line x1="1307.5" y1="433.6" x2="1307.5" y2="438.1" stroke="#000" stroke-width="1.3" />
<line x1="1309.5" y1="433.6" x2="1309.5" y2="438.1" stroke="#000" stroke-width="1.3" />
<line x1="1311.5" y1="433.6" x2="1311.5" y2="438.1" stroke="#000" stroke-width="1.3" />
<line x1="1316" y1="433.6" x2="1316" y2="438.1" stroke="#000" stroke-width="1.3" />
<line x1="1322" y1="433.6" x2="1322" y2="438.1" stroke="#000" stroke-width="1.3" />
<line x1="1328" y1="433.6" x2="1328" y2="438.1" stroke="#000" stroke-width="1.3" />
<line x1="1334" y1="433.6" x2="1334" y2="438.1" stroke="#000" stroke-width="1.3" />
<line x1="1340" y1="433.6" x2="1340" y2="438.1" stroke="#000" stroke-width="1.3" />
<line x1="1346" y1="433.6" x2="1346" y2="438.1" stroke="#000" stroke-width="1.3" />
<line x1="1352" y1="433.6" x2="1352" y2="438.1" stroke="#000" stroke-width="1.3" />
<line x1="1387.4" y1="433.6" x2="1387.4" y2="438.1" stroke="#000" stroke-width="1.3" />
<line x1="1402.3" y1="433.6" x2="1402.3" y2="438.1" stroke="#000" stroke-width="1.3" />
<line x1="1412.7" y1="433.6" x2="1412.7" y2="438.1" stroke="#000" stroke-width="1.3" />
<line x1="1419.6" y1="433.6" x2="1419.6" y2="438.1" stroke="#000" stroke-width="1.3" />
<line x1="1425" y1="433.6" x2="1425" y2="438.1" stroke="#000" stroke-width="1.3" />
<line x1="1429.5" y1="433.6" x2="1429.5" y2="438.1" stroke="#000" stroke-width="1.3" />
<line x1="1433" y1="433.6" x2="1433" y2="438.1" stroke="#000" stroke-width="1.3" />
<line x1="1436" y1="433.6" x2="1436" y2="438.1" stroke="#000" stroke-width="1.3" />
<line x1="1439" y1="433.6" x2="1439" y2="438.1" stroke="#000" stroke-width="1.3" />
<line x1="1441.5" y1="433.6" x2="1441.5" y2="438.1" stroke="#000" stroke-width="1.3" />
<line x1="1467.8" y1="433.6" x2="1467.8" y2="438.1" stroke="#000" stroke-width="1.3" />
<line x1="1480.5" y1="433.6" x2="1480.5" y2="438.1" stroke="#000" stroke-width="1.3" />
<line x1="1488.5" y1="433.6" x2="1488.5" y2="438.1" stroke="#000" stroke-width="1.3" />
<line x1="1494.5" y1="433.6" x2="1494.5" y2="438.1" stroke="#000" stroke-width="1.3" />
<line x1="1499" y1="433.6" x2="1499" y2="438.1" stroke="#000" stroke-width="1.3" />
<line x1="1503" y1="433.6" x2="1503" y2="438.1" stroke="#000" stroke-width="1.3" />
<line x1="1506.5" y1="433.6" x2="1506.5" y2="438.1" stroke="#000" stroke-width="1.3" />
<line x1="1509.5" y1="433.6" x2="1509.5" y2="438.1" stroke="#000" stroke-width="1.3" />
<line x1="1512.5" y1="433.6" x2="1512.5" y2="438.1" stroke="#000" stroke-width="1.3" />
<line x1="1537.5" y1="433.6" x2="1537.5" y2="438.1" stroke="#000" stroke-width="1.3" />
<rect x="1236" y="123.3" width="310.4" height="310.3" fill="none" stroke="#222" stroke-width="1.6" />
<line x1="1236" y1="334.2" x2="1546.4" y2="334.2" stroke="#1a1a1a" stroke-width="1.6" />
<text x="1253.5" y="158.8" font-size="28.5" ><tspan font-style="italic">Pkm2</tspan><tspan dy="-11.4" font-size="19.38">fl/fl</tspan></text>
<text x="1253" y="199" font-size="28.5" fill="#c4601c" ><tspan font-style="italic">Pkm2</tspan><tspan dy="-11.97" font-size="19.38" letter-spacing="0.43">&#916;<tspan font-style="italic">Lyz2</tspan></tspan></text>
<text transform="translate(1209.5,161) rotate(-90)" font-size="28.5" text-anchor="middle" >Count</text>
<line x1="1200" y1="470" x2="1200" y2="222" stroke="#000" stroke-width="1.6" />
<path d="M1200,212.5 L1195.5,224.5 L1204.5,224.5 Z" fill="#000" stroke="none" stroke-width="0" />
<line x1="1200" y1="470" x2="1380" y2="470" stroke="#000" stroke-width="1.6" />
<path d="M1390,470 L1378,465.5 L1378,474.5 Z" fill="#000" stroke="none" stroke-width="0" />
<text x="1404.5" y="479.3" font-size="28.3" >Zy/op-FITC</text>
<text x="1" y="597.6" font-size="52.5" font-weight="bold" >b</text>
<line x1="118.6" y1="595.3" x2="118.6" y2="1021" stroke="#000" stroke-width="2" />
<line x1="108.1" y1="1021" x2="118.6" y2="1021" stroke="#000" stroke-width="2" />
<text x="104.1" y="1028.74" font-size="21.5" text-anchor="end" >0.0</text>
<line x1="108.1" y1="935.8" x2="118.6" y2="935.8" stroke="#000" stroke-width="2" />
<text x="104.1" y="943.54" font-size="21.5" text-anchor="end" >1.5</text>
<line x1="108.1" y1="850.6" x2="118.6" y2="850.6" stroke="#000" stroke-width="2" />
<text x="104.1" y="858.34" font-size="21.5" text-anchor="end" >3.0</text>
<line x1="108.1" y1="765.4" x2="118.6" y2="765.4" stroke="#000" stroke-width="2" />
<text x="104.1" y="773.14" font-size="21.5" text-anchor="end" >4.5</text>
<line x1="108.1" y1="680.2" x2="118.6" y2="680.2" stroke="#000" stroke-width="2" />
<text x="104.1" y="687.94" font-size="21.5" text-anchor="end" >6.0</text>
<line x1="108.1" y1="595" x2="118.6" y2="595" stroke="#000" stroke-width="2" />
<text x="104.1" y="602.74" font-size="21.5" text-anchor="end" >7.5</text>
<line x1="147.7" y1="1050.5" x2="801.1" y2="1050.5" stroke="#000" stroke-width="2" />
<line x1="147.7" y1="1050.5" x2="147.7" y2="1060" stroke="#000" stroke-width="2" />
<text x="147.7" y="1086" font-size="21.5" text-anchor="middle" >0</text>
<line x1="256.6" y1="1050.5" x2="256.6" y2="1060" stroke="#000" stroke-width="2" />
<text x="256.6" y="1086" font-size="21.5" text-anchor="middle" >10</text>
<line x1="365.5" y1="1050.5" x2="365.5" y2="1060" stroke="#000" stroke-width="2" />
<text x="365.5" y="1086" font-size="21.5" text-anchor="middle" >20</text>
<line x1="474.4" y1="1050.5" x2="474.4" y2="1060" stroke="#000" stroke-width="2" />
<text x="474.4" y="1086" font-size="21.5" text-anchor="middle" >30</text>
<line x1="583.3" y1="1050.5" x2="583.3" y2="1060" stroke="#000" stroke-width="2" />
<text x="583.3" y="1086" font-size="21.5" text-anchor="middle" >40</text>
<line x1="692.2" y1="1050.5" x2="692.2" y2="1060" stroke="#000" stroke-width="2" />
<text x="692.2" y="1086" font-size="21.5" text-anchor="middle" >50</text>
<line x1="801.1" y1="1050.5" x2="801.1" y2="1060" stroke="#000" stroke-width="2" />
<text x="801.1" y="1086" font-size="21.5" text-anchor="middle" >60</text>
<text x="474.4" y="1121.4" font-size="22.8" text-anchor="middle" >Time (min)</text>
<text transform="translate(61.7,808) rotate(-90)" font-size="23.8" text-anchor="middle" >ROS (cpm x10<tspan dy="-10" font-size="16.5">2</tspan><tspan dy="10">)</tspan></text>
<polyline points="147.7,1020.76 160.45,1021.65 173.19,1019.09 185.94,1022.05 198.68,1019.68 211.43,1020.55 224.17,1022.12 236.92,1019.83 249.66,1022.23 262.41,1020.2 275.15,1022.06 287.9,1021.96 300.64,1020.25 313.39,1018.19 326.13,1021.79 338.88,1021.28 351.62,1019.21 364.37,1017.58 377.11,1019.47 389.86,1020.39 402.6,1017.43 415.35,1022.18 428.09,1018.03 440.84,1020.94 453.58,1021.68 466.33,1021.82 479.07,1020.84 491.82,1018.25 504.56,1021.5 517.31,1019.45 530.05,1019.15 542.8,1020.52 555.54,1019.62 568.29,1022.1 581.03,1022.12 593.78,1021.37 606.52,1018.94 619.27,1020.23 632.01,1020.81 644.76,1019.43 657.5,1020.1 670.25,1020.89 682.99,1018.36 695.74,1018.85 708.48,1021.17 721.23,1019.48 733.97,1019.74 746.72,1017.95 759.46,1018.69 772.21,1020.95 784.95,1017.41 797.7,1021.82" fill="none" stroke="#f5821f" stroke-width="2.8" stroke-linejoin="miter" stroke-dasharray="9,5.5"/>
<polyline points="147.7,1020.07 160.45,1018.5 173.19,1019.39 185.94,1018.2 198.68,1018.09 211.43,1020.95 224.17,1021.22 236.92,1017 249.66,1019.96 262.41,1020.09 275.15,1016.19 287.9,1018.88 300.64,1017.01 313.39,1018.85 326.13,1018.02 338.88,1020.51 351.62,1018.04 364.37,1016.85 377.11,1018.61 389.86,1017.49 402.6,1017.85 415.35,1020.96 428.09,1017.41 440.84,1018.26 453.58,1019.74 466.33,1021.13 479.07,1016.86 491.82,1018.87 504.56,1017.61 517.31,1016.79 530.05,1017.63 542.8,1016.58 555.54,1019.26 568.29,1017.19 581.03,1019.01 593.78,1016.5 606.52,1016.79 619.27,1020.79 632.01,1020.59 644.76,1020.17 657.5,1016.35 670.25,1019.05 682.99,1018.08 695.74,1019.75 708.48,1018.69 721.23,1019.31 733.97,1019.49 746.72,1018.29 759.46,1018.3 772.21,1016.66 784.95,1017.8 797.7,1016.54" fill="none" stroke="#000" stroke-width="2.8" stroke-linejoin="miter" stroke-dasharray="9,5.5"/>
<polyline points="147.7,996.58 160.45,977.26 173.19,1000.55 185.94,990.33 198.68,972.72 211.43,976.13 224.17,944.32 236.92,972.15 249.66,963.63 262.41,942.62 275.15,954.54 287.9,936.37 300.64,906.83 313.39,908.54 326.13,908.54 338.88,913.08 351.62,897.18 364.37,894.34 377.11,881.27 389.86,881.27 402.6,876.16 415.35,869.34 428.09,876.16 440.84,842.08 453.58,862.53 466.33,868.21 479.07,813.11 491.82,846.62 504.56,844.35 517.31,819.36 530.05,834.7 542.8,802.32 555.54,830.15 568.29,828.45 581.03,805.16 593.78,848.33 606.52,821.63 619.27,842.08 632.01,810.27 644.76,840.94 657.5,806.3 670.25,829.02 682.99,856.85 695.74,834.7 708.48,816.52 721.23,850.6 733.97,823.9 746.72,856.85 759.46,854.01 772.21,830.72 784.95,856.85 797.7,842.08" fill="none" stroke="#f5821f" stroke-width="2.6" stroke-linejoin="miter" />
<polyline points="147.7,994.02 160.45,1000.55 173.19,995.16 185.94,998.85 198.68,990.9 211.43,969.88 224.17,974.42 236.92,980.67 249.66,952.84 262.41,957.38 275.15,914.22 287.9,930.69 300.64,905.7 313.39,840.94 326.13,845.49 338.88,835.26 351.62,831.29 364.37,859.69 377.11,797.78 389.86,789.82 402.6,836.97 415.35,765.4 428.09,752.9 440.84,743.82 453.58,754.04 466.33,745.52 479.07,753.47 491.82,746.66 504.56,751.77 517.31,714.85 530.05,734.16 542.8,739.27 555.54,743.82 568.29,743.82 581.03,715.98 593.78,751.77 606.52,758.58 619.27,748.36 632.01,738.14 644.76,724.5 657.5,719.39 670.25,708.6 682.99,769.94 695.74,748.36 708.48,751.77 721.23,734.16 733.97,730.18 746.72,756.31 759.46,740.41 772.21,759.72 784.95,748.93 797.7,731.32" fill="none" stroke="#000" stroke-width="2.6" stroke-linejoin="miter" />
<line x1="130" y1="601" x2="161" y2="601" stroke="#000" stroke-width="3" stroke-dasharray="8.5,6"/>
<line x1="130" y1="632.6" x2="161" y2="632.6" stroke="#000" stroke-width="2.5" />
<text x="179" y="609.5" font-size="21.5" ><tspan font-style="italic">Pkm2</tspan><tspan dy="-9.03" font-size="15.48">fl/fl</tspan><tspan dy="9.03"> - Ctrl</tspan></text>
<text x="179" y="641.1" font-size="21.5" ><tspan font-style="italic">Pkm2</tspan><tspan dy="-9.03" font-size="15.48">fl/fl</tspan><tspan dy="9.03"> - Zy/op</tspan></text>
<line x1="461" y1="603.6" x2="491" y2="603.6" stroke="#f5821f" stroke-width="3" stroke-dasharray="8.5,6"/>
<line x1="461" y1="634.5" x2="491" y2="634.5" stroke="#f5821f" stroke-width="2.5" />
<text x="508.3" y="612.3" font-size="21.5" ><tspan font-style="italic">Pkm2</tspan><tspan dy="-9.03" font-size="15.48">fl/fl&#916;<tspan font-style="italic">Lyz2</tspan></tspan><tspan dy="9.03"> - Ctrl</tspan></text>
<text x="508.3" y="643.7" font-size="21.5" ><tspan font-style="italic">Pkm2</tspan><tspan dy="-9.03" font-size="15.48">fl/fl&#916;<tspan font-style="italic">Lyz2</tspan></tspan><tspan dy="9.03"> - Zy/op</tspan></text>
<line x1="924.8" y1="594.5" x2="924.8" y2="1014.5" stroke="#000" stroke-width="2" />
<line x1="916.8" y1="1014.5" x2="924.8" y2="1014.5" stroke="#000" stroke-width="2" />
<text x="912.8" y="1022.17" font-size="21.3" text-anchor="end" >0</text>
<line x1="916.8" y1="930.5" x2="924.8" y2="930.5" stroke="#000" stroke-width="2" />
<text x="912.8" y="938.17" font-size="21.3" text-anchor="end" >1</text>
<line x1="916.8" y1="846.5" x2="924.8" y2="846.5" stroke="#000" stroke-width="2" />
<text x="912.8" y="854.17" font-size="21.3" text-anchor="end" >2</text>
<line x1="916.8" y1="762.5" x2="924.8" y2="762.5" stroke="#000" stroke-width="2" />
<text x="912.8" y="770.17" font-size="21.3" text-anchor="end" >3</text>
<line x1="916.8" y1="678.5" x2="924.8" y2="678.5" stroke="#000" stroke-width="2" />
<text x="912.8" y="686.17" font-size="21.3" text-anchor="end" >4</text>
<line x1="916.8" y1="594.5" x2="924.8" y2="594.5" stroke="#000" stroke-width="2" />
<text x="912.8" y="602.17" font-size="21.3" text-anchor="end" >5</text>
<rect x="954.3" y="1012.82" width="31.5" height="1.68" fill="#fff" stroke="#000" stroke-width="1.85" />
<rect x="1005.2" y="1012.82" width="31.5" height="1.68" fill="#fde1c3" stroke="#000" stroke-width="1.85" />
<rect x="1051.6" y="741.5" width="31.7" height="273" fill="#fff" stroke="#000" stroke-width="1.85" />
<rect x="1100.8" y="826.34" width="31.4" height="188.16" fill="#fde1c3" stroke="#000" stroke-width="1.85" />
<line x1="1067.4" y1="718.7" x2="1067.4" y2="765" stroke="#000" stroke-width="2" />
<line x1="1058.4" y1="718.7" x2="1076.4" y2="718.7" stroke="#000" stroke-width="2" />
<line x1="1058.4" y1="765" x2="1076.4" y2="765" stroke="#000" stroke-width="2" />
<line x1="1116.5" y1="810.6" x2="1116.5" y2="841.8" stroke="#000" stroke-width="2" />
<line x1="1107.5" y1="810.6" x2="1125.5" y2="810.6" stroke="#000" stroke-width="2" />
<line x1="1107.5" y1="841.8" x2="1125.5" y2="841.8" stroke="#000" stroke-width="2" />
<circle cx="1067.3" cy="681.7" r="6.3" fill="#000" />
<circle cx="1067.3" cy="691.8" r="6.3" fill="#000" />
<circle cx="1067.3" cy="761.8" r="6.3" fill="#000" />
<circle cx="1055.3" cy="788.3" r="6.3" fill="#000" />
<circle cx="1079.3" cy="783.3" r="6.3" fill="#000" />
<circle cx="1116" cy="778.3" r="6.3" fill="#ff6000" />
<circle cx="1116" cy="809" r="6.3" fill="#ff6000" />
<circle cx="1116" cy="824.8" r="6.3" fill="#ff6000" />
<circle cx="1116" cy="851.2" r="6.3" fill="#ff6000" />
<circle cx="1116" cy="867.6" r="6.3" fill="#ff6000" />
<circle cx="957" cy="1014.4" r="6.3" fill="#000" />
<circle cx="963.5" cy="1013" r="6.3" fill="#000" />
<circle cx="970" cy="1014.4" r="6.3" fill="#000" />
<circle cx="976" cy="1014.4" r="6.3" fill="#000" />
<circle cx="982" cy="1014.4" r="6.3" fill="#000" />
<circle cx="1006" cy="1014.4" r="6.3" fill="#ff6000" />
<circle cx="1012.4" cy="1014.4" r="6.3" fill="#ff6000" />
<circle cx="1018.4" cy="1014.4" r="6.3" fill="#ff6000" />
<circle cx="1024.3" cy="1014.4" r="6.3" fill="#ff6000" />
<circle cx="1030.8" cy="1014.4" r="6.3" fill="#ff6000" />
<line x1="1012" y1="1014.2" x2="1025" y2="1014.2" stroke="#000" stroke-width="2" />
<line x1="954.3" y1="1025" x2="1036.7" y2="1025" stroke="#000" stroke-width="1.6" />
<line x1="1051.6" y1="1025" x2="1133.5" y2="1025" stroke="#000" stroke-width="1.6" />
<text x="995.5" y="1054.2" font-size="21.5" text-anchor="middle" >Ctrl</text>
<text x="1091" y="1054.2" font-size="21.5" text-anchor="middle" >Zy/op</text>
<rect x="936.7" y="595.3" width="27.8" height="10" fill="#fff" stroke="#000" stroke-width="1.8" />
<rect x="936.7" y="620.2" width="27.8" height="12" fill="#fde1c3" stroke="#000" stroke-width="1.8" />
<text x="984.3" y="608.8" font-size="21" ><tspan font-style="italic">Pkm2</tspan><tspan dy="-9.24" font-size="15.54">fl/fl</tspan></text>
<text x="984.3" y="635.6" font-size="21" ><tspan font-style="italic">Pkm2</tspan><tspan dy="-9.66" font-size="14.49" letter-spacing="1.26">&#916;<tspan font-style="italic">Lyz2</tspan></tspan></text>
<text x="1045.5" y="662.3" font-size="20" ><tspan font-style="italic">P</tspan> = 0.0026</text>
<line x1="1067.6" y1="668.8" x2="1112.8" y2="668.8" stroke="#000" stroke-width="1.8" />
<text transform="translate(864.5,805) rotate(-90)" font-size="23.7" text-anchor="middle" >ROS (AUC x10<tspan dy="-10" font-size="16.5">6</tspan><tspan dy="10">)</tspan></text>
<text x="1155.5" y="596.9" font-size="52.5" font-weight="bold" >c</text>
<line x1="1260.3" y1="593" x2="1260.3" y2="1018" stroke="#000" stroke-width="2" />
<line x1="1252.3" y1="1018" x2="1260.3" y2="1018" stroke="#000" stroke-width="2" />
<text x="1248.3" y="1025.67" font-size="21.3" text-anchor="end" >0.0</text>
<line x1="1252.3" y1="933" x2="1260.3" y2="933" stroke="#000" stroke-width="2" />
<text x="1248.3" y="940.67" font-size="21.3" text-anchor="end" >0.6</text>
<line x1="1252.3" y1="848" x2="1260.3" y2="848" stroke="#000" stroke-width="2" />
<text x="1248.3" y="855.67" font-size="21.3" text-anchor="end" >1.2</text>
<line x1="1252.3" y1="763" x2="1260.3" y2="763" stroke="#000" stroke-width="2" />
<text x="1248.3" y="770.67" font-size="21.3" text-anchor="end" >1.8</text>
<line x1="1252.3" y1="678" x2="1260.3" y2="678" stroke="#000" stroke-width="2" />
<text x="1248.3" y="685.67" font-size="21.3" text-anchor="end" >2.4</text>
<line x1="1252.3" y1="593" x2="1260.3" y2="593" stroke="#000" stroke-width="2" />
<text x="1248.3" y="600.67" font-size="21.3" text-anchor="end" >3.0</text>
<rect x="1290.4" y="986.83" width="31.7" height="31.17" fill="#fff" stroke="#000" stroke-width="1.85" />
<rect x="1339.1" y="996.75" width="32.1" height="21.25" fill="#fde1c3" stroke="#000" stroke-width="1.85" />
<rect x="1388.9" y="787.08" width="31.7" height="230.92" fill="#fff" stroke="#000" stroke-width="1.85" />
<rect x="1438.6" y="924.5" width="31.6" height="93.5" fill="#fde1c3" stroke="#000" stroke-width="1.85" />
<line x1="1305.9" y1="979.8" x2="1305.9" y2="985.5" stroke="#000" stroke-width="2" />
<line x1="1296.9" y1="979.8" x2="1314.9" y2="979.8" stroke="#000" stroke-width="2" />
<line x1="1296.9" y1="985.5" x2="1314.9" y2="985.5" stroke="#000" stroke-width="2" />
<line x1="1404.6" y1="751.2" x2="1404.6" y2="822.2" stroke="#000" stroke-width="2" />
<line x1="1395.6" y1="751.2" x2="1413.6" y2="751.2" stroke="#000" stroke-width="2" />
<line x1="1395.6" y1="822.2" x2="1413.6" y2="822.2" stroke="#000" stroke-width="2" />
<line x1="1454.4" y1="918.6" x2="1454.4" y2="929.6" stroke="#000" stroke-width="2" />
<line x1="1445.4" y1="918.6" x2="1463.4" y2="918.6" stroke="#000" stroke-width="2" />
<line x1="1445.4" y1="929.6" x2="1463.4" y2="929.6" stroke="#000" stroke-width="2" />
<circle cx="1293.9" cy="987.1" r="6.3" fill="#000" />
<circle cx="1305.5" cy="976.3" r="6.3" fill="#000" />
<circle cx="1318" cy="985.4" r="6.3" fill="#000" />
<circle cx="1342.8" cy="996.8" r="6.3" fill="#ff6000" />
<circle cx="1355.3" cy="995.8" r="6.3" fill="#ff6000" />
<circle cx="1367.5" cy="996.8" r="6.3" fill="#ff6000" />
<line x1="1348" y1="996.4" x2="1363" y2="996.4" stroke="#000" stroke-width="2.2" />
<circle cx="1404.4" cy="742.1" r="6.3" fill="#000" />
<circle cx="1404.4" cy="760.7" r="6.3" fill="#000" />
<circle cx="1404.4" cy="857" r="6.3" fill="#000" />
<circle cx="1441.7" cy="915.5" r="6.3" fill="#ff6000" />
<circle cx="1466.6" cy="922.2" r="6.3" fill="#ff6000" />
<circle cx="1454.2" cy="934.2" r="6.3" fill="#ff6000" />
<line x1="1291" y1="1028" x2="1373.3" y2="1028" stroke="#000" stroke-width="1.6" />
<line x1="1388.9" y1="1028" x2="1470.8" y2="1028" stroke="#000" stroke-width="1.6" />
<text x="1331" y="1057.6" font-size="21.5" text-anchor="middle" >Ctrl</text>
<text x="1429.8" y="1057.6" font-size="21.5" text-anchor="middle" ><tspan font-style="italic">S. aureus</tspan></text>
<rect x="1272.9" y="594.4" width="28.1" height="10" fill="#fff" stroke="#000" stroke-width="1.8" />
<rect x="1272.9" y="620.3" width="28.1" height="12" fill="#fde1c3" stroke="#000" stroke-width="1.8" />
<text x="1320.8" y="608.1" font-size="21" ><tspan font-style="italic">Pkm2</tspan><tspan dy="-9.24" font-size="15.54">fl/fl</tspan></text>
<text x="1320.8" y="635.7" font-size="21" ><tspan font-style="italic">Pkm2</tspan><tspan dy="-9.66" font-size="14.49" letter-spacing="1.26">&#916;<tspan font-style="italic">Lyz2</tspan></tspan></text>
<text x="1384.3" y="717.6" font-size="20" ><tspan font-style="italic">P</tspan> = 0.0029</text>
<line x1="1405" y1="723.2" x2="1452.7" y2="723.2" stroke="#000" stroke-width="1.8" />
<text transform="translate(1198,805.5) rotate(-90)" font-size="23.7" text-anchor="middle" >ROS (AUC x10<tspan dy="-10" font-size="16.5">5</tspan><tspan dy="10">)</tspan></text>
<text x="1490.5" y="596.6" font-size="52.5" font-weight="bold" >d</text>
<line x1="1594.4" y1="596.6" x2="1594.4" y2="1020.6" stroke="#000" stroke-width="2" />
<line x1="1586.4" y1="1020.6" x2="1594.4" y2="1020.6" stroke="#000" stroke-width="2" />
<text x="1582.4" y="1028.27" font-size="21.3" text-anchor="end" >0.0</text>
<line x1="1586.4" y1="914.6" x2="1594.4" y2="914.6" stroke="#000" stroke-width="2" />
<text x="1582.4" y="922.27" font-size="21.3" text-anchor="end" >0.5</text>
<line x1="1586.4" y1="808.6" x2="1594.4" y2="808.6" stroke="#000" stroke-width="2" />
<text x="1582.4" y="816.27" font-size="21.3" text-anchor="end" >1.0</text>
<line x1="1586.4" y1="702.6" x2="1594.4" y2="702.6" stroke="#000" stroke-width="2" />
<text x="1582.4" y="710.27" font-size="21.3" text-anchor="end" >1.5</text>
<line x1="1586.4" y1="596.6" x2="1594.4" y2="596.6" stroke="#000" stroke-width="2" />
<text x="1582.4" y="604.27" font-size="21.3" text-anchor="end" >2.0</text>
<rect x="1624.8" y="816" width="36.1" height="204.6" fill="#fff" stroke="#000" stroke-width="1.85" />
<rect x="1680.8" y="708.3" width="36.3" height="312.3" fill="#fde1c3" stroke="#000" stroke-width="1.85" />
<line x1="1642.6" y1="799.3" x2="1642.6" y2="832" stroke="#000" stroke-width="2" />
<line x1="1633.6" y1="799.3" x2="1651.6" y2="799.3" stroke="#000" stroke-width="2" />
<line x1="1633.6" y1="832" x2="1651.6" y2="832" stroke="#000" stroke-width="2" />
<line x1="1698.8" y1="698.8" x2="1698.8" y2="716.4" stroke="#000" stroke-width="2" />
<line x1="1689.8" y1="698.8" x2="1707.8" y2="698.8" stroke="#000" stroke-width="2" />
<line x1="1689.8" y1="716.4" x2="1707.8" y2="716.4" stroke="#000" stroke-width="2" />
<circle cx="1642.4" cy="786.7" r="6.3" fill="#000" />
<circle cx="1642.4" cy="816" r="6.3" fill="#000" />
<circle cx="1642.4" cy="843.7" r="6.3" fill="#000" />
<circle cx="1698.6" cy="693.9" r="6.3" fill="#ff6000" />
<circle cx="1698.6" cy="704.8" r="6.3" fill="#ff6000" />
<circle cx="1698.6" cy="724.2" r="6.3" fill="#ff6000" />
<line x1="1625.2" y1="1030.3" x2="1718.5" y2="1030.3" stroke="#000" stroke-width="1.6" />
<rect x="1607.8" y="596.8" width="27.8" height="10" fill="#fff" stroke="#000" stroke-width="1.8" />
<rect x="1607.8" y="622.5" width="27.8" height="12" fill="#fde1c3" stroke="#000" stroke-width="1.8" />
<text x="1655.4" y="611" font-size="21" ><tspan font-style="italic">Pkm2</tspan><tspan dy="-9.24" font-size="15.54">fl/fl</tspan></text>
<text x="1655.4" y="638.6" font-size="21" ><tspan font-style="italic">Pkm2</tspan><tspan dy="-9.66" font-size="14.49" letter-spacing="1.26">&#916;<tspan font-style="italic">Lyz2</tspan></tspan></text>
<text x="1623.4" y="674.9" font-size="20" ><tspan font-style="italic">P</tspan> = 0.0044</text>
<line x1="1641.2" y1="681" x2="1700.8" y2="681" stroke="#000" stroke-width="1.8" />
<text transform="translate(1538.5,808) rotate(-90)" font-size="23.7" text-anchor="middle" ><tspan font-style="italic">S. aureus</tspan> (CFU/mL x10<tspan dy="-10" font-size="16.5">6</tspan><tspan dy="10">)</tspan></text>
<defs><pattern id="chk1" width="4" height="4" patternUnits="userSpaceOnUse"><rect width="4" height="4" fill="#fff"/><rect width="2" height="2" fill="#111"/><rect x="2" y="2" width="2" height="2" fill="#111"/></pattern><pattern id="chk2" width="4" height="4" patternUnits="userSpaceOnUse"><rect width="4" height="4" fill="#f2dede"/><rect width="2" height="2" fill="#2a1515"/><rect x="2" y="2" width="2" height="2" fill="#2a1515"/></pattern><pattern id="chk3" width="4" height="4" patternUnits="userSpaceOnUse"><rect width="4" height="4" fill="#e4dcff"/><rect width="2" height="2" fill="#1a1530"/><rect x="2" y="2" width="2" height="2" fill="#1a1530"/></pattern></defs>
<text x="37" y="1204.4" font-size="52.5" font-weight="bold" >e</text>
<g transform="translate(37,1230.6) scale(0.98,1)" fill="#111"><circle cx="15" cy="5.2" r="5.2"/><path d="M10,11.5 L20,11.5 Q21.2,11.5 22,12.4 L29.6,21 L27.2,23.4 L20.6,16.6 L20.6,28 L9.4,28 L9.4,16.6 L2.8,23.4 L0.4,21 L8,12.4 Q8.8,11.5 10,11.5 Z"/><rect x="9.4" y="26" width="5" height="19" rx="1.6"/><rect x="15.6" y="26" width="5" height="19" rx="1.6"/></g>
<line x1="118.8" y1="1201.2" x2="118.8" y2="1625.6" stroke="#000" stroke-width="2" />
<line x1="108.3" y1="1625.6" x2="118.8" y2="1625.6" stroke="#000" stroke-width="2" />
<text x="104.3" y="1633.34" font-size="21.5" text-anchor="end" >0.0</text>
<line x1="108.3" y1="1519.6" x2="118.8" y2="1519.6" stroke="#000" stroke-width="2" />
<text x="104.3" y="1527.34" font-size="21.5" text-anchor="end" >0.4</text>
<line x1="108.3" y1="1413.6" x2="118.8" y2="1413.6" stroke="#000" stroke-width="2" />
<text x="104.3" y="1421.34" font-size="21.5" text-anchor="end" >0.8</text>
<line x1="108.3" y1="1307.6" x2="118.8" y2="1307.6" stroke="#000" stroke-width="2" />
<text x="104.3" y="1315.34" font-size="21.5" text-anchor="end" >1.2</text>
<line x1="108.3" y1="1201.6" x2="118.8" y2="1201.6" stroke="#000" stroke-width="2" />
<text x="104.3" y="1209.34" font-size="21.5" text-anchor="end" >1.6</text>
<line x1="147.5" y1="1655.3" x2="799.7" y2="1655.3" stroke="#000" stroke-width="2" />
<line x1="147.5" y1="1655.3" x2="147.5" y2="1664.8" stroke="#000" stroke-width="2" />
<text x="147.5" y="1691.2" font-size="21.5" text-anchor="middle" >0</text>
<line x1="256.2" y1="1655.3" x2="256.2" y2="1664.8" stroke="#000" stroke-width="2" />
<text x="256.2" y="1691.2" font-size="21.5" text-anchor="middle" >10</text>
<line x1="364.9" y1="1655.3" x2="364.9" y2="1664.8" stroke="#000" stroke-width="2" />
<text x="364.9" y="1691.2" font-size="21.5" text-anchor="middle" >20</text>
<line x1="473.6" y1="1655.3" x2="473.6" y2="1664.8" stroke="#000" stroke-width="2" />
<text x="473.6" y="1691.2" font-size="21.5" text-anchor="middle" >30</text>
<line x1="582.3" y1="1655.3" x2="582.3" y2="1664.8" stroke="#000" stroke-width="2" />
<text x="582.3" y="1691.2" font-size="21.5" text-anchor="middle" >40</text>
<line x1="691" y1="1655.3" x2="691" y2="1664.8" stroke="#000" stroke-width="2" />
<text x="691" y="1691.2" font-size="21.5" text-anchor="middle" >50</text>
<line x1="799.7" y1="1655.3" x2="799.7" y2="1664.8" stroke="#000" stroke-width="2" />
<text x="799.7" y="1691.2" font-size="21.5" text-anchor="middle" >60</text>
<text x="473.6" y="1724.5" font-size="22.8" text-anchor="middle" >Time (min)</text>
<text transform="translate(61.7,1412.8) rotate(-90)" font-size="23.8" text-anchor="middle" >ROS (cpm x10<tspan dy="-10" font-size="16.5">3</tspan><tspan dy="10">)</tspan></text>
<polyline points="147.5,1625.69 160.25,1623.66 172.99,1623.66 185.74,1622.87 198.48,1626.04 211.23,1625.83 223.97,1626.22 236.72,1625.85 249.46,1623.42 262.21,1626.3 274.95,1624.39 287.7,1625.9 300.44,1625.52 313.19,1624.87 325.93,1622.93 338.68,1624.02 351.42,1626.86 364.17,1625.61 376.91,1626.23 389.66,1622.77 402.4,1623.06 415.15,1623.08 427.89,1622.98 440.64,1623.37 453.38,1622.4 466.13,1623.14 478.87,1625.7 491.62,1622.87 504.36,1624.6 517.11,1623.32 529.85,1624.23 542.6,1624.88 555.34,1625.19 568.09,1624.87 580.83,1625.43 593.58,1626.37 606.32,1623.02 619.07,1623.12 631.81,1622.22 644.56,1623.63 657.3,1624.28 670.05,1623.36 682.79,1626.28 695.54,1623.7 708.28,1624.81 721.03,1626.08 733.77,1625.96 746.52,1624.43 759.26,1625.72 772.01,1624.73 784.75,1624.04 797.5,1625.04" fill="none" stroke="#17b87a" stroke-width="2.7" stroke-linejoin="miter" stroke-dasharray="9,5.5"/>
<polyline points="147.5,1623.73 160.25,1623.16 172.99,1621.23 185.74,1623.66 198.48,1623.44 211.23,1623.02 223.97,1625.15 236.72,1623.42 249.46,1622.79 262.21,1621.93 274.95,1625.63 287.7,1624.52 300.44,1625.65 313.19,1621.84 325.93,1622.45 338.68,1625.91 351.42,1620.92 364.17,1621.02 376.91,1622.66 389.66,1622.87 402.4,1625.3 415.15,1626.05 427.89,1623.33 440.64,1625.81 453.38,1625.12 466.13,1624.85 478.87,1625.97 491.62,1623.67 504.36,1623.8 517.11,1621.67 529.85,1623.38 542.6,1622.74 555.34,1623.48 568.09,1622.62 580.83,1623.71 593.58,1624.66 606.32,1620.84 619.07,1620.85 631.81,1621.68 644.56,1622.38 657.3,1624.46 670.05,1624.91 682.79,1624.6 695.54,1625.76 708.28,1622.07 721.03,1624.01 733.77,1621.64 746.52,1624.08 759.26,1621.05 772.01,1621.64 784.75,1626.13 797.5,1625.02" fill="none" stroke="#000" stroke-width="2.7" stroke-linejoin="miter" stroke-dasharray="9,5.5"/>
<polyline points="147.5,1625.6 160.25,1624.54 172.99,1624.8 185.74,1624.27 198.48,1625.07 211.23,1624.54 223.97,1623.21 236.72,1620.56 249.46,1615.26 262.21,1604.93 274.95,1595.12 287.7,1579.49 300.44,1574.98 313.19,1565.71 325.93,1542.12 338.68,1547.16 351.42,1525.96 364.17,1525.96 376.91,1503.43 389.66,1486.21 402.4,1477.46 415.15,1488.59 427.89,1470.84 440.64,1437.71 453.38,1444.61 466.13,1455.2 478.87,1448.05 491.62,1434.27 504.36,1434.8 517.11,1405.65 529.85,1414.66 542.6,1429.76 555.34,1418.63 568.09,1414.66 580.83,1406.71 593.58,1400.88 606.32,1405.65 619.07,1409.36 631.81,1403.26 644.56,1413.07 657.3,1392.13 670.05,1412.01 682.79,1409.09 695.54,1399.82 708.28,1417.84 721.03,1400.35 733.77,1417.04 746.52,1415.45 759.26,1410.15 772.01,1425.79 784.75,1423.93 797.5,1428.7" fill="none" stroke="#17b87a" stroke-width="2.6" stroke-linejoin="miter" />
<polyline points="147.5,1625.6 160.25,1623.21 172.99,1625.6 185.74,1621.09 198.48,1625.07 211.23,1622.95 223.97,1616.32 236.72,1611.82 249.46,1602.54 262.21,1595.65 274.95,1583.99 287.7,1578.96 300.44,1547.16 313.19,1540.8 325.93,1500.78 338.68,1501.58 351.42,1448.05 364.17,1475.88 376.91,1436.65 389.66,1417.84 402.4,1398.49 415.15,1410.15 427.89,1396.38 440.64,1373.85 453.38,1371.73 466.13,1355.57 478.87,1364.84 491.62,1356.09 504.36,1316.88 517.11,1338.61 529.85,1312.63 542.6,1328 555.34,1318.73 568.09,1318.99 580.83,1325.62 593.58,1341.78 606.32,1340.99 619.07,1326.15 631.81,1339.13 644.56,1339.93 657.3,1353.71 670.05,1321.38 682.79,1349.2 695.54,1352.65 708.28,1368.55 721.03,1384.18 733.77,1344.96 746.52,1380.21 759.26,1397.43 772.01,1388.69 784.75,1394.78 797.5,1408.56" fill="none" stroke="#000" stroke-width="2.6" stroke-linejoin="miter" />
<line x1="131" y1="1206.5" x2="163.3" y2="1206.5" stroke="#000" stroke-width="3" stroke-dasharray="8.5,6"/>
<line x1="131" y1="1235.5" x2="163.3" y2="1235.5" stroke="#17b87a" stroke-width="3" stroke-dasharray="8.5,6"/>
<text x="180.2" y="1213.7" font-size="21.5" >Vehicle - Ctrl</text>
<text x="180.2" y="1242.7" font-size="21.5" >Oxalate - Ctrl</text>
<line x1="460.5" y1="1206.5" x2="491" y2="1206.5" stroke="#000" stroke-width="2.5" />
<line x1="460.5" y1="1235.5" x2="491" y2="1235.5" stroke="#17b87a" stroke-width="2.5" />
<text x="508.9" y="1213.7" font-size="21.5" >Vehicle - Zy/op</text>
<text x="508.9" y="1242.7" font-size="21.5" >Oxalate - Zy/op</text>
<line x1="1001.4" y1="1201.8" x2="1001.4" y2="1625.8" stroke="#000" stroke-width="2" />
<line x1="993.4" y1="1625.8" x2="1001.4" y2="1625.8" stroke="#000" stroke-width="2" />
<text x="989.4" y="1633.47" font-size="21.3" text-anchor="end" >0.0</text>
<line x1="993.4" y1="1519.8" x2="1001.4" y2="1519.8" stroke="#000" stroke-width="2" />
<text x="989.4" y="1527.47" font-size="21.3" text-anchor="end" >0.4</text>
<line x1="993.4" y1="1413.8" x2="1001.4" y2="1413.8" stroke="#000" stroke-width="2" />
<text x="989.4" y="1421.47" font-size="21.3" text-anchor="end" >0.8</text>
<line x1="993.4" y1="1307.8" x2="1001.4" y2="1307.8" stroke="#000" stroke-width="2" />
<text x="989.4" y="1315.47" font-size="21.3" text-anchor="end" >1.2</text>
<line x1="993.4" y1="1201.8" x2="1001.4" y2="1201.8" stroke="#000" stroke-width="2" />
<text x="989.4" y="1209.47" font-size="21.3" text-anchor="end" >1.6</text>
<rect x="1030.65" y="1617.85" width="21.5" height="7.95" fill="url(#chk1)" stroke="#000" stroke-width="1.9" />
<rect x="1064.15" y="1617.85" width="21.5" height="7.95" fill="url(#chk2)" stroke="#000" stroke-width="1.9" />
<rect x="1097.65" y="1428.9" width="21.5" height="196.89" fill="#fff" stroke="#000" stroke-width="1.9" />
<rect x="1131.15" y="1492.24" width="21.5" height="133.56" fill="#cdf7e7" stroke="#000" stroke-width="1.9" />
<rect x="1164.65" y="1619.17" width="21.5" height="6.62" fill="url(#chk1)" stroke="#000" stroke-width="1.9" />
<rect x="1198.15" y="1619.17" width="21.5" height="6.62" fill="url(#chk2)" stroke="#000" stroke-width="1.9" />
<rect x="1231.65" y="1373.78" width="21.5" height="252.02" fill="#fff" stroke="#000" stroke-width="1.9" />
<rect x="1265.15" y="1507.88" width="21.5" height="117.92" fill="#cdf7e7" stroke="#000" stroke-width="1.9" />
<rect x="1298.65" y="1622.62" width="21.5" height="3.18" fill="url(#chk1)" stroke="#000" stroke-width="1.9" />
<rect x="1332.15" y="1622.62" width="21.5" height="3.18" fill="url(#chk2)" stroke="#000" stroke-width="1.9" />
<rect x="1365.65" y="1301.44" width="21.5" height="324.36" fill="#fff" stroke="#000" stroke-width="1.9" />
<rect x="1399.15" y="1414.86" width="21.5" height="210.94" fill="#cdf7e7" stroke="#000" stroke-width="1.9" />
<rect x="1432.65" y="1623.15" width="21.5" height="2.65" fill="url(#chk1)" stroke="#000" stroke-width="1.9" />
<rect x="1466.15" y="1620.5" width="21.5" height="5.3" fill="url(#chk2)" stroke="#000" stroke-width="1.9" />
<rect x="1499.65" y="1356.3" width="21.5" height="269.5" fill="#fff" stroke="#000" stroke-width="1.9" />
<rect x="1533.15" y="1536.49" width="21.5" height="89.31" fill="#cdf7e7" stroke="#000" stroke-width="1.9" />
<circle cx="1034.4" cy="1617.85" r="5.6" fill="#000" />
<circle cx="1039.4" cy="1613.88" r="5.6" fill="#000" />
<circle cx="1043.4" cy="1620.5" r="5.6" fill="#000" />
<circle cx="1048.4" cy="1620.5" r="5.6" fill="#000" />
<circle cx="1068.9" cy="1623.15" r="5.6" fill="#06bf74" />
<circle cx="1073.9" cy="1617.85" r="5.6" fill="#06bf74" />
<circle cx="1077.9" cy="1615.2" r="5.6" fill="#06bf74" />
<circle cx="1082.9" cy="1609.9" r="5.6" fill="#06bf74" />
<line x1="1074.9" y1="1613.88" x2="1074.9" y2="1621.83" stroke="#000" stroke-width="1.9" />
<line x1="1067.9" y1="1613.88" x2="1081.9" y2="1613.88" stroke="#000" stroke-width="1.9" />
<line x1="1067.9" y1="1621.83" x2="1081.9" y2="1621.83" stroke="#000" stroke-width="1.9" />
<circle cx="1108.4" cy="1409.3" r="5.6" fill="#000" />
<circle cx="1108.4" cy="1424.4" r="5.6" fill="#000" />
<circle cx="1101.5" cy="1442.15" r="5.6" fill="#000" />
<circle cx="1115.8" cy="1436.86" r="5.6" fill="#000" />
<line x1="1108.4" y1="1420.95" x2="1108.4" y2="1437.65" stroke="#000" stroke-width="1.9" />
<line x1="1101.4" y1="1420.95" x2="1115.4" y2="1420.95" stroke="#000" stroke-width="1.9" />
<line x1="1101.4" y1="1437.65" x2="1115.4" y2="1437.65" stroke="#000" stroke-width="1.9" />
<circle cx="1141.9" cy="1455.4" r="5.6" fill="#06bf74" />
<circle cx="1141.9" cy="1496.74" r="5.6" fill="#06bf74" />
<circle cx="1135.2" cy="1507.08" r="5.6" fill="#06bf74" />
<circle cx="1148.8" cy="1507.08" r="5.6" fill="#06bf74" />
<line x1="1141.9" y1="1479.52" x2="1141.9" y2="1504.16" stroke="#000" stroke-width="1.9" />
<line x1="1134.9" y1="1479.52" x2="1148.9" y2="1479.52" stroke="#000" stroke-width="1.9" />
<line x1="1134.9" y1="1504.16" x2="1148.9" y2="1504.16" stroke="#000" stroke-width="1.9" />
<circle cx="1169.4" cy="1619.17" r="5.6" fill="#000" />
<circle cx="1174.4" cy="1616.52" r="5.6" fill="#000" />
<circle cx="1179.4" cy="1619.17" r="5.6" fill="#000" />
<circle cx="1183.4" cy="1620.5" r="5.6" fill="#000" />
<circle cx="1202.9" cy="1619.17" r="5.6" fill="#06bf74" />
<circle cx="1208.9" cy="1617.85" r="5.6" fill="#06bf74" />
<circle cx="1214.9" cy="1619.17" r="5.6" fill="#06bf74" />
<circle cx="1237.1" cy="1375.38" r="5.6" fill="#000" />
<circle cx="1251.3" cy="1371.93" r="5.6" fill="#000" />
<circle cx="1275.9" cy="1496.74" r="5.6" fill="#06bf74" />
<circle cx="1275.9" cy="1516.36" r="5.6" fill="#06bf74" />
<line x1="1275.9" y1="1498.6" x2="1275.9" y2="1517.15" stroke="#000" stroke-width="1.9" />
<line x1="1268.9" y1="1498.6" x2="1282.9" y2="1498.6" stroke="#000" stroke-width="1.9" />
<line x1="1268.9" y1="1517.15" x2="1282.9" y2="1517.15" stroke="#000" stroke-width="1.9" />
<circle cx="1303.4" cy="1622.62" r="5.6" fill="#000" />
<circle cx="1309.4" cy="1622.09" r="5.6" fill="#000" />
<circle cx="1315.4" cy="1622.62" r="5.6" fill="#000" />
<circle cx="1336.9" cy="1622.62" r="5.6" fill="#06bf74" />
<circle cx="1342.9" cy="1621.56" r="5.6" fill="#06bf74" />
<circle cx="1348.9" cy="1622.62" r="5.6" fill="#06bf74" />
<line x1="1342.9" y1="1622.36" x2="1342.9" y2="1622.88" stroke="#000" stroke-width="1.9" />
<line x1="1335.9" y1="1622.36" x2="1349.9" y2="1622.36" stroke="#000" stroke-width="1.9" />
<line x1="1335.9" y1="1622.88" x2="1349.9" y2="1622.88" stroke="#000" stroke-width="1.9" />
<circle cx="1376.4" cy="1217.7" r="5.6" fill="#000" />
<circle cx="1369.7" cy="1345.69" r="5.6" fill="#000" />
<circle cx="1383.5" cy="1338.28" r="5.6" fill="#000" />
<line x1="1376.4" y1="1259.3" x2="1376.4" y2="1343.58" stroke="#000" stroke-width="1.9" />
<line x1="1369.4" y1="1259.3" x2="1383.4" y2="1259.3" stroke="#000" stroke-width="1.9" />
<line x1="1369.4" y1="1343.58" x2="1383.4" y2="1343.58" stroke="#000" stroke-width="1.9" />
<circle cx="1402.9" cy="1404.53" r="5.6" fill="#06bf74" />
<circle cx="1409.9" cy="1395.78" r="5.6" fill="#06bf74" />
<circle cx="1416.9" cy="1410.36" r="5.6" fill="#06bf74" />
<circle cx="1409.9" cy="1447.98" r="5.6" fill="#06bf74" />
<line x1="1409.9" y1="1403.2" x2="1409.9" y2="1427.05" stroke="#000" stroke-width="1.9" />
<line x1="1402.9" y1="1403.2" x2="1416.9" y2="1403.2" stroke="#000" stroke-width="1.9" />
<line x1="1402.9" y1="1427.05" x2="1416.9" y2="1427.05" stroke="#000" stroke-width="1.9" />
<circle cx="1437.4" cy="1624.47" r="5.6" fill="#000" />
<circle cx="1443.4" cy="1622.62" r="5.6" fill="#000" />
<circle cx="1449.4" cy="1623.15" r="5.6" fill="#000" />
<circle cx="1470.9" cy="1624.47" r="5.6" fill="#06bf74" />
<circle cx="1476.9" cy="1622.62" r="5.6" fill="#06bf74" />
<circle cx="1482.9" cy="1617.85" r="5.6" fill="#06bf74" />
<circle cx="1479.9" cy="1613.88" r="5.6" fill="#06bf74" />
<line x1="1476.9" y1="1617.85" x2="1476.9" y2="1623.15" stroke="#000" stroke-width="1.9" />
<line x1="1469.9" y1="1617.85" x2="1483.9" y2="1617.85" stroke="#000" stroke-width="1.9" />
<line x1="1469.9" y1="1623.15" x2="1483.9" y2="1623.15" stroke="#000" stroke-width="1.9" />
<circle cx="1510.4" cy="1287.39" r="5.6" fill="#000" />
<circle cx="1510.4" cy="1364.78" r="5.6" fill="#000" />
<circle cx="1510.4" cy="1373.78" r="5.6" fill="#000" />
<circle cx="1510.4" cy="1397.9" r="5.6" fill="#000" />
<line x1="1510.4" y1="1331.91" x2="1510.4" y2="1379.62" stroke="#000" stroke-width="1.9" />
<line x1="1503.4" y1="1331.91" x2="1517.4" y2="1331.91" stroke="#000" stroke-width="1.9" />
<line x1="1503.4" y1="1379.62" x2="1517.4" y2="1379.62" stroke="#000" stroke-width="1.9" />
<circle cx="1537.1" cy="1525.1" r="5.6" fill="#06bf74" />
<circle cx="1550.7" cy="1519.8" r="5.6" fill="#06bf74" />
<circle cx="1543.9" cy="1538.35" r="5.6" fill="#06bf74" />
<circle cx="1543.9" cy="1559.02" r="5.6" fill="#06bf74" />
<line x1="1543.9" y1="1527.75" x2="1543.9" y2="1546.3" stroke="#000" stroke-width="1.9" />
<line x1="1536.9" y1="1527.75" x2="1550.9" y2="1527.75" stroke="#000" stroke-width="1.9" />
<line x1="1536.9" y1="1546.3" x2="1550.9" y2="1546.3" stroke="#000" stroke-width="1.9" />
<line x1="1031.1" y1="1636.6" x2="1153.2" y2="1636.6" stroke="#000" stroke-width="1.7" />
<text x="1091" y="1667.3" font-size="21.5" text-anchor="middle" >Subject 1</text>
<line x1="1165.1" y1="1636.6" x2="1287.2" y2="1636.6" stroke="#000" stroke-width="1.7" />
<text x="1225" y="1667.3" font-size="21.5" text-anchor="middle" >Subject 2</text>
<line x1="1299.1" y1="1636.6" x2="1421.2" y2="1636.6" stroke="#000" stroke-width="1.7" />
<text x="1359" y="1667.3" font-size="21.5" text-anchor="middle" >Subject 3</text>
<line x1="1433.1" y1="1636.6" x2="1555.2" y2="1636.6" stroke="#000" stroke-width="1.7" />
<text x="1493" y="1667.3" font-size="21.5" text-anchor="middle" >Subject 4</text>
<rect x="1012.6" y="1203.3" width="28.3" height="9.8" fill="url(#chk1)" stroke="#000" stroke-width="1.8" />
<text x="1059.4" y="1215" font-size="21.5" >Vehicle - Ctrl</text>
<rect x="1012.6" y="1229.3" width="28.3" height="9.8" fill="url(#chk2)" stroke="#000" stroke-width="1.8" />
<text x="1059.4" y="1241" font-size="21.5" >Oxalate - Ctrl</text>
<rect x="1012.6" y="1255.3" width="28.3" height="9.8" fill="#fff" stroke="#000" stroke-width="1.8" />
<text x="1059.4" y="1267" font-size="21.5" >Vehicle - &#160;Zy/op</text>
<rect x="1012.6" y="1281.3" width="28.3" height="9.8" fill="#cdf7e7" stroke="#000" stroke-width="1.8" />
<text x="1059.4" y="1293" font-size="21.5" >Oxalate - Zy/op</text>
<text x="1076.3" y="1388.9" font-size="19.5" ><tspan font-style="italic">P</tspan> = 0.0221</text>
<line x1="1108" y1="1395.8" x2="1141.5" y2="1395.8" stroke="#000" stroke-width="1.8" />
<text x="1213.8" y="1351.6" font-size="20" ><tspan font-style="italic">P</tspan> &lt; 0.0001</text>
<line x1="1243.3" y1="1357.8" x2="1276.7" y2="1357.8" stroke="#000" stroke-width="1.8" />
<text x="1345.2" y="1199.3" font-size="20" ><tspan font-style="italic">P</tspan> &lt; 0.0001</text>
<line x1="1375.6" y1="1204.6" x2="1409.2" y2="1204.6" stroke="#000" stroke-width="1.8" />
<text x="1478.3" y="1267.9" font-size="20" ><tspan font-style="italic">P</tspan> &lt; 0.0001</text>
<line x1="1509.4" y1="1273.2" x2="1543.3" y2="1273.2" stroke="#000" stroke-width="1.8" />
<text transform="translate(942.5,1413) rotate(-90)" font-size="23.7" text-anchor="middle" >ROS (AUC x10<tspan dy="-10" font-size="16.5">6</tspan><tspan dy="10">)</tspan></text>
<text x="1652" y="1194.9" font-size="52.5" font-weight="bold" >g</text>
<g transform="translate(1676.5,1219.6) scale(1,1.01)" fill="#111"><circle cx="15" cy="5.2" r="5.2"/><path d="M10,11.5 L20,11.5 Q21.2,11.5 22,12.4 L29.6,21 L27.2,23.4 L20.6,16.6 L20.6,28 L9.4,28 L9.4,16.6 L2.8,23.4 L0.4,21 L8,12.4 Q8.8,11.5 10,11.5 Z"/><rect x="9.4" y="26" width="5" height="19" rx="1.6"/><rect x="15.6" y="26" width="5" height="19" rx="1.6"/></g>
<line x1="1764" y1="1212" x2="1764" y2="1635.3" stroke="#000" stroke-width="2" />
<line x1="1756" y1="1635.3" x2="1764" y2="1635.3" stroke="#000" stroke-width="2" />
<text x="1752" y="1642.97" font-size="21.3" text-anchor="end" >0.0</text>
<line x1="1756" y1="1550.6" x2="1764" y2="1550.6" stroke="#000" stroke-width="2" />
<text x="1752" y="1558.27" font-size="21.3" text-anchor="end" >0.6</text>
<line x1="1756" y1="1465.9" x2="1764" y2="1465.9" stroke="#000" stroke-width="2" />
<text x="1752" y="1473.57" font-size="21.3" text-anchor="end" >1.2</text>
<line x1="1756" y1="1381.2" x2="1764" y2="1381.2" stroke="#000" stroke-width="2" />
<text x="1752" y="1388.87" font-size="21.3" text-anchor="end" >1.8</text>
<line x1="1756" y1="1296.5" x2="1764" y2="1296.5" stroke="#000" stroke-width="2" />
<text x="1752" y="1304.17" font-size="21.3" text-anchor="end" >2.4</text>
<line x1="1756" y1="1211.8" x2="1764" y2="1211.8" stroke="#000" stroke-width="2" />
<text x="1752" y="1219.47" font-size="21.3" text-anchor="end" >3.0</text>
<rect x="1793.4" y="1488.4" width="36.3" height="146.9" fill="#fff" stroke="#000" stroke-width="1.85" />
<rect x="1849.4" y="1428.6" width="36.8" height="206.7" fill="#cdf7e7" stroke="#000" stroke-width="1.85" />
<rect x="1905.7" y="1549.7" width="36.5" height="85.6" fill="#c3c3fa" stroke="#000" stroke-width="1.85" />
<circle cx="1811.5" cy="1445.7" r="6.5" fill="#000" />
<circle cx="1811.5" cy="1475.2" r="6.5" fill="#000" />
<circle cx="1811.5" cy="1491" r="6.5" fill="#000" />
<circle cx="1811.5" cy="1500.4" r="6.5" fill="#000" />
<circle cx="1811.5" cy="1528.4" r="6.5" fill="#000" />
<line x1="1811.5" y1="1474.8" x2="1811.5" y2="1501.5" stroke="#000" stroke-width="2" />
<line x1="1802.5" y1="1474.8" x2="1820.5" y2="1474.8" stroke="#000" stroke-width="2" />
<line x1="1802.5" y1="1501.5" x2="1820.5" y2="1501.5" stroke="#000" stroke-width="2" />
<circle cx="1867.8" cy="1396.4" r="6.5" fill="#06bf74" />
<circle cx="1867.8" cy="1418.3" r="6.5" fill="#06bf74" />
<circle cx="1858.6" cy="1438" r="6.5" fill="#06bf74" />
<circle cx="1876.1" cy="1438" r="6.5" fill="#06bf74" />
<circle cx="1867.8" cy="1448.3" r="6.5" fill="#06bf74" />
<line x1="1867.8" y1="1418.7" x2="1867.8" y2="1437.4" stroke="#000" stroke-width="2" />
<line x1="1858.8" y1="1418.7" x2="1876.8" y2="1418.7" stroke="#000" stroke-width="2" />
<line x1="1858.8" y1="1437.4" x2="1876.8" y2="1437.4" stroke="#000" stroke-width="2" />
<circle cx="1915.5" cy="1535.4" r="6.5" fill="#0000bf" />
<circle cx="1933" cy="1535.4" r="6.5" fill="#0000bf" />
<circle cx="1924.3" cy="1548.6" r="6.5" fill="#0000bf" />
<circle cx="1924.3" cy="1577" r="6.5" fill="#0000bf" />
<line x1="1924" y1="1539.2" x2="1924" y2="1559.1" stroke="#000" stroke-width="2" />
<line x1="1915" y1="1539.2" x2="1933" y2="1539.2" stroke="#000" stroke-width="2" />
<line x1="1915" y1="1559.1" x2="1933" y2="1559.1" stroke="#000" stroke-width="2" />
<line x1="1794" y1="1646" x2="1943.6" y2="1646" stroke="#000" stroke-width="1.6" />
<rect x="1775.8" y="1213.6" width="29" height="10" fill="#fff" stroke="#000" stroke-width="1.8" />
<text x="1823.6" y="1225.5" font-size="20.5" >Vehicle</text>
<rect x="1775.8" y="1238.4" width="29" height="10" fill="#cdf7e7" stroke="#000" stroke-width="1.8" />
<text x="1823.6" y="1250.3" font-size="20.5" >Oxalate</text>
<rect x="1775.8" y="1261.3" width="29" height="10" fill="#c3c3fa" stroke="#000" stroke-width="1.8" />
<text x="1823.6" y="1273" font-size="20.5" >TEPP-46</text>
<text x="1818.1" y="1326.2" font-size="20" ><tspan font-style="italic">P</tspan> = 0.0087</text>
<line x1="1813.1" y1="1332.4" x2="1923.9" y2="1332.4" stroke="#000" stroke-width="1.8" />
<text x="1795.1" y="1369.6" font-size="20" ><tspan font-style="italic">P</tspan> = 0.0066</text>
<line x1="1814.4" y1="1376.6" x2="1870.7" y2="1376.6" stroke="#000" stroke-width="1.8" />
<text transform="translate(1705.5,1425) rotate(-90)" font-size="23.7" text-anchor="middle" ><tspan font-style="italic">S. aureus</tspan> (CFU/mL x10<tspan dy="-10" font-size="16.5">6</tspan><tspan dy="10">)</tspan></text>
<text x="47" y="1850.5" font-size="52.5" font-weight="bold" >f</text>
<g transform="translate(34.3,1877.9) scale(0.98,1)" fill="#111"><circle cx="15" cy="5.2" r="5.2"/><path d="M10,11.5 L20,11.5 Q21.2,11.5 22,12.4 L29.6,21 L27.2,23.4 L20.6,16.6 L20.6,28 L9.4,28 L9.4,16.6 L2.8,23.4 L0.4,21 L8,12.4 Q8.8,11.5 10,11.5 Z"/><rect x="9.4" y="26" width="5" height="19" rx="1.6"/><rect x="15.6" y="26" width="5" height="19" rx="1.6"/></g>
<line x1="118.8" y1="1847.7" x2="118.8" y2="2273.5" stroke="#000" stroke-width="2" />
<line x1="108.3" y1="2273.5" x2="118.8" y2="2273.5" stroke="#000" stroke-width="2" />
<text x="104.3" y="2281.24" font-size="21.5" text-anchor="end" >0.0</text>
<line x1="108.3" y1="2188.3" x2="118.8" y2="2188.3" stroke="#000" stroke-width="2" />
<text x="104.3" y="2196.04" font-size="21.5" text-anchor="end" >0.4</text>
<line x1="108.3" y1="2103.1" x2="118.8" y2="2103.1" stroke="#000" stroke-width="2" />
<text x="104.3" y="2110.84" font-size="21.5" text-anchor="end" >0.8</text>
<line x1="108.3" y1="2017.9" x2="118.8" y2="2017.9" stroke="#000" stroke-width="2" />
<text x="104.3" y="2025.64" font-size="21.5" text-anchor="end" >1.2</text>
<line x1="108.3" y1="1932.7" x2="118.8" y2="1932.7" stroke="#000" stroke-width="2" />
<text x="104.3" y="1940.44" font-size="21.5" text-anchor="end" >1.6</text>
<line x1="108.3" y1="1847.5" x2="118.8" y2="1847.5" stroke="#000" stroke-width="2" />
<text x="104.3" y="1855.24" font-size="21.5" text-anchor="end" >2.0</text>
<line x1="146.2" y1="2302" x2="797.8" y2="2302" stroke="#000" stroke-width="2" />
<line x1="146.2" y1="2302" x2="146.2" y2="2311.5" stroke="#000" stroke-width="2" />
<text x="146.2" y="2338" font-size="21.5" text-anchor="middle" >0</text>
<line x1="254.8" y1="2302" x2="254.8" y2="2311.5" stroke="#000" stroke-width="2" />
<text x="254.8" y="2338" font-size="21.5" text-anchor="middle" >10</text>
<line x1="363.4" y1="2302" x2="363.4" y2="2311.5" stroke="#000" stroke-width="2" />
<text x="363.4" y="2338" font-size="21.5" text-anchor="middle" >20</text>
<line x1="472" y1="2302" x2="472" y2="2311.5" stroke="#000" stroke-width="2" />
<text x="472" y="2338" font-size="21.5" text-anchor="middle" >30</text>
<line x1="580.6" y1="2302" x2="580.6" y2="2311.5" stroke="#000" stroke-width="2" />
<text x="580.6" y="2338" font-size="21.5" text-anchor="middle" >40</text>
<line x1="689.2" y1="2302" x2="689.2" y2="2311.5" stroke="#000" stroke-width="2" />
<text x="689.2" y="2338" font-size="21.5" text-anchor="middle" >50</text>
<line x1="797.8" y1="2302" x2="797.8" y2="2311.5" stroke="#000" stroke-width="2" />
<text x="797.8" y="2338" font-size="21.5" text-anchor="middle" >60</text>
<text x="472" y="2372.6" font-size="22.8" text-anchor="middle" >Time (min)</text>
<text transform="translate(61.7,2059) rotate(-90)" font-size="23.8" text-anchor="middle" >ROS (cpm x10<tspan dy="-10" font-size="16.5">3</tspan><tspan dy="10">)</tspan></text>
<polyline points="146.2,2270.84 158.95,2270.74 171.69,2270.98 184.44,2274.42 197.18,2272.26 209.93,2272.97 222.67,2272.52 235.42,2274.22 248.16,2273.96 260.91,2272.88 273.65,2273.84 286.4,2272.84 299.14,2274.67 311.89,2274.41 324.63,2271.75 337.38,2272.98 350.12,2272.59 362.87,2271.65 375.61,2273.25 388.36,2274.53 401.1,2271.44 413.85,2272.27 426.59,2271.98 439.34,2272.13 452.08,2270.64 464.83,2273.23 477.57,2271.54 490.32,2273.21 503.06,2272.34 515.81,2271.96 528.55,2273.44 541.3,2274.41 554.04,2272.76 566.79,2271.72 579.53,2272.26 592.28,2272.87 605.02,2272.04 617.77,2274 630.51,2274.02 643.26,2273.4 656,2271.3 668.75,2273.94 681.49,2274.29 694.24,2274.36 706.98,2274.61 719.73,2273.6 732.47,2272.34 745.22,2271.28 757.96,2273.37 770.71,2273.2 783.45,2273.55 796.2,2273.48" fill="none" stroke="#1111b2" stroke-width="2.7" stroke-linejoin="miter" stroke-dasharray="9,5.5"/>
<polyline points="146.2,2273.15 158.95,2270.36 171.69,2270.65 184.44,2271.48 197.18,2272.88 209.93,2269.81 222.67,2269.73 235.42,2271.3 248.16,2271.34 260.91,2272.78 273.65,2274.02 286.4,2272.06 299.14,2270.92 311.89,2273.66 324.63,2269.81 337.38,2272.8 350.12,2272.79 362.87,2273.81 375.61,2268.72 388.36,2270.1 401.1,2269.37 413.85,2270.75 426.59,2273.85 439.34,2272.28 452.08,2271.38 464.83,2273.42 477.57,2268.96 490.32,2272.07 503.06,2273.21 515.81,2269.68 528.55,2273.37 541.3,2269.09 554.04,2271.62 566.79,2271.09 579.53,2272.21 592.28,2271.45 605.02,2273.04 617.77,2273.83 630.51,2269.42 643.26,2272.78 656,2269.88 668.75,2272.92 681.49,2268.87 694.24,2269.27 706.98,2270.01 719.73,2269.97 732.47,2270.94 745.22,2270.15 757.96,2273.38 770.71,2271.5 783.45,2269.63 796.2,2272.96" fill="none" stroke="#000" stroke-width="2.7" stroke-linejoin="miter" stroke-dasharray="9,5.5"/>
<polyline points="146.2,2273.5 158.95,2273.07 171.69,2273.5 184.44,2273.29 197.18,2273.5 209.93,2268.81 222.67,2268.81 235.42,2263.7 248.16,2259.66 260.91,2252.63 273.65,2242.19 286.4,2235.37 299.14,2227.92 311.89,2230.69 324.63,2202.78 337.38,2190.86 350.12,2187.45 362.87,2174.03 375.61,2171.69 388.36,2138.03 401.1,2142.08 413.85,2122.48 426.59,2122.48 439.34,2099.91 452.08,2087.76 464.83,2070.3 477.57,2049.42 490.32,2062.42 503.06,2029.19 515.81,2032.81 528.55,2000.22 541.3,1998.09 554.04,1978.28 566.79,1985.31 579.53,2013.64 592.28,1981.69 605.02,1987.65 617.77,1993.4 630.51,1980.62 643.26,2002.14 656,1984.46 668.75,1975.3 681.49,1988.29 694.24,2008.32 706.98,1993.4 719.73,1999.8 732.47,2002.14 745.22,2000.86 757.96,2000.86 770.71,1985.31 783.45,2001.07 796.2,1996.17" fill="none" stroke="#1111b2" stroke-width="2.6" stroke-linejoin="miter" />
<polyline points="146.2,2273.5 158.95,2271.58 171.69,2273.5 184.44,2269.88 197.18,2273.07 209.93,2271.37 222.67,2266.05 235.42,2262.42 248.16,2254.97 260.91,2249.43 273.65,2240.06 286.4,2236.01 299.14,2210.45 311.89,2205.34 324.63,2173.18 337.38,2173.82 350.12,2130.79 362.87,2153.16 375.61,2121.63 388.36,2106.51 401.1,2090.96 413.85,2100.33 426.59,2089.26 439.34,2071.15 452.08,2069.45 464.83,2056.45 477.57,2063.91 490.32,2056.88 503.06,2025.36 515.81,2042.82 528.55,2021.95 541.3,2034.3 554.04,2026.85 566.79,2027.06 579.53,2032.38 592.28,2045.38 605.02,2044.74 617.77,2032.81 630.51,2043.25 643.26,2043.89 656,2054.96 668.75,2028.98 681.49,2051.34 694.24,2054.11 706.98,2066.89 719.73,2079.46 732.47,2047.93 745.22,2076.26 757.96,2090.11 770.71,2083.08 783.45,2087.98 796.2,2099.05" fill="none" stroke="#000" stroke-width="2.6" stroke-linejoin="miter" />
<line x1="129.8" y1="1853.3" x2="161.3" y2="1853.3" stroke="#000" stroke-width="3" stroke-dasharray="8.5,6"/>
<line x1="129.8" y1="1882.7" x2="161.3" y2="1882.7" stroke="#1111b2" stroke-width="3" stroke-dasharray="8.5,6"/>
<text x="178.6" y="1861.8" font-size="21.5" >Vehicle - Ctrl</text>
<text x="178.6" y="1890" font-size="21.5" >TEPP-46 - Ctrl</text>
<line x1="458.9" y1="1853.3" x2="489.9" y2="1853.3" stroke="#000" stroke-width="2.5" />
<line x1="458.9" y1="1882.7" x2="489.9" y2="1882.7" stroke="#1111b2" stroke-width="2.5" />
<text x="507.3" y="1861.8" font-size="21.5" >Vehicle - Zy/op</text>
<text x="507.3" y="1890" font-size="21.5" >TEPP-46 - Zy/op</text>
<line x1="999.1" y1="1848.8" x2="999.1" y2="2272.8" stroke="#000" stroke-width="2" />
<line x1="991.1" y1="2272.8" x2="999.1" y2="2272.8" stroke="#000" stroke-width="2" />
<text x="987.1" y="2280.47" font-size="21.3" text-anchor="end" >0</text>
<line x1="991.1" y1="2166.8" x2="999.1" y2="2166.8" stroke="#000" stroke-width="2" />
<text x="987.1" y="2174.47" font-size="21.3" text-anchor="end" >1</text>
<line x1="991.1" y1="2060.8" x2="999.1" y2="2060.8" stroke="#000" stroke-width="2" />
<text x="987.1" y="2068.47" font-size="21.3" text-anchor="end" >2</text>
<line x1="991.1" y1="1954.8" x2="999.1" y2="1954.8" stroke="#000" stroke-width="2" />
<text x="987.1" y="1962.47" font-size="21.3" text-anchor="end" >3</text>
<line x1="991.1" y1="1848.8" x2="999.1" y2="1848.8" stroke="#000" stroke-width="2" />
<text x="987.1" y="1856.47" font-size="21.3" text-anchor="end" >4</text>
<rect x="1028.75" y="2271.21" width="21.5" height="1.59" fill="url(#chk1)" stroke="#000" stroke-width="1.9" />
<rect x="1062.25" y="2271.21" width="21.5" height="1.59" fill="url(#chk3)" stroke="#000" stroke-width="1.9" />
<rect x="1095.75" y="2145.6" width="21.5" height="127.2" fill="#fff" stroke="#000" stroke-width="1.9" />
<rect x="1129.25" y="2132.35" width="21.5" height="140.45" fill="#c3c3fa" stroke="#000" stroke-width="1.9" />
<rect x="1162.75" y="2271.21" width="21.5" height="1.59" fill="url(#chk1)" stroke="#000" stroke-width="1.9" />
<rect x="1196.25" y="2271.21" width="21.5" height="1.59" fill="url(#chk3)" stroke="#000" stroke-width="1.9" />
<rect x="1229.75" y="2175.81" width="21.5" height="96.99" fill="#fff" stroke="#000" stroke-width="1.9" />
<rect x="1263.25" y="2125.46" width="21.5" height="147.34" fill="#c3c3fa" stroke="#000" stroke-width="1.9" />
<rect x="1296.75" y="2271.21" width="21.5" height="1.59" fill="url(#chk1)" stroke="#000" stroke-width="1.9" />
<rect x="1330.25" y="2271.21" width="21.5" height="1.59" fill="url(#chk3)" stroke="#000" stroke-width="1.9" />
<rect x="1363.75" y="2041.72" width="21.5" height="231.08" fill="#fff" stroke="#000" stroke-width="1.9" />
<rect x="1397.25" y="2019.46" width="21.5" height="253.34" fill="#c3c3fa" stroke="#000" stroke-width="1.9" />
<rect x="1430.75" y="2271.21" width="21.5" height="1.59" fill="url(#chk1)" stroke="#000" stroke-width="1.9" />
<rect x="1464.25" y="2271.21" width="21.5" height="1.59" fill="url(#chk3)" stroke="#000" stroke-width="1.9" />
<rect x="1497.75" y="2012.04" width="21.5" height="260.76" fill="#fff" stroke="#000" stroke-width="1.9" />
<rect x="1531.25" y="1956.92" width="21.5" height="315.88" fill="#c3c3fa" stroke="#000" stroke-width="1.9" />
<circle cx="1031.5" cy="2271.53" r="5.6" fill="#000" />
<circle cx="1035.5" cy="2270.47" r="5.6" fill="#000" />
<circle cx="1039.5" cy="2271.53" r="5.6" fill="#000" />
<circle cx="1043.5" cy="2271" r="5.6" fill="#000" />
<circle cx="1047.5" cy="2271.53" r="5.6" fill="#000" />
<circle cx="1065" cy="2271.95" r="5.6" fill="#0000bf" />
<circle cx="1069" cy="2270.89" r="5.6" fill="#0000bf" />
<circle cx="1073" cy="2271.95" r="5.6" fill="#0000bf" />
<circle cx="1077" cy="2271.42" r="5.6" fill="#0000bf" />
<circle cx="1081" cy="2271.95" r="5.6" fill="#0000bf" />
<circle cx="1106.5" cy="2127.58" r="5.6" fill="#000" />
<circle cx="1106.5" cy="2138.18" r="5.6" fill="#000" />
<circle cx="1100.1" cy="2146.66" r="5.6" fill="#000" />
<circle cx="1113.9" cy="2153.02" r="5.6" fill="#000" />
<circle cx="1100.1" cy="2159.38" r="5.6" fill="#000" />
<line x1="1106.5" y1="2139.24" x2="1106.5" y2="2153.02" stroke="#000" stroke-width="1.9" />
<line x1="1099.5" y1="2139.24" x2="1113.5" y2="2139.24" stroke="#000" stroke-width="1.9" />
<line x1="1099.5" y1="2153.02" x2="1113.5" y2="2153.02" stroke="#000" stroke-width="1.9" />
<circle cx="1140" cy="2091.54" r="5.6" fill="#0000bf" />
<circle cx="1140" cy="2116.98" r="5.6" fill="#0000bf" />
<circle cx="1140" cy="2127.58" r="5.6" fill="#0000bf" />
<circle cx="1140" cy="2143.48" r="5.6" fill="#0000bf" />
<circle cx="1140" cy="2179.52" r="5.6" fill="#0000bf" />
<line x1="1140" y1="2116.98" x2="1140" y2="2148.78" stroke="#000" stroke-width="1.9" />
<line x1="1133" y1="2116.98" x2="1147" y2="2116.98" stroke="#000" stroke-width="1.9" />
<line x1="1133" y1="2148.78" x2="1147" y2="2148.78" stroke="#000" stroke-width="1.9" />
<circle cx="1165.5" cy="2271.53" r="5.6" fill="#000" />
<circle cx="1169.5" cy="2270.47" r="5.6" fill="#000" />
<circle cx="1173.5" cy="2271.53" r="5.6" fill="#000" />
<circle cx="1177.5" cy="2271" r="5.6" fill="#000" />
<circle cx="1181.5" cy="2271.53" r="5.6" fill="#000" />
<circle cx="1199" cy="2271.95" r="5.6" fill="#0000bf" />
<circle cx="1203" cy="2270.89" r="5.6" fill="#0000bf" />
<circle cx="1207" cy="2271.95" r="5.6" fill="#0000bf" />
<circle cx="1211" cy="2271.42" r="5.6" fill="#0000bf" />
<circle cx="1215" cy="2271.95" r="5.6" fill="#0000bf" />
<circle cx="1233.5" cy="2182.17" r="5.6" fill="#000" />
<circle cx="1240.5" cy="2172.1" r="5.6" fill="#000" />
<circle cx="1247.4" cy="2168.39" r="5.6" fill="#000" />
<circle cx="1247.4" cy="2178.46" r="5.6" fill="#000" />
<line x1="1240.5" y1="2172.1" x2="1240.5" y2="2179.52" stroke="#000" stroke-width="1.9" />
<line x1="1233.5" y1="2172.1" x2="1247.5" y2="2172.1" stroke="#000" stroke-width="1.9" />
<line x1="1233.5" y1="2179.52" x2="1247.5" y2="2179.52" stroke="#000" stroke-width="1.9" />
<circle cx="1274" cy="2067.16" r="5.6" fill="#0000bf" />
<circle cx="1267.1" cy="2136.06" r="5.6" fill="#0000bf" />
<circle cx="1280.9" cy="2139.24" r="5.6" fill="#0000bf" />
<circle cx="1274" cy="2157.26" r="5.6" fill="#0000bf" />
<line x1="1274" y1="2105.32" x2="1274" y2="2145.6" stroke="#000" stroke-width="1.9" />
<line x1="1267" y1="2105.32" x2="1281" y2="2105.32" stroke="#000" stroke-width="1.9" />
<line x1="1267" y1="2145.6" x2="1281" y2="2145.6" stroke="#000" stroke-width="1.9" />
<circle cx="1299.5" cy="2271.53" r="5.6" fill="#000" />
<circle cx="1303.5" cy="2270.47" r="5.6" fill="#000" />
<circle cx="1307.5" cy="2271.53" r="5.6" fill="#000" />
<circle cx="1311.5" cy="2271" r="5.6" fill="#000" />
<circle cx="1315.5" cy="2271.53" r="5.6" fill="#000" />
<circle cx="1333" cy="2271.95" r="5.6" fill="#0000bf" />
<circle cx="1337" cy="2270.89" r="5.6" fill="#0000bf" />
<circle cx="1341" cy="2271.95" r="5.6" fill="#0000bf" />
<circle cx="1345" cy="2271.42" r="5.6" fill="#0000bf" />
<circle cx="1349" cy="2271.95" r="5.6" fill="#0000bf" />
<circle cx="1374.5" cy="1962.22" r="5.6" fill="#000" />
<circle cx="1374.5" cy="2045.43" r="5.6" fill="#000" />
<circle cx="1381.5" cy="2063.98" r="5.6" fill="#000" />
<circle cx="1367.5" cy="2069.28" r="5.6" fill="#000" />
<circle cx="1374.5" cy="2062.92" r="5.6" fill="#000" />
<line x1="1374.5" y1="2021.05" x2="1374.5" y2="2061.86" stroke="#000" stroke-width="1.9" />
<line x1="1367.5" y1="2021.05" x2="1381.5" y2="2021.05" stroke="#000" stroke-width="1.9" />
<line x1="1367.5" y1="2061.86" x2="1381.5" y2="2061.86" stroke="#000" stroke-width="1.9" />
<circle cx="1408" cy="1970.7" r="5.6" fill="#0000bf" />
<circle cx="1408" cy="1986.6" r="5.6" fill="#0000bf" />
<circle cx="1408" cy="2036.42" r="5.6" fill="#0000bf" />
<circle cx="1401" cy="2052.32" r="5.6" fill="#0000bf" />
<circle cx="1415" cy="2049.14" r="5.6" fill="#0000bf" />
<line x1="1408" y1="2001.86" x2="1408" y2="2036.42" stroke="#000" stroke-width="1.9" />
<line x1="1401" y1="2001.86" x2="1415" y2="2001.86" stroke="#000" stroke-width="1.9" />
<line x1="1401" y1="2036.42" x2="1415" y2="2036.42" stroke="#000" stroke-width="1.9" />
<circle cx="1433.5" cy="2271.53" r="5.6" fill="#000" />
<circle cx="1437.5" cy="2270.47" r="5.6" fill="#000" />
<circle cx="1441.5" cy="2271.53" r="5.6" fill="#000" />
<circle cx="1445.5" cy="2271" r="5.6" fill="#000" />
<circle cx="1449.5" cy="2271.53" r="5.6" fill="#000" />
<circle cx="1467" cy="2271.95" r="5.6" fill="#0000bf" />
<circle cx="1471" cy="2270.89" r="5.6" fill="#0000bf" />
<circle cx="1475" cy="2271.95" r="5.6" fill="#0000bf" />
<circle cx="1479" cy="2271.42" r="5.6" fill="#0000bf" />
<circle cx="1483" cy="2271.95" r="5.6" fill="#0000bf" />
<circle cx="1505" cy="1995.08" r="5.6" fill="#000" />
<circle cx="1512" cy="1997.2" r="5.6" fill="#000" />
<circle cx="1508.5" cy="2016.28" r="5.6" fill="#000" />
<circle cx="1501.5" cy="2024.76" r="5.6" fill="#000" />
<circle cx="1515.5" cy="2022.64" r="5.6" fill="#000" />
<line x1="1508.5" y1="2005.68" x2="1508.5" y2="2018.4" stroke="#000" stroke-width="1.9" />
<line x1="1501.5" y1="2005.68" x2="1515.5" y2="2005.68" stroke="#000" stroke-width="1.9" />
<line x1="1501.5" y1="2018.4" x2="1515.5" y2="2018.4" stroke="#000" stroke-width="1.9" />
<circle cx="1542" cy="1895.44" r="5.6" fill="#0000bf" />
<circle cx="1542" cy="1909.22" r="5.6" fill="#0000bf" />
<circle cx="1542" cy="1969.64" r="5.6" fill="#0000bf" />
<circle cx="1542" cy="1995.08" r="5.6" fill="#0000bf" />
<circle cx="1542" cy="2010.98" r="5.6" fill="#0000bf" />
<line x1="1542" y1="1932.54" x2="1542" y2="1979.18" stroke="#000" stroke-width="1.9" />
<line x1="1535" y1="1932.54" x2="1549" y2="1932.54" stroke="#000" stroke-width="1.9" />
<line x1="1535" y1="1979.18" x2="1549" y2="1979.18" stroke="#000" stroke-width="1.9" />
<line x1="1028.8" y1="2285.2" x2="1150.9" y2="2285.2" stroke="#000" stroke-width="1.7" />
<text x="1088.8" y="2311.5" font-size="21.5" text-anchor="middle" >Subject 1</text>
<line x1="1162.8" y1="2285.2" x2="1284.9" y2="2285.2" stroke="#000" stroke-width="1.7" />
<text x="1222.8" y="2311.5" font-size="21.5" text-anchor="middle" >Subject 2</text>
<line x1="1296.8" y1="2285.2" x2="1418.9" y2="2285.2" stroke="#000" stroke-width="1.7" />
<text x="1356.8" y="2311.5" font-size="21.5" text-anchor="middle" >Subject 3</text>
<line x1="1430.8" y1="2285.2" x2="1552.9" y2="2285.2" stroke="#000" stroke-width="1.7" />
<text x="1490.8" y="2311.5" font-size="21.5" text-anchor="middle" >Subject 4</text>
<rect x="1010.9" y="1850.8" width="28.4" height="9.8" fill="url(#chk1)" stroke="#000" stroke-width="1.8" />
<text x="1057.8" y="1862.6" font-size="21.5" >Vehicle - Ctrl</text>
<rect x="1010.9" y="1877.7" width="28.4" height="9.8" fill="url(#chk3)" stroke="#000" stroke-width="1.8" />
<text x="1057.8" y="1889.6" font-size="21.5" >TEPP-46 - Ctrl</text>
<rect x="1010.9" y="1904.6" width="28.4" height="9.8" fill="#fff" stroke="#000" stroke-width="1.8" />
<text x="1057.8" y="1916.6" font-size="21.5" >Vehicle - &#160;Zy/op</text>
<rect x="1010.9" y="1931.5" width="28.4" height="9.8" fill="#c3c3fa" stroke="#000" stroke-width="1.8" />
<text x="1057.8" y="1943.6" font-size="21.5" >TEPP-46 - Zy/op</text>
<text x="1208.8" y="2047" font-size="19.5" ><tspan font-style="italic">P</tspan> = 0.0452</text>
<line x1="1239.2" y1="2053.2" x2="1273.7" y2="2053.2" stroke="#000" stroke-width="1.8" />
<text x="1480.4" y="1876.8" font-size="19.5" ><tspan font-style="italic">P</tspan> = 0.0486</text>
<line x1="1509.9" y1="1883.2" x2="1543.8" y2="1883.2" stroke="#000" stroke-width="1.8" />
<text transform="translate(942.5,2060) rotate(-90)" font-size="23.7" text-anchor="middle" >ROS (AUC x10<tspan dy="-10" font-size="16.5">6</tspan><tspan dy="10">)</tspan></text>
<defs><linearGradient id="bgd" x1="0" y1="0" x2="1" y2="1"><stop offset="0" stop-color="#202020"/><stop offset="0.5" stop-color="#1c1c1c"/><stop offset="1" stop-color="#242424"/></linearGradient></defs>
<rect x="1769.2" y="548.2" width="228.4" height="562.8" fill="url(#bgd)" stroke="none" stroke-width="0" />
<line x1="1770.2" y1="548.2" x2="1770.2" y2="1111" stroke="#3a3a3a" stroke-width="2" />
<defs><radialGradient id="ag1" cx="0.5" cy="0.5" r="0.5"><stop offset="0" stop-color="#b4b8af"/><stop offset="0.87" stop-color="#aeb3aa"/><stop offset="0.915" stop-color="#c6c8c2"/><stop offset="0.965" stop-color="#bfc1c0"/><stop offset="1" stop-color="#8c8c9c"/></radialGradient></defs>
<circle cx="1880" cy="663.5" r="99.2" fill="#3a3a4c" />
<circle cx="1880" cy="663.5" r="97.6" fill="url(#ag1)" />
<circle cx="1880" cy="663.5" r="95.1" fill="none" stroke="#dadbdc" stroke-width="1.2" stroke-opacity="0.8"/>
<circle cx="1880" cy="663.5" r="88.1" fill="none" stroke="#cfd1cd" stroke-width="1.0" stroke-opacity="0.7"/>
<path d="M1822.4,679.1h0M1840.0,621.9h0M1808.1,697.0h0M1831.0,606.5h0M1828.5,615.2h0M1851.3,674.7h0M1824.6,663.0h0M1863.6,622.6h0M1868.5,657.5h0M1866.4,607.3h0M1822.2,609.7h0M1871.0,594.5h0M1870.6,599.1h0M1864.9,598.2h0M1809.0,646.5h0M1860.0,604.9h0M1835.1,608.7h0M1868.0,600.3h0M1872.2,596.6h0M1853.5,614.3h0M1860.8,611.6h0M1821.3,628.7h0M1841.1,630.3h0M1825.4,601.1h0M1852.8,609.3h0M1870.4,637.3h0M1867.5,640.9h0M1854.9,613.0h0M1844.7,674.2h0M1846.1,598.5h0M1869.0,623.7h0M1846.5,589.6h0M1839.2,621.2h0M1836.5,605.3h0M1872.2,703.6h0M1842.1,693.3h0M1833.7,650.4h0M1853.2,621.8h0M1829.3,634.5h0M1835.3,633.0h0M1850.5,609.3h0M1824.2,623.1h0M1875.9,606.6h0M1852.5,596.6h0M1863.3,616.0h0M1850.1,609.0h0M1832.0,642.9h0M1848.9,639.1h0M1863.6,659.0h0M1823.2,626.3h0M1876.3,582.6h0M1833.8,615.2h0M1857.6,607.6h0M1828.5,629.4h0M1874.5,704.1h0M1841.3,673.1h0M1857.3,648.5h0M1863.2,599.4h0M1835.2,627.4h0M1866.2,660.3h0M1862.7,628.6h0M1844.0,627.4h0M1866.2,629.0h0M1849.2,609.5h0M1835.0,697.2h0M1864.8,591.6h0M1827.5,635.8h0M1874.5,628.4h0M1821.5,640.0h0M1873.2,693.3h0M1870.5,614.4h0M1855.1,663.4h0M1875.5,610.9h0M1849.1,648.1h0M1854.1,612.6h0M1831.2,610.2h0M1870.8,604.5h0M1840.8,644.4h0M1847.3,602.5h0M1838.7,680.7h0M1836.1,650.4h0M1910.6,608.2h0M1907.9,736.6h0M1915.1,729.8h0M1912.3,691.8h0M1909.3,614.2h0M1930.9,728.2h0M1908.2,632.0h0M1912.6,688.9h0M1923.4,666.2h0M1892.6,672.7h0M1898.0,670.3h0M1898.8,741.1h0M1891.2,664.3h0M1896.9,657.8h0M1921.1,687.7h0M1909.4,623.4h0M1898.8,717.0h0M1906.7,613.2h0M1916.0,639.4h0M1886.1,704.9h0M1885.5,630.1h0M1936.0,602.5h0M1939.1,685.5h0M1915.9,662.9h0M1893.5,724.1h0M1913.8,636.4h0M1903.5,666.0h0M1898.3,610.2h0M1890.4,667.2h0M1883.5,637.6h0M1909.7,616.7h0M1905.8,667.7h0M1890.9,609.6h0M1904.3,728.0h0M1883.8,646.4h0M1893.5,626.3h0M1893.4,632.4h0M1914.4,737.1h0M1906.4,674.3h0M1925.9,620.3h0M1918.8,643.4h0M1933.2,668.5h0M1911.3,600.4h0M1924.4,643.2h0M1940.9,667.2h0M1933.4,696.8h0M1909.6,744.8h0M1944.8,662.8h0M1919.9,628.1h0M1900.1,639.6h0M1919.2,715.0h0M1904.3,662.1h0M1926.6,629.2h0M1945.4,711.5h0M1893.2,652.4h0M1907.3,622.7h0M1890.9,712.0h0M1887.7,629.6h0M1892.4,739.1h0M1890.9,729.1h0M1888.7,688.8h0M1907.9,604.0h0M1890.3,698.4h0M1905.3,647.0h0M1887.7,637.7h0M1895.3,735.6h0M1894.9,675.9h0M1911.4,621.1h0M1903.3,699.8h0M1928.2,684.9h0M1931.8,627.2h0M1920.6,732.7h0M1915.9,715.4h0M1932.3,715.2h0M1917.4,641.0h0M1907.5,663.7h0M1936.8,724.9h0M1890.6,606.0h0M1898.8,612.6h0M1897.0,651.0h0M1910.1,694.8h0M1906.1,697.5h0M1891.9,588.2h0M1945.0,618.1h0M1900.9,731.3h0M1926.4,651.6h0M1896.2,585.2h0M1898.8,710.5h0M1938.8,650.5h0M1909.4,697.8h0M1905.5,652.9h0M1937.8,694.6h0M1953.1,691.2h0M1915.6,636.8h0M1931.4,732.6h0M1926.2,697.8h0M1900.7,720.5h0M1925.2,701.0h0M1890.7,618.0h0M1925.7,673.6h0M1901.2,729.7h0M1897.3,637.0h0M1945.5,633.8h0" fill="none" stroke="#dccf9e" stroke-width="2.4" stroke-linecap="round"/>
<path d="M1835.4,640.1h0M1863.7,621.8h0M1862.3,639.9h0M1864.8,610.5h0M1807.4,642.7h0M1810.1,637.0h0M1831.3,669.7h0M1847.0,620.7h0M1822.7,652.2h0M1876.1,600.3h0M1836.0,605.5h0M1866.2,705.8h0M1837.5,617.1h0M1832.9,615.5h0M1909.3,633.2h0M1916.0,731.8h0M1922.9,603.8h0M1919.9,732.1h0M1929.2,602.9h0M1902.6,584.2h0M1889.3,643.6h0M1941.4,704.8h0M1897.0,742.8h0M1896.2,633.4h0M1909.3,648.3h0M1902.2,605.1h0M1897.5,640.9h0M1919.0,674.3h0M1920.6,662.2h0M1946.2,689.0h0M1898.7,647.3h0" fill="none" stroke="#d8c890" stroke-width="3.2" stroke-linecap="round"/>
<line x1="1879.3" y1="566.5" x2="1879.3" y2="752.7" stroke="#000" stroke-width="2.6" />
<defs><radialGradient id="ag2" cx="0.5" cy="0.5" r="0.5"><stop offset="0" stop-color="#b0b7b3"/><stop offset="0.87" stop-color="#abb2ae"/><stop offset="0.915" stop-color="#c5c8c5"/><stop offset="0.965" stop-color="#bfc1c0"/><stop offset="1" stop-color="#8c8c9c"/></radialGradient></defs>
<circle cx="1883.5" cy="948.5" r="97.8" fill="#3a3a4c" />
<circle cx="1883.5" cy="948.5" r="96.2" fill="url(#ag2)" />
<circle cx="1883.5" cy="948.5" r="93.7" fill="none" stroke="#dadbdc" stroke-width="1.2" stroke-opacity="0.8"/>
<circle cx="1883.5" cy="948.5" r="86.7" fill="none" stroke="#cfd1cd" stroke-width="1.0" stroke-opacity="0.7"/>
<path d="M1828.7,889.0h0M1849.7,910.4h0M1823.2,929.2h0M1833.0,880.5h0M1875.3,979.4h0M1818.8,900.0h0M1820.8,929.7h0M1834.5,957.5h0M1802.0,963.9h0M1856.6,877.9h0M1853.2,887.3h0M1862.6,920.9h0M1823.9,983.7h0M1882.2,959.3h0M1836.1,919.1h0M1851.4,965.1h0M1855.3,916.3h0M1844.9,906.3h0M1865.5,965.4h0M1841.3,966.1h0M1847.8,883.8h0M1868.3,892.3h0M1833.4,908.8h0M1838.5,926.8h0M1829.1,962.8h0M1830.8,920.6h0M1850.2,910.3h0M1810.3,963.8h0M1843.4,950.0h0M1827.8,926.5h0M1825.3,951.5h0M1828.9,898.1h0M1827.4,945.5h0M1832.9,946.3h0M1868.6,892.8h0M1866.5,998.4h0M1852.3,945.6h0M1864.5,883.2h0M1856.0,898.8h0M1851.4,995.1h0M1839.7,977.2h0M1848.7,920.1h0M1825.3,916.3h0M1834.0,951.7h0M1859.1,1029.6h0M1829.3,926.1h0M1813.6,913.3h0M1851.3,972.6h0M1845.0,946.5h0M1824.4,937.8h0M1838.0,951.4h0M1833.1,943.5h0M1840.1,990.7h0M1835.5,1007.0h0M1877.6,990.4h0M1867.0,892.2h0M1822.0,906.0h0M1836.9,1008.9h0M1839.3,927.8h0M1859.8,907.7h0M1816.5,959.6h0M1845.9,909.2h0M1827.6,970.7h0M1880.4,1001.9h0M1841.0,960.5h0M1826.4,994.4h0M1855.2,970.7h0M1845.4,995.4h0M1851.5,946.5h0M1827.8,899.9h0M1857.5,898.4h0M1847.7,917.9h0M1874.8,889.0h0M1843.2,905.6h0M1853.6,1007.3h0M1852.4,979.3h0M1857.9,979.1h0M1857.9,916.6h0M1879.6,985.0h0M1844.8,933.4h0M1842.1,961.4h0M1855.4,910.9h0M1864.1,910.3h0M1844.1,985.9h0M1859.4,890.8h0M1852.1,965.6h0M1877.5,991.7h0M1863.4,1007.8h0M1848.2,911.3h0M1879.6,975.3h0M1853.9,958.8h0M1858.4,1013.5h0M1855.6,887.4h0M1867.6,978.5h0M1846.1,948.3h0M1858.0,994.7h0M1845.6,995.8h0M1816.4,966.3h0M1865.9,1019.4h0M1852.3,941.6h0M1849.4,919.0h0M1867.9,962.9h0M1821.2,907.9h0M1855.6,901.4h0M1860.9,921.7h0M1849.2,920.6h0M1861.5,995.6h0M1871.5,899.4h0M1818.6,970.0h0M1840.9,896.6h0M1845.6,1013.0h0M1841.4,879.3h0M1873.7,912.9h0M1832.2,930.8h0M1820.7,937.6h0M1821.5,979.8h0M1844.4,975.0h0M1848.2,925.4h0M1852.9,913.6h0M1841.4,902.7h0M1844.3,921.7h0M1857.6,1002.0h0M1839.2,953.4h0M1814.7,986.0h0M1828.5,981.2h0M1828.1,916.2h0M1828.1,986.5h0M1848.7,876.4h0M1881.3,974.3h0M1848.4,1012.9h0M1868.0,994.3h0M1866.4,932.7h0M1825.0,969.1h0M1837.5,951.3h0M1856.6,904.4h0M1834.7,996.3h0M1839.4,898.6h0M1849.3,1013.8h0M1856.4,904.9h0M1826.7,955.1h0M1849.8,913.6h0M1823.4,966.7h0M1863.6,991.0h0M1807.9,963.9h0M1817.6,987.9h0M1866.6,983.3h0M1817.8,962.8h0M1869.6,969.5h0M1835.8,972.2h0M1844.3,967.6h0M1837.9,910.8h0M1812.2,952.4h0M1850.7,919.4h0M1841.5,952.3h0M1862.8,987.5h0M1850.4,903.6h0M1821.2,995.2h0M1850.7,916.9h0M1880.9,992.6h0M1865.4,991.7h0M1838.3,902.0h0M1842.1,984.5h0M1830.9,976.6h0M1815.5,907.4h0M1824.8,981.8h0M1858.9,994.7h0M1823.7,922.3h0M1853.8,913.0h0M1856.8,883.2h0M1847.4,917.9h0M1860.2,899.5h0M1868.8,1005.4h0M1848.5,947.0h0M1834.0,971.5h0M1852.5,1017.7h0M1840.6,899.8h0M1818.7,907.1h0M1831.1,924.1h0M1870.2,974.3h0M1858.1,898.4h0M1838.4,978.6h0M1848.0,897.1h0M1845.9,894.2h0M1850.5,941.0h0M1833.5,968.4h0M1851.4,961.4h0M1876.3,872.7h0M1838.9,902.3h0M1816.9,921.1h0M1857.5,889.8h0M1840.0,979.2h0M1853.3,920.1h0M1862.0,887.3h0M1870.6,915.1h0M1834.6,966.5h0M1824.8,895.1h0M1844.4,1004.3h0M1827.5,904.6h0M1843.6,988.1h0M1875.8,997.1h0M1839.5,887.1h0M1837.7,962.0h0M1837.2,989.1h0M1831.0,888.2h0M1878.4,997.8h0M1852.5,919.8h0M1861.5,911.3h0M1835.9,902.6h0M1830.9,950.2h0M1857.7,979.3h0M1843.3,992.9h0M1863.7,910.6h0M1873.5,979.0h0M1829.9,947.0h0M1836.1,952.4h0M1850.1,904.9h0M1845.7,968.9h0M1847.5,947.4h0M1815.6,906.2h0M1851.7,878.5h0M1825.2,929.0h0M1826.9,926.9h0M1941.6,981.0h0M1931.4,979.0h0M1920.5,940.6h0M1910.4,921.0h0M1929.1,980.0h0M1937.6,983.0h0M1945.1,965.2h0M1900.9,1008.8h0M1955.6,945.2h0M1927.8,991.2h0M1924.7,961.5h0M1911.3,908.1h0M1894.8,929.7h0M1912.4,986.8h0M1963.2,930.6h0M1911.3,969.4h0M1895.9,894.0h0M1923.7,1005.9h0M1922.5,1009.9h0M1911.0,917.2h0M1920.5,928.3h0M1942.7,991.0h0M1944.7,966.3h0M1935.7,1010.6h0M1919.9,1005.5h0M1940.3,995.8h0M1949.7,905.3h0M1942.3,933.4h0M1926.4,930.6h0M1939.3,932.3h0M1947.7,999.1h0M1953.4,994.9h0M1923.0,1017.1h0M1928.4,926.9h0M1920.7,931.4h0M1913.6,943.8h0M1912.1,907.7h0M1915.3,929.9h0M1936.2,947.7h0M1926.3,891.8h0M1890.2,939.7h0M1939.6,897.5h0M1936.0,999.9h0M1941.4,943.4h0M1929.4,929.0h0M1896.6,902.0h0M1922.6,906.7h0M1917.2,963.0h0M1906.5,962.4h0M1917.7,986.1h0M1918.2,971.4h0M1925.0,883.4h0M1939.7,1008.3h0M1930.7,996.8h0M1932.8,972.7h0M1938.8,1008.4h0M1919.3,912.1h0M1932.6,903.4h0M1928.9,1009.9h0M1935.5,967.9h0M1933.9,932.5h0M1952.9,940.2h0M1939.3,992.4h0M1909.1,961.8h0M1920.3,980.0h0M1921.5,942.3h0M1930.6,1009.4h0M1922.6,983.6h0M1930.8,953.7h0M1927.9,920.9h0M1894.3,970.7h0M1928.3,994.4h0M1937.7,982.2h0M1904.2,891.3h0M1936.5,995.1h0M1924.4,1001.9h0M1907.6,916.8h0M1933.2,962.1h0M1950.5,956.7h0M1946.8,991.6h0M1937.2,971.5h0M1937.9,993.2h0M1957.2,912.1h0M1925.4,1006.0h0M1940.8,904.0h0M1924.4,965.4h0M1942.6,999.5h0M1937.9,1010.4h0M1934.6,995.7h0M1945.7,985.5h0M1930.7,925.1h0M1925.1,1004.7h0M1925.0,980.9h0M1912.2,995.6h0M1940.5,991.4h0M1921.4,990.2h0M1939.9,995.2h0M1947.5,970.7h0M1913.8,916.9h0M1916.6,921.8h0M1918.2,980.2h0M1925.5,995.1h0M1933.2,900.5h0M1932.6,913.7h0M1915.7,939.1h0M1920.7,1009.4h0M1937.7,1002.0h0M1936.5,900.9h0M1920.2,1004.5h0M1940.3,966.6h0M1922.8,890.1h0M1936.5,931.2h0M1896.4,969.6h0M1935.0,954.1h0M1931.2,1006.7h0M1907.9,910.1h0M1923.1,922.0h0M1902.7,948.4h0M1948.0,992.5h0M1936.2,1004.0h0M1894.7,949.7h0M1952.4,997.0h0M1912.3,932.8h0M1900.6,1030.3h0M1920.1,937.5h0M1936.5,919.8h0M1933.8,995.8h0M1940.9,1001.4h0M1927.2,962.9h0M1945.4,964.8h0M1936.6,976.3h0M1925.2,985.5h0M1932.5,991.9h0M1929.6,975.5h0M1947.8,985.2h0M1939.1,1001.9h0M1940.1,933.7h0M1954.7,946.1h0M1929.9,991.5h0M1928.5,989.4h0M1933.4,987.3h0M1920.8,966.5h0M1936.8,1009.5h0M1936.7,1001.2h0M1918.5,921.9h0M1938.1,1007.3h0M1940.4,970.7h0M1939.5,1008.8h0M1934.5,915.1h0M1932.6,1011.9h0M1946.0,1004.0h0M1943.8,971.6h0M1916.3,955.6h0M1922.7,1008.7h0M1947.3,975.2h0M1920.4,955.8h0M1913.9,952.0h0M1915.1,995.8h0M1929.3,991.4h0M1937.2,988.6h0M1937.0,934.4h0M1939.4,999.6h0M1948.9,902.2h0M1927.1,984.1h0M1932.1,981.7h0M1947.6,996.7h0M1954.7,995.2h0M1942.3,1002.4h0M1958.9,950.3h0M1928.3,948.3h0M1930.8,996.9h0M1945.1,950.3h0M1940.5,989.3h0M1915.0,942.3h0M1928.1,1016.9h0M1931.5,989.0h0M1935.9,914.0h0M1935.8,914.1h0M1942.6,1009.5h0M1918.0,961.9h0M1949.0,988.2h0M1912.0,980.3h0M1951.3,986.5h0M1894.7,904.3h0M1932.0,920.9h0M1919.8,935.7h0M1927.6,913.1h0M1934.7,957.9h0M1926.9,949.3h0M1934.3,984.2h0M1925.6,964.2h0M1957.4,987.2h0M1921.6,916.5h0M1927.4,962.7h0M1936.1,965.0h0M1943.2,893.1h0M1916.6,1024.4h0M1928.1,989.9h0M1939.8,1007.7h0M1953.6,995.1h0M1923.4,971.8h0M1939.7,985.9h0M1945.0,911.0h0M1895.9,935.5h0M1949.6,927.3h0M1914.1,921.4h0M1914.3,955.9h0M1932.7,934.7h0M1892.3,922.1h0M1899.3,906.5h0M1914.0,989.1h0M1922.0,1005.2h0M1931.5,995.0h0M1940.7,948.8h0M1935.8,906.4h0M1914.0,1011.1h0M1920.3,937.8h0M1935.1,1016.3h0M1938.7,976.1h0M1906.4,922.7h0M1955.1,935.0h0M1938.1,990.5h0M1890.0,925.9h0" fill="none" stroke="#dccf9e" stroke-width="2.4" stroke-linecap="round"/>
<path d="M1842.0,956.2h0M1823.3,914.2h0M1852.8,959.0h0M1836.6,934.1h0M1872.4,1002.5h0M1853.6,947.5h0M1824.0,978.7h0M1837.1,882.0h0M1845.5,924.1h0M1828.6,903.3h0M1869.1,955.7h0M1858.2,893.2h0M1845.4,877.5h0M1870.6,885.0h0M1808.8,951.6h0M1838.2,914.4h0M1871.7,892.3h0M1828.8,989.7h0M1849.0,941.7h0M1841.6,888.6h0M1860.8,888.7h0M1845.4,923.0h0M1844.1,902.6h0M1824.4,956.3h0M1822.4,978.7h0M1858.4,887.0h0M1846.8,894.9h0M1842.2,900.8h0M1817.5,953.8h0M1818.2,901.6h0M1846.3,889.3h0M1864.9,981.0h0M1846.6,982.3h0M1843.1,896.7h0M1833.9,1002.3h0M1852.0,981.3h0M1819.2,906.3h0M1851.5,1008.6h0M1915.3,900.6h0M1922.4,999.9h0M1931.7,959.6h0M1918.1,897.0h0M1931.4,1000.7h0M1909.6,889.8h0M1941.8,919.1h0M1932.9,913.4h0M1899.0,892.3h0M1942.9,900.1h0M1932.7,989.7h0M1920.7,902.2h0M1910.1,1017.2h0M1944.5,902.2h0M1932.8,987.5h0M1930.6,985.8h0M1915.5,933.4h0M1948.7,937.4h0M1935.1,932.8h0M1949.8,997.9h0M1915.7,904.8h0M1898.6,926.9h0M1903.1,1013.2h0M1908.8,951.8h0M1941.0,972.4h0M1933.6,998.3h0M1928.1,982.0h0M1929.6,962.1h0M1932.1,949.0h0M1903.3,922.7h0M1922.0,874.9h0M1931.1,997.0h0M1937.7,927.3h0M1930.0,966.0h0M1926.7,925.3h0M1951.7,952.8h0M1919.7,992.2h0" fill="none" stroke="#d8c890" stroke-width="3.2" stroke-linecap="round"/>
<line x1="1885.2" y1="857" x2="1885.2" y2="1041.4" stroke="#000" stroke-width="2.6" />
<rect x="1803.4" y="776.3" width="159.4" height="48" fill="#fff" stroke="#111" stroke-width="1.2" />
<text x="1883.1" y="807.5" font-size="19.5" text-anchor="middle" ><tspan font-style="italic">Pkm2</tspan><tspan dy="-8.19" font-size="13.65">fl/fl</tspan></text>
<rect x="1803.4" y="1055" width="159.4" height="47.8" fill="#fff" stroke="#111" stroke-width="1.2" />
<text x="1883.1" y="1085.5" font-size="18" text-anchor="middle" ><tspan font-style="italic">Pkm2</tspan><tspan dy="-8.1" font-size="12.96" letter-spacing="0.54">&#916;<tspan font-style="italic">Lyz2</tspan></tspan></text>
<text x="1789.6" y="590.4" font-size="19" text-anchor="middle" fill="#fff" >1</text>
<text x="1973.4" y="590.4" font-size="19" text-anchor="middle" fill="#fff" >2</text>
<text x="1789.6" y="880.2" font-size="19" text-anchor="middle" fill="#fff" >1</text>
<text x="1973.4" y="880.2" font-size="19" text-anchor="middle" fill="#fff" >2</text>
<defs><linearGradient id="bgg" x1="0" y1="0" x2="0" y2="1"><stop offset="0" stop-color="#191b1c"/><stop offset="0.5" stop-color="#1b1d20"/><stop offset="1" stop-color="#1d1e22"/></linearGradient></defs>
<rect x="1753.1" y="1679.4" width="205.9" height="758" fill="url(#bgg)" stroke="none" stroke-width="0" />
<rect x="1954.5" y="2184" width="4.5" height="253.4" fill="#6a6a6a" stroke="none" stroke-width="0" />
<defs><radialGradient id="ag3" cx="0.5" cy="0.5" r="0.5"><stop offset="0" stop-color="#a9b4b3"/><stop offset="0.87" stop-color="#a5b0b0"/><stop offset="0.915" stop-color="#c2c6c2"/><stop offset="0.965" stop-color="#bfc1c0"/><stop offset="1" stop-color="#8c8c9c"/></radialGradient></defs>
<circle cx="1859.5" cy="1791.5" r="99.1" fill="#3a3a4c" />
<circle cx="1859.5" cy="1791.5" r="97.5" fill="url(#ag3)" />
<circle cx="1859.5" cy="1791.5" r="95" fill="none" stroke="#dadbdc" stroke-width="1.2" stroke-opacity="0.8"/>
<circle cx="1859.5" cy="1791.5" r="88" fill="none" stroke="#cfd1cd" stroke-width="1.0" stroke-opacity="0.7"/>
<path d="M1816.1,1761.5h0M1819.4,1832.4h0M1807.8,1764.3h0M1802.4,1852.9h0M1786.4,1757.1h0M1833.2,1759.5h0M1804.7,1808.2h0M1802.7,1839.3h0M1821.4,1803.2h0M1827.1,1816.4h0M1810.7,1792.1h0M1794.6,1802.0h0M1801.0,1848.5h0M1823.6,1778.2h0M1836.6,1774.9h0M1833.7,1730.8h0M1827.5,1728.9h0M1852.1,1774.7h0M1844.5,1847.2h0M1841.4,1756.8h0M1798.8,1810.2h0M1813.9,1842.1h0M1825.3,1812.3h0M1791.9,1828.2h0M1823.4,1819.7h0M1842.9,1776.6h0M1822.4,1829.9h0M1819.1,1797.9h0M1804.9,1856.0h0M1815.6,1819.9h0M1836.1,1773.8h0M1808.3,1832.9h0M1816.2,1717.2h0M1854.3,1837.9h0M1849.0,1777.9h0M1804.4,1840.0h0M1836.4,1836.1h0M1849.0,1759.9h0M1816.3,1764.5h0M1835.2,1843.8h0M1837.9,1825.9h0M1855.7,1851.8h0M1839.7,1792.0h0M1795.5,1840.1h0M1833.0,1748.8h0M1855.2,1828.5h0M1779.2,1823.0h0M1827.0,1824.4h0M1806.8,1793.8h0M1839.9,1771.8h0M1852.6,1771.2h0M1843.5,1769.2h0M1806.0,1839.9h0M1814.5,1842.6h0M1850.7,1755.7h0M1839.3,1789.1h0M1829.4,1769.2h0M1830.3,1740.7h0M1807.5,1793.0h0M1825.4,1756.4h0M1847.7,1773.2h0M1796.6,1770.8h0M1799.8,1820.0h0M1809.8,1762.2h0M1831.9,1842.7h0M1818.2,1846.9h0M1821.8,1748.9h0M1830.5,1855.7h0M1820.5,1767.6h0M1821.6,1761.7h0M1809.8,1809.0h0M1809.7,1791.4h0M1793.3,1835.2h0M1831.3,1771.8h0M1822.0,1838.7h0M1802.8,1773.3h0M1801.9,1797.7h0M1806.0,1819.8h0M1853.6,1842.1h0M1820.9,1801.2h0M1817.5,1838.0h0M1832.7,1783.2h0M1831.7,1843.0h0M1818.9,1790.2h0M1815.1,1803.2h0M1819.1,1722.7h0M1816.1,1814.7h0M1808.9,1750.3h0M1843.3,1757.7h0M1837.7,1837.1h0M1818.1,1764.9h0M1830.2,1812.5h0M1824.5,1754.8h0M1834.9,1711.8h0M1777.8,1783.0h0M1811.0,1782.0h0M1835.5,1737.9h0M1796.6,1815.2h0M1829.8,1761.4h0M1838.2,1802.1h0M1850.0,1753.2h0M1836.0,1728.2h0M1838.2,1830.4h0M1789.1,1801.7h0M1819.4,1755.1h0M1840.1,1749.2h0M1816.5,1829.3h0M1816.7,1772.0h0M1846.9,1736.8h0M1841.8,1827.4h0M1813.2,1837.2h0M1796.1,1792.1h0M1831.7,1827.3h0M1815.5,1760.7h0M1819.4,1749.5h0M1838.4,1753.3h0M1822.2,1774.5h0M1844.4,1763.1h0M1830.8,1844.8h0M1846.1,1850.9h0M1784.9,1823.2h0M1814.3,1816.7h0M1849.0,1839.0h0M1834.3,1755.3h0M1821.8,1847.8h0M1810.7,1838.8h0M1810.2,1793.5h0M1858.1,1855.2h0M1822.9,1822.7h0M1822.8,1856.4h0M1806.9,1726.7h0M1818.8,1747.8h0M1828.6,1787.6h0M1843.9,1782.9h0M1843.4,1772.5h0M1828.4,1760.0h0M1843.4,1771.0h0M1826.1,1740.9h0M1835.8,1813.0h0M1800.7,1753.4h0M1822.2,1748.5h0M1804.4,1829.9h0M1822.6,1810.3h0M1800.0,1768.1h0M1817.2,1833.1h0M1854.4,1779.4h0M1852.4,1776.9h0M1814.2,1773.5h0M1849.0,1776.7h0M1836.8,1817.9h0M1820.3,1844.3h0M1814.9,1864.5h0M1798.1,1805.5h0M1826.8,1717.4h0M1815.4,1760.0h0M1830.5,1750.4h0M1825.8,1760.5h0M1841.5,1792.0h0M1841.8,1754.3h0M1799.7,1803.8h0M1825.9,1807.7h0M1851.2,1768.8h0M1833.0,1749.9h0M1835.7,1752.3h0M1805.0,1774.5h0M1832.3,1777.1h0M1826.3,1825.6h0M1834.3,1838.1h0M1803.0,1835.8h0M1841.1,1746.7h0M1823.6,1850.8h0M1827.6,1764.5h0M1803.2,1773.8h0M1814.5,1839.8h0M1805.1,1829.3h0M1820.2,1833.6h0M1813.0,1827.4h0M1800.6,1789.1h0M1843.5,1777.1h0M1814.0,1776.3h0M1806.2,1809.5h0M1806.6,1830.2h0M1816.3,1836.4h0M1850.4,1825.1h0M1824.7,1810.6h0M1841.2,1799.2h0M1819.1,1825.6h0M1820.5,1812.2h0M1804.8,1799.9h0M1804.7,1796.0h0M1839.9,1758.9h0M1822.0,1756.3h0M1834.6,1834.0h0M1830.5,1814.7h0M1842.7,1841.8h0M1843.4,1845.0h0M1800.6,1829.6h0M1843.4,1856.7h0M1845.0,1829.0h0M1812.6,1841.4h0M1823.6,1759.3h0M1781.5,1799.1h0M1819.0,1839.2h0M1808.7,1789.7h0M1784.7,1770.2h0M1912.5,1727.1h0M1879.3,1842.7h0M1895.5,1771.8h0M1875.0,1758.4h0M1918.3,1782.3h0M1890.3,1785.6h0M1897.8,1733.4h0M1893.9,1811.0h0M1893.1,1814.4h0M1920.8,1843.5h0M1896.8,1777.0h0M1867.8,1816.6h0M1901.2,1820.8h0M1870.8,1809.0h0M1907.0,1755.1h0M1900.3,1789.5h0M1885.1,1792.0h0M1910.2,1737.4h0M1868.7,1781.9h0M1874.1,1829.2h0M1873.3,1761.0h0M1883.8,1760.5h0M1917.2,1820.6h0M1937.5,1771.4h0M1897.2,1771.3h0M1894.8,1749.1h0M1888.4,1757.0h0M1877.3,1777.5h0M1899.9,1854.6h0M1881.2,1775.4h0M1896.0,1749.4h0M1933.2,1768.2h0M1913.0,1766.5h0M1859.6,1769.7h0M1912.2,1774.6h0M1905.2,1740.1h0M1900.1,1760.9h0M1893.4,1771.7h0M1862.6,1802.0h0M1898.8,1771.5h0M1885.0,1759.4h0M1869.4,1751.1h0M1895.3,1816.1h0M1891.1,1775.0h0M1863.5,1731.9h0M1888.9,1838.4h0M1891.1,1832.5h0M1865.4,1776.4h0M1870.1,1829.2h0M1894.7,1838.7h0M1912.3,1851.7h0M1868.7,1755.1h0M1891.0,1783.1h0M1897.1,1775.1h0M1915.3,1749.9h0M1885.1,1828.1h0M1880.8,1826.3h0M1878.2,1770.2h0M1916.8,1785.0h0M1872.8,1834.6h0M1901.7,1785.1h0M1887.4,1782.6h0M1899.9,1743.2h0M1888.7,1770.7h0M1893.5,1813.0h0M1882.0,1824.9h0M1902.7,1835.4h0M1878.0,1774.9h0M1902.4,1833.6h0M1910.0,1772.6h0M1875.8,1732.4h0M1895.5,1766.2h0M1907.1,1797.3h0M1931.2,1758.9h0M1896.3,1855.3h0M1901.3,1776.4h0M1906.3,1781.8h0M1906.4,1754.8h0M1923.6,1789.2h0M1911.4,1773.8h0M1901.6,1818.0h0M1870.0,1776.1h0M1906.4,1785.0h0M1895.9,1823.0h0M1868.6,1773.2h0M1934.9,1760.9h0M1884.4,1766.0h0M1928.0,1833.1h0M1923.2,1770.8h0M1873.3,1768.0h0M1872.3,1742.1h0M1874.8,1771.4h0M1868.1,1759.7h0M1924.5,1819.1h0M1881.4,1811.0h0M1881.9,1734.4h0M1888.9,1846.1h0M1872.4,1776.9h0M1891.7,1821.7h0M1868.0,1827.7h0M1908.0,1835.3h0M1885.5,1761.9h0M1902.4,1746.0h0M1905.3,1753.4h0M1885.9,1829.7h0M1874.0,1771.5h0M1918.4,1759.8h0M1891.0,1747.6h0M1889.0,1752.3h0M1881.8,1775.8h0M1871.3,1835.3h0M1911.3,1803.0h0M1879.9,1788.4h0M1904.4,1781.6h0M1902.1,1855.8h0M1904.1,1820.1h0M1876.9,1783.4h0M1873.3,1749.0h0M1863.2,1746.5h0M1938.1,1795.3h0M1893.9,1826.8h0M1895.9,1830.2h0M1864.5,1776.5h0M1917.5,1813.6h0M1868.8,1748.2h0M1899.8,1770.8h0M1891.2,1857.9h0M1886.3,1764.0h0M1874.5,1838.7h0M1881.0,1756.8h0M1867.9,1741.7h0M1871.9,1829.1h0M1908.7,1811.8h0M1878.0,1759.6h0M1887.6,1753.9h0M1925.1,1794.1h0M1902.9,1761.3h0M1892.1,1826.2h0M1884.3,1779.7h0M1893.6,1783.4h0M1919.7,1825.4h0M1887.8,1763.2h0M1899.7,1845.1h0M1892.0,1852.6h0M1869.6,1841.7h0M1896.0,1841.6h0M1925.8,1780.9h0M1868.0,1773.2h0M1873.4,1770.1h0M1894.1,1764.8h0M1876.9,1792.1h0M1880.9,1842.7h0M1897.0,1734.2h0M1914.2,1857.5h0M1867.9,1772.9h0M1867.2,1819.8h0M1907.0,1818.4h0M1910.3,1751.2h0M1911.8,1764.9h0M1887.1,1817.0h0M1885.2,1778.7h0M1889.7,1759.4h0M1870.6,1768.9h0" fill="none" stroke="#e6dcb8" stroke-width="2.4" stroke-linecap="round"/>
<path d="M1799.4,1792.7h0M1825.7,1863.2h0M1816.2,1768.1h0M1844.5,1735.2h0M1835.5,1762.6h0M1832.4,1784.8h0M1819.2,1827.9h0M1832.0,1747.9h0M1817.9,1780.0h0M1831.2,1836.5h0M1827.7,1834.3h0M1806.7,1798.0h0M1826.6,1758.1h0M1826.8,1832.1h0M1838.0,1742.7h0M1798.2,1777.4h0M1796.1,1775.7h0M1831.8,1746.9h0M1813.9,1810.1h0M1797.2,1820.1h0M1832.8,1839.3h0M1813.2,1847.0h0M1821.5,1758.1h0M1818.6,1822.4h0M1848.3,1830.0h0M1796.9,1793.1h0M1836.0,1769.3h0M1814.5,1861.9h0M1818.8,1763.4h0M1830.5,1836.4h0M1807.4,1847.9h0M1830.3,1846.9h0M1819.5,1849.5h0M1809.2,1787.6h0M1832.2,1749.5h0M1863.5,1710.3h0M1899.1,1757.0h0M1880.9,1785.9h0M1900.0,1819.3h0M1897.0,1755.1h0M1899.4,1760.5h0M1907.2,1754.9h0M1911.7,1749.9h0M1904.6,1769.8h0M1915.7,1775.5h0M1909.7,1839.1h0M1887.1,1765.5h0M1900.0,1834.9h0M1901.6,1790.7h0M1883.6,1819.4h0M1904.5,1790.1h0M1908.2,1809.8h0M1874.4,1743.5h0M1902.6,1820.7h0M1904.3,1826.7h0M1893.7,1741.1h0M1904.9,1843.9h0M1877.0,1757.4h0M1890.1,1768.9h0M1899.9,1798.6h0M1891.3,1836.7h0M1885.5,1754.2h0" fill="none" stroke="#e2d6ae" stroke-width="3.2" stroke-linecap="round"/>
<line x1="1853.5" y1="1706" x2="1862.7" y2="1876.1" stroke="#2a2f30" stroke-width="1.4" />
<rect x="1778" y="1893" width="161.7" height="33" fill="#fff" stroke="#111" stroke-width="1.2" />
<text x="1858.85" y="1919.2" font-size="25.3" text-anchor="middle" >Vehicle</text>
<text x="1775.3" y="1722.2" font-size="19" text-anchor="middle" fill="#fff" >1</text>
<text x="1942.3" y="1722.2" font-size="19" text-anchor="middle" fill="#fff" >2</text>
<defs><radialGradient id="ag4" cx="0.5" cy="0.5" r="0.5"><stop offset="0" stop-color="#aab5b6"/><stop offset="0.87" stop-color="#a6b1b2"/><stop offset="0.915" stop-color="#c2c6c2"/><stop offset="0.965" stop-color="#bfc1c0"/><stop offset="1" stop-color="#8c8c9c"/></radialGradient></defs>
<circle cx="1855.7" cy="2038" r="96.6" fill="#3a3a4c" />
<circle cx="1855.7" cy="2038" r="95" fill="url(#ag4)" />
<circle cx="1855.7" cy="2038" r="92.5" fill="none" stroke="#dadbdc" stroke-width="1.2" stroke-opacity="0.8"/>
<circle cx="1855.7" cy="2038" r="85.5" fill="none" stroke="#cfd1cd" stroke-width="1.0" stroke-opacity="0.7"/>
<path d="M1826.4,2070.5h0M1807.5,2054.6h0M1821.8,2038.5h0M1829.1,2009.3h0M1826.3,2044.0h0M1844.6,2081.9h0M1838.2,2062.8h0M1835.5,2034.0h0M1808.5,2072.6h0M1831.0,2082.4h0M1836.2,2022.4h0M1795.2,2056.9h0M1806.8,2017.8h0M1819.5,2088.1h0M1814.1,2047.6h0M1827.9,2067.8h0M1813.4,2040.4h0M1849.6,2048.0h0M1855.2,1973.6h0M1838.0,2064.4h0M1820.8,1985.4h0M1814.4,2024.4h0M1818.7,2082.6h0M1816.4,2012.3h0M1847.2,2061.1h0M1842.3,2058.3h0M1822.8,2015.1h0M1793.6,2000.5h0M1832.2,2061.5h0M1825.4,2032.8h0M1809.1,2062.8h0M1812.9,2009.6h0M1822.0,2096.6h0M1804.9,2018.7h0M1837.0,2008.1h0M1809.3,2009.9h0M1803.3,2039.2h0M1831.7,2029.7h0M1812.4,2085.9h0M1819.3,1990.8h0M1837.6,1983.1h0M1793.9,2041.9h0M1791.9,2034.3h0M1839.7,2036.7h0M1831.4,2037.2h0M1840.1,2046.2h0M1842.6,2016.3h0M1808.9,2053.6h0M1812.6,2030.5h0M1838.2,2024.7h0M1824.7,2094.5h0M1830.2,2069.7h0M1802.2,2059.4h0M1792.4,2085.6h0M1800.3,2051.2h0M1782.7,2045.7h0M1834.1,2010.2h0M1787.7,2012.7h0M1799.7,2056.1h0M1832.7,2039.9h0M1805.0,1996.4h0M1827.4,2025.6h0M1806.9,2041.7h0M1817.4,2041.5h0M1827.7,2070.5h0M1805.7,1979.9h0M1804.6,2009.1h0M1781.2,2041.5h0M1808.9,2029.6h0M1816.4,2014.4h0M1786.2,2003.5h0M1828.6,1968.6h0M1790.9,1986.2h0M1827.9,2033.4h0M1839.9,2027.0h0M1841.3,1987.1h0M1801.3,2096.6h0M1837.9,2044.7h0M1819.8,2064.2h0M1834.5,1993.7h0M1806.9,2077.8h0M1821.7,2016.9h0M1809.4,2046.8h0M1818.5,1982.2h0M1824.1,2005.4h0M1828.4,2004.9h0M1836.6,2064.2h0M1830.5,2065.2h0M1822.6,2015.3h0M1801.7,2036.1h0M1839.6,1983.3h0M1811.9,2018.9h0M1806.7,2009.3h0M1815.4,2062.8h0M1838.3,2052.2h0M1806.8,2056.1h0M1837.7,2058.9h0M1806.5,2049.0h0M1838.1,2047.9h0M1820.4,2039.5h0M1842.3,2043.1h0M1852.2,2060.8h0M1838.3,2030.1h0M1813.1,2100.4h0M1818.2,2057.1h0M1816.4,2056.4h0M1827.1,2030.0h0M1825.2,2050.6h0M1799.3,1991.7h0M1833.1,2054.0h0M1793.8,2009.9h0M1845.4,2018.1h0M1830.6,2000.7h0M1830.0,2016.9h0M1847.0,2011.9h0M1792.3,2048.0h0M1828.9,2039.8h0M1809.4,2040.4h0M1773.8,2043.3h0M1808.0,2053.2h0M1822.5,2035.9h0M1836.3,2052.2h0M1811.0,2097.5h0M1821.0,2073.7h0M1821.1,2085.1h0M1805.2,1996.1h0M1802.9,2009.4h0M1824.9,2020.9h0M1836.8,2025.4h0M1839.5,2034.2h0M1824.0,2004.3h0M1843.1,1986.2h0M1801.4,2027.6h0M1833.7,2060.3h0M1823.7,2011.9h0M1810.8,1993.1h0M1832.5,2073.3h0M1797.6,2029.7h0M1839.3,2020.9h0M1825.2,2029.8h0M1824.3,2098.9h0M1844.2,1996.1h0M1802.9,2095.5h0M1824.1,2030.0h0M1836.5,2020.6h0M1821.2,2064.2h0M1788.1,2022.2h0M1826.5,2086.5h0M1834.9,1992.8h0M1828.7,2039.3h0M1807.5,2021.1h0M1810.3,2000.7h0M1825.7,2108.3h0M1830.9,2084.8h0M1821.6,2087.5h0M1800.3,2003.3h0M1836.7,1988.1h0M1836.3,2038.8h0M1800.7,2004.2h0M1816.2,2002.4h0M1803.4,2004.5h0M1806.7,2056.7h0M1791.2,2052.9h0M1829.6,1996.8h0M1839.3,2069.1h0M1840.7,2075.0h0M1828.2,1969.7h0M1810.0,2054.4h0M1820.5,2009.5h0M1839.8,2001.6h0M1843.7,2075.5h0M1809.2,2026.8h0M1815.1,2001.4h0M1794.5,2058.1h0M1816.2,2008.1h0M1820.3,1979.9h0M1826.3,2024.0h0M1794.4,2004.9h0M1838.5,2007.1h0M1847.5,2061.3h0M1815.9,2041.0h0M1833.0,2055.9h0M1811.2,2027.9h0M1816.0,2027.9h0M1802.6,2053.0h0M1814.3,2047.5h0M1838.2,1984.2h0M1820.1,2027.1h0M1802.1,2088.1h0M1820.4,2073.7h0M1823.0,2014.1h0M1808.8,2018.4h0M1835.8,2009.6h0M1802.7,2047.1h0M1814.6,2057.7h0M1833.8,2021.7h0M1817.8,1999.1h0M1832.4,2028.2h0M1809.2,2076.0h0M1846.9,2034.0h0M1812.8,1984.9h0M1840.4,2035.9h0M1831.5,2000.6h0M1800.0,2054.3h0M1830.4,1994.0h0M1800.7,2074.7h0M1824.3,2029.8h0M1828.0,2086.0h0M1814.8,2047.1h0M1827.3,2011.8h0M1797.1,2025.2h0M1816.3,1974.2h0M1798.0,2037.8h0M1829.6,1987.8h0M1823.3,2063.1h0M1819.2,1995.8h0M1830.2,2021.0h0M1789.4,2023.3h0M1823.1,2051.5h0M1806.8,2005.6h0M1830.2,2010.0h0M1818.3,2013.4h0M1796.1,2040.9h0M1806.7,2024.4h0M1821.9,2071.5h0M1827.7,2056.1h0M1849.7,2080.6h0M1798.9,2011.1h0M1834.9,1978.0h0M1816.7,2032.9h0M1830.3,2055.0h0M1843.9,2016.7h0M1833.6,2040.3h0M1823.0,2102.5h0M1833.9,2045.8h0M1835.8,2044.0h0M1811.0,1987.4h0M1802.4,1982.9h0M1810.9,2006.0h0M1819.5,2004.0h0M1811.3,2053.3h0M1828.5,2021.7h0M1832.2,2023.0h0M1815.4,1977.4h0M1852.5,2047.5h0M1833.6,2057.9h0M1826.6,2036.9h0M1830.5,2074.3h0M1804.7,2047.5h0M1825.2,1983.8h0M1839.5,2098.6h0M1822.1,2000.3h0M1805.6,2087.1h0M1813.9,2051.0h0M1807.9,1985.2h0M1806.4,2039.7h0M1810.3,2058.0h0M1817.7,2083.3h0M1822.0,1979.9h0M1800.9,2005.4h0M1822.0,2015.0h0M1806.4,2075.2h0M1804.7,2072.6h0M1810.1,2017.6h0M1804.6,2056.7h0M1821.1,1995.1h0M1806.1,2037.8h0M1843.9,2023.1h0M1842.4,1988.3h0M1819.1,2009.3h0M1850.9,2043.5h0M1782.2,2039.7h0M1807.9,1995.7h0M1824.4,2067.1h0M1883.9,2088.6h0M1910.9,2080.8h0M1881.2,2004.6h0M1862.5,2078.8h0M1867.1,2064.3h0M1906.5,2036.2h0M1867.6,2019.9h0M1881.0,2043.2h0M1918.1,2085.3h0M1893.8,2082.6h0M1894.4,2047.5h0M1887.9,2094.4h0M1892.9,2020.6h0M1870.7,2073.8h0M1933.9,2032.8h0M1900.3,2028.7h0M1884.1,2050.9h0M1877.9,2012.3h0M1884.1,2054.4h0M1869.0,2000.3h0M1909.0,2029.1h0M1901.3,2002.4h0M1892.1,2093.6h0M1873.2,2059.6h0M1875.0,1996.9h0M1912.6,1988.1h0M1888.8,2077.8h0M1882.5,2047.4h0M1870.9,1990.9h0M1893.7,2074.9h0M1861.2,1978.2h0M1925.7,2023.8h0M1888.5,1998.0h0M1912.1,2062.2h0M1886.1,2067.5h0M1865.6,2022.9h0M1899.0,2075.5h0M1885.7,1968.7h0M1861.0,2073.2h0M1881.5,2074.1h0M1877.5,1981.7h0M1878.9,2066.9h0M1902.2,2008.2h0M1890.3,2055.9h0M1866.7,1994.6h0M1893.0,2020.2h0M1883.8,1960.4h0M1870.5,2057.7h0M1896.4,2025.7h0M1886.2,2077.9h0M1879.3,2044.7h0M1900.7,2063.6h0M1888.9,2102.1h0M1879.1,2080.7h0M1909.6,2001.6h0M1877.5,1999.5h0M1879.4,2065.6h0M1895.8,2008.9h0M1925.1,2018.6h0M1920.2,2001.4h0M1873.6,2038.1h0M1878.8,2116.4h0M1877.4,2095.0h0M1876.6,2054.6h0M1890.2,2027.9h0M1884.8,2043.8h0M1886.1,2017.6h0M1898.8,1986.3h0M1905.0,2055.6h0M1903.4,2078.4h0M1890.7,1997.2h0M1866.0,2061.2h0M1873.5,1993.9h0M1867.3,2093.9h0M1868.3,2045.7h0M1887.6,1999.1h0M1911.0,2030.0h0M1895.2,2016.6h0M1913.6,2089.4h0M1901.2,1989.3h0M1898.7,2062.7h0M1904.7,1984.2h0M1868.3,2042.9h0M1880.4,2105.0h0M1874.8,2061.0h0M1900.6,1993.4h0M1902.6,2042.0h0M1879.2,2034.2h0M1893.1,2080.0h0M1874.3,2023.9h0M1900.6,2061.6h0M1908.1,2018.5h0M1896.6,2099.1h0M1916.7,1983.6h0M1875.5,1971.7h0M1931.2,2040.1h0M1893.5,2026.2h0M1892.1,2022.7h0M1890.3,1976.6h0M1904.7,1988.2h0M1874.4,2116.5h0M1867.3,2007.6h0M1894.4,2062.9h0M1894.9,1993.6h0M1883.7,2028.1h0M1866.6,1990.7h0M1876.6,2003.0h0M1884.1,1992.8h0M1884.2,2006.7h0M1889.8,1987.7h0M1868.1,2011.5h0M1870.8,2010.1h0M1892.4,2026.5h0M1899.0,1991.7h0M1896.7,2011.0h0M1886.1,1990.1h0M1868.8,2011.1h0M1917.7,1994.2h0M1874.2,1973.5h0M1909.9,2027.4h0M1872.6,2005.4h0M1893.6,2023.9h0M1879.4,2066.6h0M1883.2,2057.0h0M1888.1,2080.4h0M1879.8,2051.9h0M1891.2,2018.7h0M1895.7,1996.8h0M1901.7,2059.7h0M1872.2,1976.0h0M1898.4,2056.7h0M1915.2,2071.9h0M1871.0,1997.9h0M1882.8,2013.7h0M1903.9,1995.0h0M1893.2,1963.9h0M1905.8,2011.1h0M1903.4,2058.7h0M1901.8,2000.4h0M1908.2,2043.5h0M1910.4,2077.8h0M1874.8,2022.7h0M1883.4,2084.2h0M1903.2,1995.8h0M1868.2,2047.6h0M1869.7,2021.7h0M1890.3,2000.3h0M1886.8,1997.2h0M1888.4,2042.6h0M1878.8,2081.4h0M1863.4,2042.3h0M1877.7,2015.1h0M1885.8,2006.5h0M1864.7,1987.2h0M1873.2,2092.0h0M1908.2,2051.2h0M1930.2,2029.2h0M1905.4,2062.2h0M1896.4,2090.5h0M1881.3,1995.6h0M1886.4,2007.0h0M1887.5,2024.1h0M1886.2,2024.8h0M1921.8,2024.0h0M1872.3,2034.1h0M1861.1,2084.7h0M1908.9,2076.2h0M1886.9,2057.0h0M1881.4,2079.0h0M1903.8,1973.9h0M1873.3,1979.6h0M1873.0,2018.0h0M1909.6,2030.2h0M1869.7,2032.7h0M1894.6,2042.0h0M1866.4,2068.1h0M1878.4,2020.0h0M1876.8,2065.0h0M1883.2,2044.8h0M1922.2,2087.5h0M1906.4,2009.9h0M1906.7,2079.6h0M1878.5,2045.0h0M1870.2,1994.3h0M1871.5,2032.5h0M1873.1,1993.2h0M1888.5,2032.9h0M1888.5,1997.0h0M1900.1,2033.5h0M1863.8,2082.9h0M1916.4,2094.6h0M1878.0,2043.7h0M1877.9,2031.2h0M1876.4,1958.7h0M1919.3,2012.9h0M1903.4,1996.8h0M1922.5,1997.0h0M1894.5,2005.1h0M1883.2,1985.5h0M1873.3,1995.7h0M1900.4,2015.9h0M1881.4,2074.9h0M1903.5,2038.5h0M1864.0,2095.7h0M1886.5,1998.5h0M1915.8,2028.1h0M1893.9,2037.2h0M1871.4,2044.7h0M1888.3,2004.8h0M1887.7,1996.6h0M1896.6,1991.7h0M1899.3,2105.8h0M1896.8,2066.1h0M1909.5,2023.5h0M1881.6,2077.6h0M1881.4,2053.7h0M1884.4,2018.1h0M1879.0,2057.5h0M1874.6,2028.2h0M1898.2,2084.8h0M1865.1,2055.5h0M1876.6,2017.4h0M1897.4,2022.0h0M1882.1,2005.3h0M1874.2,2016.9h0M1890.2,2028.0h0M1867.8,2088.9h0M1918.8,2018.6h0M1888.7,2071.9h0M1894.9,2046.0h0M1893.5,2084.5h0M1886.8,2075.7h0M1884.6,1999.5h0M1868.7,1993.3h0M1920.1,2042.9h0M1892.0,2002.8h0M1895.5,1976.6h0M1888.9,2093.2h0M1881.7,2055.5h0M1903.2,2067.8h0M1918.3,2046.4h0M1895.3,2016.2h0M1894.1,1997.3h0M1884.4,2053.6h0M1927.6,2039.7h0M1911.8,1999.3h0M1896.5,2069.4h0M1875.7,2064.9h0M1862.2,1993.7h0M1909.6,2046.7h0M1876.7,2054.3h0M1908.3,2038.1h0M1871.4,2014.8h0M1876.0,2065.1h0M1898.7,2073.0h0M1890.9,2065.4h0M1869.7,2007.0h0M1922.4,2040.3h0M1875.6,2011.8h0M1881.1,2014.0h0M1905.1,2022.8h0M1878.7,1987.9h0M1899.4,2038.9h0M1874.2,2068.4h0M1873.9,2072.4h0M1882.8,2067.3h0M1882.8,2072.9h0M1899.5,2008.7h0M1908.1,1993.0h0M1877.5,1990.4h0M1866.6,2004.8h0M1895.7,2017.1h0M1903.3,2054.8h0M1879.3,2076.9h0M1875.6,2070.0h0M1867.8,1964.3h0M1883.7,2041.4h0M1866.4,2070.9h0M1880.5,2028.3h0M1887.8,2007.1h0M1883.8,2015.7h0M1876.2,2035.3h0M1906.9,2032.3h0" fill="none" stroke="#e6dcb8" stroke-width="2.4" stroke-linecap="round"/>
<path d="M1807.7,2045.4h0M1810.6,2061.1h0M1839.9,2095.5h0M1817.0,2063.9h0M1800.3,2015.8h0M1803.7,2012.0h0M1840.1,1996.3h0M1822.8,2064.0h0M1825.2,2012.0h0M1809.9,2019.7h0M1844.3,2006.5h0M1837.4,2045.9h0M1831.4,2035.9h0M1838.6,2057.0h0M1848.2,2030.9h0M1814.5,1975.1h0M1813.6,2086.6h0M1816.4,2076.8h0M1848.5,1978.9h0M1819.8,2057.9h0M1812.0,1985.1h0M1796.2,1984.2h0M1811.1,1992.9h0M1805.0,2054.9h0M1827.1,2011.1h0M1797.7,2035.0h0M1782.0,2011.1h0M1827.9,2092.9h0M1823.0,1995.0h0M1809.6,2003.3h0M1796.1,1994.5h0M1811.9,2008.5h0M1783.5,2058.7h0M1824.4,2002.7h0M1793.0,1982.5h0M1850.6,2041.5h0M1835.6,2030.1h0M1815.5,2081.6h0M1847.6,1995.2h0M1808.9,2052.1h0M1809.9,2025.2h0M1815.3,2014.7h0M1815.6,2032.0h0M1829.8,2101.4h0M1810.4,2073.7h0M1821.0,2078.8h0M1900.9,2037.7h0M1882.6,2098.5h0M1903.9,2086.3h0M1908.5,2034.1h0M1911.0,2016.5h0M1869.4,2041.7h0M1886.0,2056.2h0M1887.3,1991.1h0M1907.6,2020.5h0M1876.3,1994.2h0M1873.6,2080.3h0M1885.7,1986.2h0M1895.2,1987.4h0M1908.4,2072.4h0M1862.1,2014.9h0M1905.0,2017.1h0M1906.3,2076.1h0M1904.9,2030.3h0M1868.1,2034.2h0M1875.9,2027.6h0M1881.2,2031.6h0M1928.5,2046.0h0M1907.3,2054.7h0M1919.0,2089.2h0M1894.1,2021.7h0M1880.5,1991.8h0M1909.7,2056.0h0M1902.8,1989.0h0M1893.4,2035.9h0M1873.4,2016.5h0M1893.6,2040.2h0M1901.8,2081.6h0M1877.9,2091.9h0M1936.6,2019.2h0M1880.9,2082.5h0M1899.9,2071.9h0M1882.7,2060.0h0M1919.7,2023.4h0M1916.9,2012.0h0M1898.2,2006.5h0M1901.1,2083.1h0M1930.4,2018.6h0M1903.5,2030.9h0M1906.8,1989.5h0M1900.0,2064.8h0M1896.8,2000.3h0M1899.1,2010.9h0" fill="none" stroke="#e2d6ae" stroke-width="3.2" stroke-linecap="round"/>
<line x1="1857.9" y1="1954.2" x2="1857.9" y2="2122.7" stroke="#2a2f30" stroke-width="1.4" />
<rect x="1778" y="2145" width="161.7" height="32.6" fill="#fff" stroke="#111" stroke-width="1.2" />
<text x="1858.85" y="2171.4" font-size="25.3" text-anchor="middle" >Oxalate</text>
<text x="1771.6" y="1975.3" font-size="19" text-anchor="middle" fill="#fff" >1</text>
<text x="1938.2" y="1975.3" font-size="19" text-anchor="middle" fill="#fff" >2</text>
<defs><radialGradient id="ag5" cx="0.5" cy="0.5" r="0.5"><stop offset="0" stop-color="#acb6b8"/><stop offset="0.87" stop-color="#a8b2b4"/><stop offset="0.915" stop-color="#c2c6c2"/><stop offset="0.965" stop-color="#bfc1c0"/><stop offset="1" stop-color="#8c8c9c"/></radialGradient></defs>
<circle cx="1860.7" cy="2296.5" r="95.8" fill="#3a3a4c" />
<circle cx="1860.7" cy="2296.5" r="94.2" fill="url(#ag5)" />
<circle cx="1860.7" cy="2296.5" r="91.7" fill="none" stroke="#dadbdc" stroke-width="1.2" stroke-opacity="0.8"/>
<circle cx="1860.7" cy="2296.5" r="84.7" fill="none" stroke="#cfd1cd" stroke-width="1.0" stroke-opacity="0.7"/>
<path d="M1831.0,2302.4h0M1826.0,2313.5h0M1808.4,2309.5h0M1815.8,2277.1h0M1830.2,2321.6h0M1860.2,2324.4h0M1809.2,2305.7h0M1834.4,2338.6h0M1843.4,2336.4h0M1824.9,2296.7h0M1859.3,2329.5h0M1835.9,2312.6h0M1832.9,2323.5h0M1808.1,2323.8h0M1819.6,2368.0h0M1837.5,2270.0h0M1839.9,2277.8h0M1849.3,2333.9h0M1854.4,2292.2h0M1842.8,2347.6h0M1831.0,2309.0h0M1813.5,2326.4h0M1813.4,2285.4h0M1838.3,2358.5h0M1804.2,2307.2h0M1829.0,2334.6h0M1823.9,2328.0h0M1845.3,2294.7h0M1802.3,2307.6h0M1831.4,2323.4h0M1859.1,2335.7h0M1834.7,2303.7h0M1808.0,2307.7h0M1859.2,2305.8h0M1850.8,2345.3h0M1852.9,2336.1h0M1836.5,2314.9h0M1859.1,2359.4h0M1829.0,2305.7h0M1850.7,2273.9h0M1836.8,2335.9h0M1800.8,2329.6h0M1820.7,2320.5h0M1850.2,2268.0h0M1807.6,2276.0h0M1825.8,2257.0h0M1800.4,2343.6h0M1830.9,2259.3h0M1839.0,2312.8h0M1818.4,2331.1h0M1803.4,2314.8h0M1816.6,2283.1h0M1838.1,2354.1h0M1840.1,2298.3h0M1787.2,2307.2h0M1816.4,2252.9h0M1808.7,2357.2h0M1843.3,2354.3h0M1821.6,2332.2h0M1828.7,2335.3h0M1843.8,2294.2h0M1823.7,2320.6h0M1820.7,2332.2h0M1863.0,2287.2h0M1867.5,2242.5h0M1819.0,2298.7h0M1823.7,2279.9h0M1810.8,2323.3h0M1802.3,2354.0h0M1801.3,2306.8h0M1812.4,2326.5h0M1857.7,2334.3h0M1862.7,2310.0h0M1803.9,2307.6h0M1805.1,2321.2h0M1810.9,2339.7h0M1792.6,2335.3h0M1820.4,2331.4h0M1858.6,2278.9h0M1844.7,2291.9h0M1804.8,2300.0h0M1852.7,2290.9h0M1867.3,2290.0h0M1842.8,2319.1h0M1829.7,2325.2h0M1823.6,2266.9h0M1828.8,2288.6h0M1842.2,2339.8h0M1823.5,2281.7h0M1841.3,2280.6h0M1814.2,2311.4h0M1789.4,2319.3h0M1811.7,2309.9h0M1815.7,2262.8h0M1800.3,2288.1h0M1810.8,2293.6h0M1831.9,2340.2h0M1815.8,2266.9h0M1851.6,2278.7h0M1827.2,2231.3h0M1820.7,2280.1h0M1815.2,2305.7h0M1830.2,2335.6h0M1809.7,2312.9h0M1839.9,2278.5h0M1837.7,2362.9h0M1830.1,2330.0h0M1835.8,2257.9h0M1844.3,2343.7h0M1822.2,2319.3h0M1827.9,2360.6h0M1830.6,2304.1h0M1840.7,2339.4h0M1803.0,2301.0h0M1809.5,2328.2h0M1788.8,2309.5h0M1806.0,2307.6h0M1818.8,2334.7h0M1830.8,2285.5h0M1846.0,2324.8h0M1805.6,2326.1h0M1840.6,2343.6h0M1802.8,2314.7h0M1823.7,2290.1h0M1831.5,2314.8h0M1858.7,2305.6h0M1846.7,2273.1h0M1798.3,2329.5h0M1827.6,2320.8h0M1847.6,2260.7h0M1821.6,2292.8h0M1793.4,2321.8h0M1831.3,2321.9h0M1844.2,2341.4h0M1831.7,2264.9h0M1799.1,2298.1h0M1822.4,2304.7h0M1851.6,2296.7h0M1851.0,2304.8h0M1856.3,2244.3h0M1814.8,2326.8h0M1814.9,2362.4h0M1792.4,2318.0h0M1853.1,2355.9h0M1861.6,2344.5h0M1884.8,2352.1h0M1911.5,2244.8h0M1879.4,2358.1h0M1938.2,2268.8h0M1895.5,2261.3h0M1881.4,2349.8h0M1895.3,2332.9h0M1881.3,2351.7h0M1891.7,2342.6h0M1894.7,2288.1h0M1875.3,2265.7h0M1887.1,2257.6h0M1900.7,2286.1h0M1886.9,2369.7h0M1874.6,2270.2h0M1880.0,2253.3h0M1902.8,2279.2h0M1891.7,2270.1h0M1885.5,2259.6h0M1913.6,2250.7h0M1913.4,2260.7h0M1879.3,2243.5h0M1893.9,2251.2h0M1895.7,2351.2h0M1896.0,2266.1h0M1882.0,2313.6h0M1886.7,2334.1h0M1909.7,2257.1h0M1881.8,2347.5h0M1898.0,2349.5h0M1878.0,2311.0h0M1902.5,2325.4h0M1887.7,2279.3h0M1899.9,2260.8h0M1913.0,2259.1h0M1884.4,2247.0h0M1913.1,2299.4h0M1884.5,2244.0h0M1891.9,2263.0h0M1881.5,2323.9h0M1896.1,2332.8h0M1899.7,2263.2h0M1904.7,2307.6h0M1879.3,2369.1h0M1886.0,2249.2h0M1878.1,2345.2h0M1914.2,2256.5h0M1919.9,2251.8h0M1880.5,2347.1h0M1894.3,2266.2h0M1903.5,2350.3h0M1887.3,2302.9h0M1892.8,2253.4h0M1896.8,2294.6h0M1909.6,2243.7h0M1887.9,2254.7h0M1904.3,2336.1h0M1879.9,2355.8h0M1897.5,2339.1h0M1884.4,2262.5h0M1908.7,2359.2h0M1875.3,2261.3h0M1895.5,2331.4h0M1877.4,2352.1h0M1882.8,2256.4h0M1882.2,2326.3h0M1887.2,2353.9h0M1900.2,2358.2h0M1888.2,2250.1h0M1902.3,2264.5h0M1873.7,2341.9h0M1898.0,2300.7h0M1885.2,2336.0h0M1886.3,2233.4h0M1879.1,2229.3h0M1893.9,2318.1h0M1890.1,2359.1h0M1890.1,2347.1h0M1901.4,2355.3h0M1883.8,2346.7h0M1917.2,2254.0h0M1905.1,2278.2h0M1909.1,2245.1h0M1894.7,2252.7h0M1905.8,2257.8h0M1885.0,2336.5h0M1887.8,2304.4h0M1879.2,2257.0h0M1896.8,2247.4h0M1913.0,2296.6h0M1893.6,2250.7h0M1900.7,2339.6h0M1881.1,2293.9h0M1883.4,2253.9h0M1891.6,2240.9h0M1882.2,2346.4h0M1903.2,2248.5h0M1897.3,2281.7h0M1892.6,2265.7h0M1899.3,2262.4h0M1884.1,2279.2h0M1890.2,2296.9h0M1911.2,2250.4h0M1881.6,2294.0h0M1892.9,2253.0h0M1892.0,2280.7h0M1889.4,2264.5h0M1875.6,2345.6h0M1877.6,2270.3h0M1906.7,2246.2h0M1901.3,2252.3h0M1885.6,2349.7h0M1887.8,2276.8h0M1891.6,2262.6h0M1882.5,2341.6h0M1907.7,2258.7h0M1875.1,2236.9h0M1876.6,2250.3h0M1909.8,2339.5h0M1895.2,2353.1h0M1888.0,2361.0h0M1903.1,2280.9h0M1876.2,2355.2h0M1877.2,2264.7h0M1896.5,2296.2h0M1887.8,2263.2h0M1888.1,2269.8h0M1875.8,2271.9h0M1888.5,2334.1h0M1892.9,2341.2h0M1880.7,2352.1h0M1877.7,2239.6h0M1881.0,2284.3h0M1889.2,2370.9h0M1880.7,2248.5h0M1887.8,2350.2h0M1882.1,2267.1h0M1880.4,2341.5h0M1889.3,2245.4h0M1878.4,2276.2h0M1879.7,2268.4h0M1902.4,2259.7h0M1876.1,2268.4h0M1898.9,2283.0h0M1898.1,2309.4h0M1876.7,2251.3h0M1886.8,2259.3h0M1882.8,2361.5h0M1902.0,2357.2h0M1899.6,2275.0h0M1892.7,2363.0h0M1884.8,2344.0h0M1899.8,2247.5h0M1885.4,2242.7h0M1902.2,2257.8h0" fill="none" stroke="#e6dcb8" stroke-width="2.4" stroke-linecap="round"/>
<path d="M1813.2,2323.9h0M1833.0,2332.4h0M1846.0,2333.7h0M1813.5,2325.1h0M1858.3,2274.4h0M1821.0,2295.2h0M1835.1,2264.2h0M1831.4,2247.8h0M1801.5,2290.4h0M1812.7,2302.0h0M1854.2,2284.9h0M1817.3,2334.5h0M1855.1,2249.6h0M1820.4,2287.8h0M1832.8,2352.3h0M1819.8,2322.9h0M1816.7,2321.8h0M1831.6,2346.0h0M1817.5,2327.7h0M1810.9,2314.0h0M1855.9,2327.4h0M1835.7,2268.9h0M1848.3,2320.7h0M1866.7,2353.7h0M1827.1,2293.1h0M1885.1,2351.0h0M1923.0,2307.7h0M1891.6,2353.7h0M1910.8,2266.8h0M1923.6,2281.7h0M1890.1,2348.4h0M1873.8,2348.6h0M1880.0,2356.9h0M1884.4,2336.1h0M1889.0,2259.3h0M1890.6,2256.7h0M1917.1,2292.2h0M1883.0,2258.1h0M1874.9,2281.0h0M1893.3,2277.6h0M1899.7,2343.2h0M1889.3,2280.5h0M1902.1,2319.7h0M1886.0,2250.8h0M1885.7,2260.6h0M1901.3,2246.9h0M1919.4,2259.8h0M1883.5,2344.8h0M1880.2,2343.6h0M1885.5,2339.8h0" fill="none" stroke="#e2d6ae" stroke-width="3.2" stroke-linecap="round"/>
<line x1="1870.8" y1="2211.6" x2="1870.8" y2="2379.4" stroke="#2a2f30" stroke-width="1.4" />
<rect x="1784.2" y="2400" width="161.6" height="32.6" fill="#fff" stroke="#111" stroke-width="1.2" />
<text x="1865" y="2425.8" font-size="25.3" text-anchor="middle" >TEPP-46</text>
<text x="1775.3" y="2231" font-size="19" text-anchor="middle" fill="#fff" >1</text>
<text x="1942.3" y="2231" font-size="19" text-anchor="middle" fill="#fff" >2</text>
</svg>
</body></html>
